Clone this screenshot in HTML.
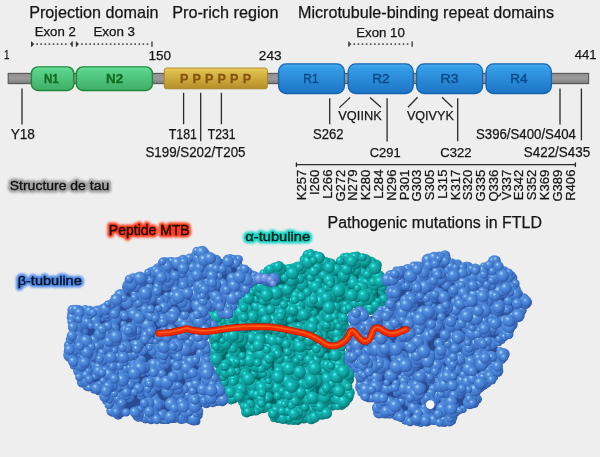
<!DOCTYPE html>
<html><head><meta charset="utf-8"><style>
html,body{margin:0;padding:0;background:#eeeeee;}
svg{display:block;font-family:"Liberation Sans",sans-serif;will-change:transform;}
</style></head><body>
<svg width="600" height="457" viewBox="0 0 600 457">
<defs>
<linearGradient id="gGray" x1="0" y1="0" x2="0" y2="1"><stop offset="0" stop-color="#8e8e8e"/><stop offset="0.5" stop-color="#9a9a9a"/><stop offset="1" stop-color="#7c7c7c"/></linearGradient>
<linearGradient id="gGreen" x1="0" y1="0" x2="0" y2="1"><stop offset="0" stop-color="#6ee39c"/><stop offset="0.15" stop-color="#5bd28b"/><stop offset="1" stop-color="#3fae66"/></linearGradient>
<linearGradient id="gGold" x1="0" y1="0" x2="0" y2="1"><stop offset="0" stop-color="#ead067"/><stop offset="0.15" stop-color="#dfbf4c"/><stop offset="1" stop-color="#b48e2a"/></linearGradient>
<linearGradient id="gBlue" x1="0" y1="0" x2="0" y2="1"><stop offset="0" stop-color="#4cacf0"/><stop offset="0.15" stop-color="#359ce6"/><stop offset="1" stop-color="#1c74c6"/></linearGradient>
<radialGradient id="sB" cx="0.36" cy="0.32" r="0.72"><stop offset="0" stop-color="#c8f0ff"/><stop offset="0.08" stop-color="#8cc2f0"/><stop offset="0.25" stop-color="#5790de"/><stop offset="0.55" stop-color="#4680d2"/><stop offset="0.8" stop-color="#3a6cbe"/><stop offset="1" stop-color="#2a509a"/></radialGradient>
<radialGradient id="sT" cx="0.36" cy="0.32" r="0.72"><stop offset="0" stop-color="#70fffc"/><stop offset="0.08" stop-color="#3ae2e0"/><stop offset="0.25" stop-color="#17bab6"/><stop offset="0.55" stop-color="#10a4a1"/><stop offset="0.8" stop-color="#0b8a88"/><stop offset="1" stop-color="#066868"/></radialGradient>
<filter id="fGray" x="-10%" y="-50%" width="120%" height="200%"><feMorphology in="SourceAlpha" operator="dilate" radius="1.8" result="d"/><feGaussianBlur in="d" stdDeviation="1.2" result="b"/><feFlood flood-color="#a4a4a4"/><feComposite in2="b" operator="in" result="g"/><feMerge><feMergeNode in="g"/><feMergeNode in="SourceGraphic"/></feMerge></filter>
<filter id="fRed" x="-10%" y="-50%" width="120%" height="200%"><feMorphology in="SourceAlpha" operator="dilate" radius="1.5" result="d"/><feGaussianBlur in="d" stdDeviation="1.0" result="b"/><feFlood flood-color="#ff2a0a"/><feComposite in2="b" operator="in" result="g"/><feMerge><feMergeNode in="g"/><feMergeNode in="SourceGraphic"/></feMerge></filter>
<filter id="fTeal" x="-10%" y="-50%" width="120%" height="200%"><feMorphology in="SourceAlpha" operator="dilate" radius="1.5" result="d"/><feGaussianBlur in="d" stdDeviation="1.0" result="b"/><feFlood flood-color="#19d3c3"/><feComposite in2="b" operator="in" result="g"/><feMerge><feMergeNode in="g"/><feMergeNode in="SourceGraphic"/></feMerge></filter>
<filter id="fBlue" x="-10%" y="-50%" width="120%" height="200%"><feMorphology in="SourceAlpha" operator="dilate" radius="1.5" result="d"/><feGaussianBlur in="d" stdDeviation="1.0" result="b"/><feFlood flood-color="#4a84e4"/><feComposite in2="b" operator="in" result="g"/><feMerge><feMergeNode in="g"/><feMergeNode in="SourceGraphic"/></feMerge></filter>
<filter id="fBlur8" x="-10%" y="-50%" width="120%" height="200%"><feGaussianBlur stdDeviation="0.8"/></filter><filter id="fBlur9" x="-10%" y="-50%" width="120%" height="200%"><feGaussianBlur stdDeviation="0.9"/></filter>
<radialGradient id="sL" cx="0.36" cy="0.32" r="0.72"><stop offset="0" stop-color="#b8d4ff"/><stop offset="0.25" stop-color="#7e9eea"/><stop offset="0.6" stop-color="#6a8ada"/><stop offset="1" stop-color="#4862b8"/></radialGradient>
</defs>
<rect width="600" height="457" fill="#eeeeee"/>

<text x="29.21" y="18.00" font-size="15.99" textLength="129.34" lengthAdjust="spacingAndGlyphs" fill="#161616" stroke="#161616" stroke-width="0.25">Projection domain</text>
<text x="172.20" y="18.00" font-size="15.99" textLength="106.41" lengthAdjust="spacingAndGlyphs" fill="#161616" stroke="#161616" stroke-width="0.25">Pro-rich region</text>
<text x="298.01" y="18.00" font-size="15.99" textLength="256.13" lengthAdjust="spacingAndGlyphs" fill="#161616" stroke="#161616" stroke-width="0.25">Microtubule-binding repeat domains</text>
<text x="34.75" y="36.30" font-size="12.06" textLength="40.95" lengthAdjust="spacingAndGlyphs" fill="#161616" stroke="#161616" stroke-width="0.25">Exon 2</text>
<text x="93.43" y="36.30" font-size="12.06" textLength="41.65" lengthAdjust="spacingAndGlyphs" fill="#161616" stroke="#161616" stroke-width="0.25">Exon 3</text>
<text x="356.24" y="36.70" font-size="12.21" textLength="48.51" lengthAdjust="spacingAndGlyphs" fill="#161616" stroke="#161616" stroke-width="0.25">Exon 10</text>
<rect x="31.0" y="41.5" width="1.1" height="5.2" fill="#333"/><rect x="71.5" y="41.4" width="1.3" height="5.4" fill="#333"/><path d="M32.0 42.0 L34.2 44.1 L32.0 46.2Z" fill="#333"/><path d="M71.8 42.1 L69.8 44.1 L71.8 46.1Z" fill="#333"/><rect x="36.3" y="43.3" width="1.6" height="1.6" fill="#444"/><rect x="40.4" y="43.3" width="1.6" height="1.6" fill="#444"/><rect x="44.5" y="43.3" width="1.6" height="1.6" fill="#444"/><rect x="48.6" y="43.3" width="1.6" height="1.6" fill="#444"/><rect x="52.7" y="43.3" width="1.6" height="1.6" fill="#444"/><rect x="56.8" y="43.3" width="1.6" height="1.6" fill="#444"/><rect x="60.9" y="43.3" width="1.6" height="1.6" fill="#444"/><rect x="65.0" y="43.3" width="1.6" height="1.6" fill="#444"/>
<rect x="75.8" y="41.5" width="1.1" height="5.2" fill="#333"/><rect x="151.3" y="41.4" width="1.3" height="5.4" fill="#333"/><path d="M76.8 42.0 L79.0 44.1 L76.8 46.2Z" fill="#333"/><rect x="81.1" y="43.3" width="1.6" height="1.6" fill="#444"/><rect x="85.2" y="43.3" width="1.6" height="1.6" fill="#444"/><rect x="89.3" y="43.3" width="1.6" height="1.6" fill="#444"/><rect x="93.4" y="43.3" width="1.6" height="1.6" fill="#444"/><rect x="97.5" y="43.3" width="1.6" height="1.6" fill="#444"/><rect x="101.6" y="43.3" width="1.6" height="1.6" fill="#444"/><rect x="105.7" y="43.3" width="1.6" height="1.6" fill="#444"/><rect x="109.8" y="43.3" width="1.6" height="1.6" fill="#444"/><rect x="113.9" y="43.3" width="1.6" height="1.6" fill="#444"/><rect x="118.0" y="43.3" width="1.6" height="1.6" fill="#444"/><rect x="122.1" y="43.3" width="1.6" height="1.6" fill="#444"/><rect x="126.2" y="43.3" width="1.6" height="1.6" fill="#444"/><rect x="130.3" y="43.3" width="1.6" height="1.6" fill="#444"/><rect x="134.4" y="43.3" width="1.6" height="1.6" fill="#444"/><rect x="138.5" y="43.3" width="1.6" height="1.6" fill="#444"/><rect x="142.6" y="43.3" width="1.6" height="1.6" fill="#444"/><rect x="146.7" y="43.3" width="1.6" height="1.6" fill="#444"/>
<rect x="348.2" y="41.5" width="1.1" height="5.2" fill="#333"/><rect x="411.5" y="41.4" width="1.3" height="5.4" fill="#333"/><path d="M349.2 42.0 L351.4 44.1 L349.2 46.2Z" fill="#333"/><rect x="353.5" y="43.3" width="1.6" height="1.6" fill="#444"/><rect x="357.6" y="43.3" width="1.6" height="1.6" fill="#444"/><rect x="361.7" y="43.3" width="1.6" height="1.6" fill="#444"/><rect x="365.8" y="43.3" width="1.6" height="1.6" fill="#444"/><rect x="369.9" y="43.3" width="1.6" height="1.6" fill="#444"/><rect x="374.0" y="43.3" width="1.6" height="1.6" fill="#444"/><rect x="378.1" y="43.3" width="1.6" height="1.6" fill="#444"/><rect x="382.2" y="43.3" width="1.6" height="1.6" fill="#444"/><rect x="386.3" y="43.3" width="1.6" height="1.6" fill="#444"/><rect x="390.4" y="43.3" width="1.6" height="1.6" fill="#444"/><rect x="394.5" y="43.3" width="1.6" height="1.6" fill="#444"/><rect x="398.6" y="43.3" width="1.6" height="1.6" fill="#444"/><rect x="402.7" y="43.3" width="1.6" height="1.6" fill="#444"/><rect x="406.8" y="43.3" width="1.6" height="1.6" fill="#444"/>
<text x="3.96" y="59.30" font-size="13.52" textLength="5.50" lengthAdjust="spacingAndGlyphs" fill="#161616" stroke="#161616" stroke-width="0.25">1</text>
<text x="148.49" y="59.50" font-size="13.52" textLength="22.53" lengthAdjust="spacingAndGlyphs" fill="#161616" stroke="#161616" stroke-width="0.25">150</text>
<text x="258.82" y="59.50" font-size="13.52" textLength="22.78" lengthAdjust="spacingAndGlyphs" fill="#161616" stroke="#161616" stroke-width="0.25">243</text>
<text x="574.74" y="59.30" font-size="13.52" textLength="21.90" lengthAdjust="spacingAndGlyphs" fill="#161616" stroke="#161616" stroke-width="0.25">441</text>
<rect x="8.2" y="73.4" width="580.4" height="10.2" fill="url(#gGray)" stroke="#555" stroke-width="1.1"/>
<rect x="31.4" y="66.9" width="42.4" height="23.6" rx="6.5" fill="url(#gGreen)" stroke="#1d8a3a" stroke-width="1.4"/>
<rect x="76.4" y="66.9" width="76" height="23.6" rx="6.5" fill="url(#gGreen)" stroke="#1d8a3a" stroke-width="1.4"/>
<text x="43.95" y="82.90" font-size="12.79" textLength="14.67" lengthAdjust="spacingAndGlyphs" fill="#0f6e22" font-weight="bold" stroke="#0f6e22" stroke-width="0.3">N1</text>
<text x="106.13" y="82.90" font-size="12.79" textLength="17.04" lengthAdjust="spacingAndGlyphs" fill="#0f6e22" font-weight="bold" stroke="#0f6e22" stroke-width="0.3">N2</text>
<rect x="164.2" y="68" width="103.2" height="20.8" rx="2.5" fill="url(#gGold)" stroke="#a8841e" stroke-width="0.9"/>
<text x="179.88" y="82.90" font-size="13.08" textLength="8.43" lengthAdjust="spacingAndGlyphs" fill="#85540e" font-weight="bold" stroke="#85540e" stroke-width="0.3">P</text>
<text x="192.43" y="82.90" font-size="13.08" textLength="8.43" lengthAdjust="spacingAndGlyphs" fill="#85540e" font-weight="bold" stroke="#85540e" stroke-width="0.3">P</text>
<text x="204.98" y="82.90" font-size="13.08" textLength="8.43" lengthAdjust="spacingAndGlyphs" fill="#85540e" font-weight="bold" stroke="#85540e" stroke-width="0.3">P</text>
<text x="217.53" y="82.90" font-size="13.08" textLength="8.43" lengthAdjust="spacingAndGlyphs" fill="#85540e" font-weight="bold" stroke="#85540e" stroke-width="0.3">P</text>
<text x="230.08" y="82.90" font-size="13.08" textLength="8.43" lengthAdjust="spacingAndGlyphs" fill="#85540e" font-weight="bold" stroke="#85540e" stroke-width="0.3">P</text>
<text x="242.63" y="82.90" font-size="13.08" textLength="8.43" lengthAdjust="spacingAndGlyphs" fill="#85540e" font-weight="bold" stroke="#85540e" stroke-width="0.3">P</text>
<rect x="278.6" y="63.9" width="65.8" height="29.6" rx="7.5" fill="url(#gBlue)" stroke="#1462b0" stroke-width="1.3"/>
<text x="303.35" y="83.00" font-size="13.37" textLength="15.23" lengthAdjust="spacingAndGlyphs" fill="#0b4a88" stroke="#0b4a88" stroke-width="0.45">R1</text>
<rect x="348.2" y="63.9" width="65.0" height="29.6" rx="7.5" fill="url(#gBlue)" stroke="#1462b0" stroke-width="1.3"/>
<text x="372.22" y="83.00" font-size="13.37" textLength="17.31" lengthAdjust="spacingAndGlyphs" fill="#0b4a88" stroke="#0b4a88" stroke-width="0.45">R2</text>
<rect x="416.6" y="63.9" width="66.0" height="29.6" rx="7.5" fill="url(#gBlue)" stroke="#1462b0" stroke-width="1.3"/>
<text x="440.56" y="83.00" font-size="13.37" textLength="18.15" lengthAdjust="spacingAndGlyphs" fill="#0b4a88" stroke="#0b4a88" stroke-width="0.45">R3</text>
<rect x="486.0" y="63.9" width="65.4" height="29.6" rx="7.5" fill="url(#gBlue)" stroke="#1462b0" stroke-width="1.3"/>
<text x="510.21" y="83.00" font-size="13.37" textLength="17.37" lengthAdjust="spacingAndGlyphs" fill="#0b4a88" stroke="#0b4a88" stroke-width="0.45">R4</text>
<line x1="22.0" y1="88.6" x2="22.0" y2="124.4" stroke="#2a2a2a" stroke-width="1.3"/>
<line x1="183.6" y1="92.8" x2="183.6" y2="124.2" stroke="#2a2a2a" stroke-width="1.3"/>
<line x1="200.7" y1="92.8" x2="200.7" y2="141.2" stroke="#2a2a2a" stroke-width="1.3"/>
<line x1="221.4" y1="92.8" x2="221.4" y2="124.2" stroke="#2a2a2a" stroke-width="1.3"/>
<line x1="329.7" y1="98.2" x2="329.7" y2="124.2" stroke="#2a2a2a" stroke-width="1.3"/>
<line x1="387.1" y1="98.2" x2="387.1" y2="141.5" stroke="#2a2a2a" stroke-width="1.3"/>
<line x1="457.7" y1="98.2" x2="457.7" y2="141.2" stroke="#2a2a2a" stroke-width="1.3"/>
<line x1="560.0" y1="88.5" x2="560.0" y2="124.4" stroke="#2a2a2a" stroke-width="1.3"/>
<line x1="581.4" y1="88.5" x2="581.4" y2="140.4" stroke="#2a2a2a" stroke-width="1.3"/>
<line x1="350.2" y1="97.4" x2="339.4" y2="107.6" stroke="#2a2a2a" stroke-width="1.3"/>
<line x1="370" y1="97.4" x2="381" y2="107.2" stroke="#2a2a2a" stroke-width="1.3"/>
<line x1="417.6" y1="97.2" x2="408" y2="107.2" stroke="#2a2a2a" stroke-width="1.3"/>
<line x1="442" y1="97.2" x2="452.4" y2="107.2" stroke="#2a2a2a" stroke-width="1.3"/>
<text x="10.66" y="139.00" font-size="13.95" textLength="24.28" lengthAdjust="spacingAndGlyphs" fill="#161616" stroke="#161616" stroke-width="0.25">Y18</text>
<text x="168.75" y="139.00" font-size="13.95" textLength="28.20" lengthAdjust="spacingAndGlyphs" fill="#161616" stroke="#161616" stroke-width="0.25">T181</text>
<text x="207.76" y="139.00" font-size="13.95" textLength="27.78" lengthAdjust="spacingAndGlyphs" fill="#161616" stroke="#161616" stroke-width="0.25">T231</text>
<text x="145.40" y="157.40" font-size="13.95" textLength="100.15" lengthAdjust="spacingAndGlyphs" fill="#161616" stroke="#161616" stroke-width="0.25">S199/S202/T205</text>
<text x="313.01" y="139.00" font-size="13.95" textLength="30.65" lengthAdjust="spacingAndGlyphs" fill="#161616" stroke="#161616" stroke-width="0.25">S262</text>
<text x="338.34" y="120.40" font-size="13.66" textLength="43.39" lengthAdjust="spacingAndGlyphs" fill="#161616" stroke="#161616" stroke-width="0.25">VQIINK</text>
<text x="369.76" y="156.60" font-size="13.66" textLength="30.83" lengthAdjust="spacingAndGlyphs" fill="#161616" stroke="#161616" stroke-width="0.25">C291</text>
<text x="406.94" y="120.40" font-size="13.66" textLength="46.84" lengthAdjust="spacingAndGlyphs" fill="#161616" stroke="#161616" stroke-width="0.25">VQIVYK</text>
<text x="440.34" y="156.60" font-size="13.66" textLength="31.32" lengthAdjust="spacingAndGlyphs" fill="#161616" stroke="#161616" stroke-width="0.25">C322</text>
<text x="476.01" y="139.00" font-size="13.95" textLength="99.96" lengthAdjust="spacingAndGlyphs" fill="#161616" stroke="#161616" stroke-width="0.25">S396/S400/S404</text>
<text x="523.80" y="156.60" font-size="13.95" textLength="66.32" lengthAdjust="spacingAndGlyphs" fill="#161616" stroke="#161616" stroke-width="0.25">S422/S435</text>
<line x1="296.4" y1="164.6" x2="575.4" y2="164.6" stroke="#2a2a2a" stroke-width="1.4"/>
<line x1="296.4" y1="162.4" x2="296.4" y2="167.0" stroke="#2a2a2a" stroke-width="1.3"/>
<line x1="575.4" y1="162.4" x2="575.4" y2="167.0" stroke="#2a2a2a" stroke-width="1.3"/>
<text transform="translate(306.40,169.6) rotate(-90)" x="0" y="0" font-size="13.08" text-anchor="end" fill="#161616" stroke="#161616" stroke-width="0.25">K257</text>
<text transform="translate(319.17,169.6) rotate(-90)" x="0" y="0" font-size="13.08" text-anchor="end" fill="#161616" stroke="#161616" stroke-width="0.25">I260</text>
<text transform="translate(331.94,169.6) rotate(-90)" x="0" y="0" font-size="13.08" text-anchor="end" fill="#161616" stroke="#161616" stroke-width="0.25">L266</text>
<text transform="translate(344.71,169.6) rotate(-90)" x="0" y="0" font-size="13.08" text-anchor="end" fill="#161616" stroke="#161616" stroke-width="0.25">G272</text>
<text transform="translate(357.48,169.6) rotate(-90)" x="0" y="0" font-size="13.08" text-anchor="end" fill="#161616" stroke="#161616" stroke-width="0.25">N279</text>
<text transform="translate(370.25,169.6) rotate(-90)" x="0" y="0" font-size="13.08" text-anchor="end" fill="#161616" stroke="#161616" stroke-width="0.25">K280</text>
<text transform="translate(383.02,169.6) rotate(-90)" x="0" y="0" font-size="13.08" text-anchor="end" fill="#161616" stroke="#161616" stroke-width="0.25">L284</text>
<text transform="translate(395.79,169.6) rotate(-90)" x="0" y="0" font-size="13.08" text-anchor="end" fill="#161616" stroke="#161616" stroke-width="0.25">N296</text>
<text transform="translate(408.56,169.6) rotate(-90)" x="0" y="0" font-size="13.08" text-anchor="end" fill="#161616" stroke="#161616" stroke-width="0.25">P301</text>
<text transform="translate(421.33,169.6) rotate(-90)" x="0" y="0" font-size="13.08" text-anchor="end" fill="#161616" stroke="#161616" stroke-width="0.25">G303</text>
<text transform="translate(434.10,169.6) rotate(-90)" x="0" y="0" font-size="13.08" text-anchor="end" fill="#161616" stroke="#161616" stroke-width="0.25">S305</text>
<text transform="translate(446.87,169.6) rotate(-90)" x="0" y="0" font-size="13.08" text-anchor="end" fill="#161616" stroke="#161616" stroke-width="0.25">L315</text>
<text transform="translate(459.64,169.6) rotate(-90)" x="0" y="0" font-size="13.08" text-anchor="end" fill="#161616" stroke="#161616" stroke-width="0.25">K317</text>
<text transform="translate(472.41,169.6) rotate(-90)" x="0" y="0" font-size="13.08" text-anchor="end" fill="#161616" stroke="#161616" stroke-width="0.25">S320</text>
<text transform="translate(485.18,169.6) rotate(-90)" x="0" y="0" font-size="13.08" text-anchor="end" fill="#161616" stroke="#161616" stroke-width="0.25">G335</text>
<text transform="translate(497.95,169.6) rotate(-90)" x="0" y="0" font-size="13.08" text-anchor="end" fill="#161616" stroke="#161616" stroke-width="0.25">Q336</text>
<text transform="translate(510.72,169.6) rotate(-90)" x="0" y="0" font-size="13.08" text-anchor="end" fill="#161616" stroke="#161616" stroke-width="0.25">V337</text>
<text transform="translate(523.49,169.6) rotate(-90)" x="0" y="0" font-size="13.08" text-anchor="end" fill="#161616" stroke="#161616" stroke-width="0.25">E342</text>
<text transform="translate(536.26,169.6) rotate(-90)" x="0" y="0" font-size="13.08" text-anchor="end" fill="#161616" stroke="#161616" stroke-width="0.25">S352</text>
<text transform="translate(549.03,169.6) rotate(-90)" x="0" y="0" font-size="13.08" text-anchor="end" fill="#161616" stroke="#161616" stroke-width="0.25">K369</text>
<text transform="translate(561.80,169.6) rotate(-90)" x="0" y="0" font-size="13.08" text-anchor="end" fill="#161616" stroke="#161616" stroke-width="0.25">G389</text>
<text transform="translate(574.57,169.6) rotate(-90)" x="0" y="0" font-size="13.08" text-anchor="end" fill="#161616" stroke="#161616" stroke-width="0.25">R406</text>
<g filter="url(#fBlur9)"><text x="9.77" y="189.90" font-size="13.52" textLength="99.44" lengthAdjust="spacingAndGlyphs" fill="#a2a2a2" stroke="#a2a2a2" stroke-width="5.6" stroke-linejoin="round">Structure de tau</text></g><text x="9.77" y="189.90" font-size="13.52" textLength="99.44" lengthAdjust="spacingAndGlyphs" fill="#111111" stroke="#111111" stroke-width="0.35">Structure de tau</text>
<path d="M259.4 278.0 L258.8 281.0 L258.7 281.2 L258.6 281.4 L258.5 281.6 L258.4 281.8 L253.1 290.6 L253.0 290.8 L252.8 291.1 L245.8 298.1 L245.6 298.2 L245.4 298.4 L241.0 301.3 L239.4 309.0 L239.4 309.2 L239.3 309.5 L239.2 309.7 L239.1 309.9 L238.9 310.1 L238.8 310.3 L231.8 317.2 L227.9 321.7 L227.7 321.8 L227.5 322.0 L227.3 322.1 L227.1 322.3 L226.9 322.3 L226.6 322.4 L226.4 322.5 L226.1 322.5 L225.9 322.5 L225.6 322.5 L225.4 322.4 L225.2 322.4 L224.9 322.3 L224.7 322.1 L224.5 322.0 L224.3 321.8 L224.1 321.7 L224.0 321.5 L223.8 321.3 L219.7 314.2 L214.4 312.9 L212.0 313.7 L213.0 317.5 L217.4 320.4 L217.6 320.6 L217.8 320.7 L217.9 320.9 L218.1 321.1 L218.2 321.3 L218.3 321.5 L218.4 321.8 L218.5 322.0 L218.5 322.3 L218.5 322.5 L218.5 327.8 L218.5 328.1 L218.4 328.3 L218.4 328.6 L218.3 328.8 L218.2 329.0 L218.0 329.3 L217.9 329.5 L217.7 329.6 L217.5 329.8 L211.5 334.3 L211.5 339.8 L213.3 349.6 L213.3 349.8 L213.3 350.0 L213.3 350.2 L212.5 359.5 L219.0 371.8 L219.1 372.1 L223.5 382.8 L227.7 391.4 L227.8 391.6 L227.9 391.9 L230.0 399.9 L230.7 400.7 L238.2 399.8 L238.5 399.8 L238.7 399.8 L238.9 399.8 L239.2 399.9 L239.4 400.0 L239.6 400.1 L239.8 400.2 L240.0 400.3 L240.2 400.5 L240.4 400.6 L240.5 400.8 L240.6 401.0 L240.8 401.2 L240.9 401.5 L244.7 412.2 L249.4 413.7 L257.4 411.8 L257.7 411.7 L266.4 410.5 L266.6 410.5 L266.9 410.5 L267.1 410.5 L267.3 410.6 L267.6 410.7 L267.8 410.8 L268.0 410.9 L268.2 411.0 L268.4 411.2 L268.6 411.4 L268.8 411.6 L268.9 411.8 L272.7 418.6 L282.3 421.5 L292.6 422.5 L299.7 421.5 L306.6 420.5 L307.0 420.5 L313.5 420.5 L321.8 417.2 L327.7 414.2 L329.1 410.0 L329.2 409.8 L329.3 409.6 L329.4 409.4 L329.6 409.2 L329.8 409.0 L329.9 408.8 L330.1 408.7 L330.4 408.6 L333.9 406.8 L334.1 406.7 L334.3 406.6 L334.6 406.5 L334.8 406.5 L335.1 406.5 L335.4 406.5 L341.6 407.4 L345.6 405.3 L350.2 399.3 L351.7 391.7 L350.1 387.1 L350.1 386.9 L350.0 386.6 L350.0 386.3 L350.0 386.1 L350.1 385.8 L351.7 377.6 L350.2 371.5 L343.4 361.4 L343.3 361.2 L343.2 360.9 L343.1 360.7 L343.0 360.4 L343.0 360.2 L343.0 359.9 L343.5 339.9 L343.5 339.6 L345.0 329.6 L345.1 329.4 L345.1 329.2 L346.7 324.8 L345.1 320.3 L345.1 320.0 L345.0 319.8 L345.0 319.5 L345.0 314.3 L345.0 314.1 L345.0 313.8 L345.1 313.6 L345.2 313.3 L345.3 313.1 L345.4 312.9 L345.6 312.7 L345.7 312.5 L351.0 307.2 L351.2 307.1 L351.4 306.9 L351.6 306.8 L351.8 306.7 L352.0 306.6 L352.2 306.6 L359.2 304.9 L359.4 304.8 L359.7 304.8 L359.9 304.8 L360.1 304.8 L360.4 304.9 L360.6 304.9 L365.8 306.6 L366.0 306.7 L366.2 306.8 L366.4 306.9 L366.6 307.1 L366.8 307.2 L366.9 307.4 L367.1 307.6 L369.5 311.3 L372.4 310.3 L377.2 305.5 L377.4 305.4 L377.6 305.2 L377.8 305.1 L378.0 305.0 L378.2 304.9 L382.7 303.4 L385.1 299.8 L383.6 292.0 L383.5 291.8 L383.5 291.5 L383.5 291.2 L383.6 291.0 L385.2 283.0 L382.8 276.2 L379.2 271.5 L379.1 271.3 L379.0 271.1 L378.9 270.9 L378.8 270.6 L378.8 270.4 L377.7 263.7 L373.6 259.7 L364.3 256.2 L357.3 255.0 L350.2 255.0 L342.6 256.1 L339.5 260.2 L339.3 260.4 L339.2 260.6 L339.0 260.8 L338.8 260.9 L338.6 261.0 L338.3 261.1 L338.1 261.2 L333.1 262.4 L332.8 262.5 L332.6 262.5 L332.3 262.5 L332.1 262.5 L331.8 262.4 L331.6 262.3 L331.3 262.2 L323.8 258.2 L323.7 258.1 L316.5 253.6 L310.3 252.1 L305.6 254.4 L302.2 261.1 L302.1 261.3 L302.0 261.5 L301.8 261.7 L301.7 261.8 L301.5 262.0 L301.3 262.1 L301.1 262.2 L293.6 266.0 L293.4 266.1 L293.2 266.2 L292.9 266.2 L285.4 267.5 L285.2 267.5 L284.9 267.5 L284.7 267.5 L284.5 267.4 L284.3 267.4 L284.0 267.3 L283.8 267.2 L277.5 263.8 L271.2 267.2 L270.9 267.3 L267.3 268.7 L262.9 272.6Z" fill="#066666"/><g fill="url(#sT)"><circle cx="271.3" cy="378.4" r="3.7"/><circle cx="332.9" cy="288.3" r="4.0"/><circle cx="249.9" cy="351.6" r="3.7"/><circle cx="303.2" cy="285.2" r="4.1"/><circle cx="241.9" cy="316.3" r="5.1"/><circle cx="324.0" cy="384.6" r="4.4"/><circle cx="302.8" cy="394.2" r="3.8"/><circle cx="261.6" cy="280.1" r="5.5"/><circle cx="342.1" cy="334.6" r="5.3"/><circle cx="225.6" cy="378.0" r="5.4"/><circle cx="293.2" cy="289.6" r="6.2"/><circle cx="301.6" cy="415.9" r="4.5"/><circle cx="223.1" cy="376.9" r="5.4"/><circle cx="319.3" cy="260.7" r="4.3"/><circle cx="269.9" cy="285.2" r="4.4"/><circle cx="250.2" cy="311.2" r="4.5"/><circle cx="309.5" cy="390.9" r="6.8"/><circle cx="328.0" cy="262.8" r="4.7"/><circle cx="286.6" cy="297.3" r="4.1"/><circle cx="275.0" cy="351.4" r="6.5"/><circle cx="323.0" cy="314.3" r="4.4"/><circle cx="284.1" cy="292.6" r="3.8"/><circle cx="322.7" cy="320.5" r="5.2"/><circle cx="340.7" cy="326.6" r="5.7"/><circle cx="290.5" cy="375.6" r="5.6"/><circle cx="325.6" cy="356.7" r="3.5"/><circle cx="306.6" cy="379.9" r="4.3"/><circle cx="281.6" cy="398.7" r="5.7"/><circle cx="275.7" cy="408.6" r="4.6"/><circle cx="260.8" cy="334.6" r="3.7"/><circle cx="292.8" cy="374.3" r="5.5"/><circle cx="292.2" cy="301.4" r="6.2"/><circle cx="216.1" cy="345.4" r="5.9"/><circle cx="312.1" cy="325.0" r="4.0"/><circle cx="245.6" cy="320.9" r="5.3"/><circle cx="301.5" cy="346.7" r="4.5"/><circle cx="273.9" cy="305.3" r="5.6"/><circle cx="265.5" cy="356.0" r="5.9"/><circle cx="258.8" cy="362.3" r="4.0"/><circle cx="355.1" cy="300.6" r="6.6"/><circle cx="292.8" cy="386.7" r="6.7"/><circle cx="297.0" cy="346.3" r="3.6"/><circle cx="245.2" cy="397.0" r="5.7"/><circle cx="325.3" cy="270.9" r="4.1"/><circle cx="315.4" cy="379.7" r="3.6"/><circle cx="352.9" cy="268.1" r="5.7"/><circle cx="247.7" cy="365.2" r="4.1"/><circle cx="321.6" cy="349.3" r="5.2"/><circle cx="304.5" cy="266.9" r="4.0"/><circle cx="250.1" cy="335.4" r="6.4"/><circle cx="222.6" cy="370.1" r="5.4"/><circle cx="383.7" cy="294.5" r="3.3"/><circle cx="343.5" cy="370.9" r="6.1"/><circle cx="223.3" cy="369.3" r="3.7"/><circle cx="276.0" cy="279.3" r="4.5"/><circle cx="263.3" cy="371.2" r="4.3"/><circle cx="272.7" cy="378.2" r="5.5"/><circle cx="330.6" cy="390.8" r="5.2"/><circle cx="345.0" cy="311.4" r="3.4"/><circle cx="348.6" cy="296.7" r="5.1"/><circle cx="233.7" cy="399.6" r="4.0"/><circle cx="344.1" cy="266.3" r="5.2"/><circle cx="213.5" cy="355.6" r="3.4"/><circle cx="360.4" cy="271.0" r="4.4"/><circle cx="308.4" cy="323.7" r="5.5"/><circle cx="321.4" cy="262.8" r="6.3"/><circle cx="302.3" cy="331.5" r="3.4"/><circle cx="332.0" cy="384.6" r="5.7"/><circle cx="261.5" cy="357.2" r="6.0"/><circle cx="255.2" cy="301.5" r="4.1"/><circle cx="267.0" cy="269.9" r="3.2"/><circle cx="292.9" cy="378.5" r="6.6"/><circle cx="302.2" cy="383.6" r="5.1"/><circle cx="264.5" cy="381.6" r="4.6"/><circle cx="336.9" cy="358.8" r="3.5"/><circle cx="283.2" cy="310.9" r="4.2"/><circle cx="374.8" cy="283.2" r="3.5"/><circle cx="302.7" cy="315.2" r="6.3"/><circle cx="281.3" cy="383.4" r="6.6"/><circle cx="319.9" cy="302.8" r="4.4"/><circle cx="355.1" cy="261.1" r="6.7"/><circle cx="335.5" cy="287.8" r="6.2"/><circle cx="245.6" cy="366.6" r="5.9"/><circle cx="336.4" cy="313.6" r="5.7"/><circle cx="256.7" cy="323.7" r="5.9"/><circle cx="304.0" cy="317.1" r="5.8"/><circle cx="257.8" cy="355.9" r="5.6"/><circle cx="268.2" cy="291.0" r="4.5"/><circle cx="276.4" cy="354.2" r="5.5"/><circle cx="258.7" cy="371.7" r="6.0"/><circle cx="254.3" cy="313.2" r="6.5"/><circle cx="266.5" cy="293.4" r="3.9"/><circle cx="269.4" cy="327.8" r="5.6"/><circle cx="267.1" cy="359.8" r="4.8"/><circle cx="229.4" cy="387.7" r="4.7"/><circle cx="299.0" cy="394.7" r="4.7"/><circle cx="309.9" cy="407.5" r="4.9"/><circle cx="291.5" cy="392.5" r="4.6"/><circle cx="254.3" cy="362.7" r="6.0"/><circle cx="256.5" cy="306.6" r="5.6"/><circle cx="324.5" cy="315.4" r="3.4"/><circle cx="260.5" cy="400.7" r="5.3"/><circle cx="273.8" cy="320.0" r="6.4"/><circle cx="305.1" cy="273.5" r="6.2"/><circle cx="374.5" cy="283.7" r="4.3"/><circle cx="307.2" cy="353.8" r="5.3"/><circle cx="303.6" cy="416.7" r="6.7"/><circle cx="317.2" cy="403.9" r="5.7"/><circle cx="364.4" cy="276.4" r="5.7"/><circle cx="382.0" cy="301.9" r="4.4"/><circle cx="263.6" cy="286.4" r="3.9"/><circle cx="343.2" cy="390.8" r="6.4"/><circle cx="318.9" cy="320.7" r="6.3"/><circle cx="381.6" cy="291.8" r="3.7"/><circle cx="235.9" cy="316.9" r="6.5"/><circle cx="225.9" cy="386.8" r="3.7"/><circle cx="328.6" cy="270.6" r="5.2"/><circle cx="316.5" cy="261.1" r="4.2"/><circle cx="248.7" cy="378.7" r="4.1"/><circle cx="268.9" cy="351.1" r="3.9"/><circle cx="291.8" cy="353.6" r="6.2"/><circle cx="267.3" cy="374.2" r="5.7"/><circle cx="289.0" cy="418.4" r="6.3"/><circle cx="219.9" cy="318.2" r="3.8"/><circle cx="346.6" cy="295.5" r="3.9"/><circle cx="340.8" cy="281.8" r="5.8"/><circle cx="344.8" cy="326.3" r="3.7"/><circle cx="333.6" cy="334.2" r="5.6"/><circle cx="256.1" cy="387.8" r="3.8"/><circle cx="311.3" cy="419.0" r="5.3"/><circle cx="217.2" cy="342.8" r="6.6"/><circle cx="296.5" cy="375.0" r="3.5"/><circle cx="265.9" cy="277.6" r="5.4"/><circle cx="350.7" cy="277.9" r="4.1"/><circle cx="242.8" cy="303.4" r="5.3"/><circle cx="220.4" cy="324.9" r="5.5"/><circle cx="298.9" cy="273.4" r="5.7"/><circle cx="309.8" cy="391.3" r="4.6"/><circle cx="341.5" cy="404.8" r="5.1"/><circle cx="314.4" cy="271.7" r="6.1"/><circle cx="268.7" cy="369.4" r="3.8"/><circle cx="334.7" cy="311.4" r="3.4"/><circle cx="268.2" cy="274.5" r="5.9"/><circle cx="286.0" cy="268.5" r="3.8"/><circle cx="231.2" cy="397.0" r="5.3"/><circle cx="244.8" cy="332.3" r="3.4"/><circle cx="277.1" cy="325.5" r="3.4"/><circle cx="329.6" cy="288.9" r="5.6"/><circle cx="294.7" cy="303.3" r="3.2"/><circle cx="321.4" cy="286.1" r="3.9"/><circle cx="318.4" cy="401.4" r="4.6"/><circle cx="263.7" cy="296.9" r="6.0"/><circle cx="272.2" cy="310.2" r="3.7"/><circle cx="311.3" cy="284.2" r="6.5"/><circle cx="274.4" cy="355.0" r="4.5"/><circle cx="312.0" cy="412.2" r="4.2"/><circle cx="314.9" cy="255.8" r="5.0"/><circle cx="237.8" cy="375.6" r="6.6"/><circle cx="254.8" cy="393.9" r="5.3"/><circle cx="256.4" cy="299.3" r="4.0"/><circle cx="254.8" cy="383.3" r="4.3"/><circle cx="239.7" cy="373.6" r="3.5"/><circle cx="344.3" cy="266.3" r="5.9"/><circle cx="356.9" cy="256.1" r="4.6"/><circle cx="244.7" cy="359.5" r="4.7"/><circle cx="326.1" cy="344.3" r="5.0"/><circle cx="342.3" cy="275.8" r="4.2"/><circle cx="221.4" cy="351.6" r="4.2"/><circle cx="293.3" cy="328.6" r="6.5"/><circle cx="323.8" cy="342.8" r="5.6"/><circle cx="277.8" cy="340.6" r="4.4"/><circle cx="297.9" cy="296.1" r="3.2"/><circle cx="344.5" cy="396.4" r="4.5"/><circle cx="369.5" cy="295.6" r="6.7"/><circle cx="289.8" cy="349.6" r="5.2"/><circle cx="291.0" cy="361.4" r="5.0"/><circle cx="320.5" cy="267.4" r="5.5"/><circle cx="289.0" cy="349.2" r="5.6"/><circle cx="254.6" cy="325.7" r="5.2"/><circle cx="235.5" cy="341.7" r="5.4"/><circle cx="323.6" cy="328.0" r="5.3"/><circle cx="230.1" cy="349.1" r="3.9"/><circle cx="283.5" cy="303.9" r="5.3"/><circle cx="256.8" cy="343.0" r="5.6"/><circle cx="369.5" cy="296.4" r="4.8"/><circle cx="291.5" cy="284.5" r="3.9"/><circle cx="256.4" cy="409.0" r="5.9"/><circle cx="292.3" cy="384.0" r="5.9"/><circle cx="307.4" cy="370.5" r="6.2"/><circle cx="293.7" cy="360.2" r="5.0"/><circle cx="281.9" cy="396.1" r="4.4"/><circle cx="293.8" cy="269.6" r="4.8"/><circle cx="368.9" cy="295.1" r="6.3"/><circle cx="319.7" cy="337.6" r="5.8"/><circle cx="335.4" cy="367.6" r="5.8"/><circle cx="360.8" cy="281.0" r="3.5"/><circle cx="293.8" cy="314.0" r="3.2"/><circle cx="230.9" cy="370.5" r="3.8"/><circle cx="287.2" cy="383.6" r="4.9"/><circle cx="236.7" cy="371.2" r="3.9"/><circle cx="282.9" cy="404.8" r="3.8"/><circle cx="247.0" cy="393.1" r="5.8"/><circle cx="333.7" cy="296.6" r="3.3"/><circle cx="321.3" cy="259.9" r="4.8"/><circle cx="292.3" cy="317.0" r="4.8"/><circle cx="334.0" cy="317.9" r="3.7"/><circle cx="326.4" cy="313.4" r="5.5"/><circle cx="228.4" cy="332.3" r="5.4"/><circle cx="284.6" cy="302.7" r="4.9"/><circle cx="382.5" cy="286.6" r="5.2"/><circle cx="223.4" cy="347.1" r="6.3"/><circle cx="290.0" cy="355.3" r="5.5"/><circle cx="250.1" cy="324.0" r="6.0"/><circle cx="313.0" cy="312.7" r="4.8"/><circle cx="341.4" cy="318.9" r="6.0"/><circle cx="224.5" cy="335.8" r="3.4"/><circle cx="263.5" cy="273.2" r="4.0"/><circle cx="249.3" cy="364.8" r="6.7"/><circle cx="279.2" cy="342.8" r="5.0"/><circle cx="265.4" cy="304.3" r="5.0"/><circle cx="260.8" cy="295.1" r="4.7"/><circle cx="298.2" cy="344.6" r="3.7"/><circle cx="349.2" cy="379.5" r="4.9"/><circle cx="290.0" cy="376.9" r="5.5"/><circle cx="330.2" cy="311.8" r="5.2"/><circle cx="254.3" cy="373.7" r="4.0"/><circle cx="224.3" cy="382.2" r="4.2"/><circle cx="367.7" cy="284.8" r="4.3"/><circle cx="318.0" cy="360.2" r="6.0"/><circle cx="287.9" cy="275.2" r="5.3"/><circle cx="287.9" cy="336.7" r="6.5"/><circle cx="296.1" cy="297.8" r="4.1"/><circle cx="340.7" cy="307.1" r="5.7"/><circle cx="290.2" cy="312.2" r="6.1"/><circle cx="291.2" cy="287.0" r="4.9"/><circle cx="292.2" cy="309.5" r="4.4"/><circle cx="301.8" cy="361.2" r="6.5"/><circle cx="263.3" cy="334.1" r="3.2"/><circle cx="296.5" cy="303.1" r="4.9"/><circle cx="277.2" cy="273.4" r="6.2"/><circle cx="283.2" cy="380.2" r="3.7"/><circle cx="314.4" cy="264.3" r="6.7"/><circle cx="320.2" cy="354.1" r="3.7"/><circle cx="238.1" cy="336.5" r="5.8"/><circle cx="240.8" cy="384.0" r="6.6"/><circle cx="344.2" cy="257.5" r="4.6"/><circle cx="302.4" cy="276.1" r="3.9"/><circle cx="299.4" cy="327.0" r="4.9"/><circle cx="304.9" cy="319.7" r="4.4"/><circle cx="242.3" cy="360.1" r="6.7"/><circle cx="305.4" cy="396.3" r="4.4"/><circle cx="369.7" cy="284.8" r="3.8"/><circle cx="300.3" cy="410.9" r="6.1"/><circle cx="233.6" cy="394.7" r="3.2"/><circle cx="222.8" cy="324.4" r="6.1"/><circle cx="305.9" cy="342.6" r="6.4"/><circle cx="264.7" cy="331.5" r="4.1"/><circle cx="264.3" cy="296.3" r="4.7"/><circle cx="339.2" cy="319.1" r="3.4"/><circle cx="263.2" cy="347.7" r="6.8"/><circle cx="301.3" cy="333.7" r="5.2"/><circle cx="234.3" cy="352.2" r="6.5"/><circle cx="266.8" cy="301.6" r="5.2"/><circle cx="352.6" cy="301.4" r="6.2"/><circle cx="341.6" cy="353.2" r="4.1"/><circle cx="363.2" cy="261.2" r="6.6"/><circle cx="306.4" cy="398.8" r="5.5"/><circle cx="264.0" cy="384.4" r="5.4"/><circle cx="342.2" cy="321.4" r="5.2"/><circle cx="216.5" cy="335.1" r="6.2"/><circle cx="331.8" cy="378.5" r="4.6"/><circle cx="264.9" cy="286.4" r="6.2"/><circle cx="331.7" cy="345.6" r="4.4"/><circle cx="253.3" cy="356.1" r="3.6"/><circle cx="289.3" cy="290.6" r="5.3"/><circle cx="320.5" cy="398.1" r="4.1"/><circle cx="306.3" cy="255.7" r="3.9"/><circle cx="314.9" cy="367.2" r="5.3"/><circle cx="236.1" cy="386.4" r="5.1"/><circle cx="243.8" cy="316.1" r="3.3"/><circle cx="232.3" cy="395.4" r="3.4"/><circle cx="246.6" cy="411.9" r="5.6"/><circle cx="317.7" cy="339.0" r="5.9"/><circle cx="234.2" cy="334.6" r="5.7"/><circle cx="231.0" cy="399.7" r="4.8"/><circle cx="322.6" cy="364.7" r="5.0"/><circle cx="270.8" cy="308.8" r="4.5"/><circle cx="339.5" cy="305.8" r="6.4"/><circle cx="289.1" cy="304.5" r="3.3"/><circle cx="299.6" cy="310.4" r="3.9"/><circle cx="336.8" cy="330.1" r="6.0"/><circle cx="278.7" cy="320.7" r="6.1"/><circle cx="225.9" cy="327.4" r="6.2"/><circle cx="362.7" cy="272.3" r="4.0"/><circle cx="245.2" cy="372.9" r="4.7"/><circle cx="283.2" cy="340.8" r="3.6"/><circle cx="291.2" cy="375.0" r="6.7"/><circle cx="341.1" cy="365.7" r="5.5"/><circle cx="376.5" cy="264.9" r="5.3"/><circle cx="231.6" cy="333.7" r="3.2"/><circle cx="263.5" cy="407.5" r="5.8"/><circle cx="272.2" cy="340.5" r="3.3"/><circle cx="332.5" cy="406.6" r="4.1"/><circle cx="265.6" cy="362.1" r="5.5"/><circle cx="360.4" cy="304.3" r="3.3"/><circle cx="233.0" cy="398.9" r="3.6"/><circle cx="219.1" cy="349.8" r="3.5"/><circle cx="280.3" cy="364.9" r="6.6"/><circle cx="281.1" cy="396.1" r="3.3"/><circle cx="306.0" cy="370.1" r="5.7"/><circle cx="354.3" cy="292.0" r="3.4"/><circle cx="296.4" cy="347.6" r="4.9"/><circle cx="278.9" cy="387.9" r="4.9"/><circle cx="215.3" cy="315.2" r="5.9"/><circle cx="254.9" cy="336.3" r="6.1"/><circle cx="333.3" cy="319.2" r="5.0"/><circle cx="257.3" cy="351.0" r="4.9"/><circle cx="356.3" cy="270.3" r="5.0"/><circle cx="345.0" cy="285.0" r="6.0"/><circle cx="260.4" cy="400.5" r="6.6"/><circle cx="372.5" cy="297.3" r="4.4"/><circle cx="260.7" cy="315.5" r="4.7"/><circle cx="329.9" cy="399.6" r="5.6"/><circle cx="304.6" cy="259.9" r="5.0"/><circle cx="308.7" cy="387.3" r="5.8"/><circle cx="265.4" cy="300.9" r="5.3"/><circle cx="301.0" cy="303.4" r="4.1"/><circle cx="299.1" cy="296.7" r="4.5"/><circle cx="237.1" cy="324.5" r="5.6"/><circle cx="269.4" cy="347.7" r="5.6"/><circle cx="319.4" cy="297.5" r="6.5"/><circle cx="290.3" cy="320.1" r="3.6"/><circle cx="300.5" cy="366.7" r="4.3"/><circle cx="348.7" cy="381.7" r="3.2"/><circle cx="370.1" cy="293.9" r="5.9"/><circle cx="305.6" cy="328.2" r="4.1"/><circle cx="354.7" cy="303.5" r="5.0"/><circle cx="336.5" cy="364.4" r="4.7"/><circle cx="247.6" cy="407.3" r="5.8"/><circle cx="378.0" cy="275.9" r="5.1"/><circle cx="255.8" cy="316.0" r="4.4"/><circle cx="278.0" cy="333.9" r="5.7"/><circle cx="318.4" cy="294.7" r="6.7"/><circle cx="333.2" cy="331.8" r="5.0"/><circle cx="343.5" cy="279.8" r="6.6"/><circle cx="284.4" cy="338.3" r="3.4"/><circle cx="279.7" cy="300.5" r="4.1"/><circle cx="286.5" cy="298.8" r="3.6"/><circle cx="340.6" cy="334.7" r="4.1"/><circle cx="221.2" cy="345.3" r="6.3"/><circle cx="370.3" cy="271.2" r="4.8"/><circle cx="297.3" cy="407.0" r="5.6"/><circle cx="335.3" cy="350.0" r="4.3"/><circle cx="267.8" cy="338.6" r="5.4"/><circle cx="268.4" cy="351.8" r="3.9"/><circle cx="297.4" cy="401.3" r="4.9"/><circle cx="302.6" cy="341.0" r="4.3"/><circle cx="383.4" cy="297.6" r="3.6"/><circle cx="333.1" cy="270.9" r="5.2"/><circle cx="262.3" cy="291.3" r="3.6"/><circle cx="327.1" cy="288.7" r="4.7"/><circle cx="313.8" cy="330.4" r="3.9"/><circle cx="227.4" cy="373.0" r="5.7"/><circle cx="257.2" cy="290.0" r="4.6"/><circle cx="254.7" cy="350.4" r="3.2"/><circle cx="345.8" cy="367.4" r="4.4"/><circle cx="300.7" cy="316.8" r="3.9"/><circle cx="336.6" cy="387.4" r="5.4"/><circle cx="288.9" cy="390.8" r="5.6"/><circle cx="283.3" cy="377.7" r="6.5"/><circle cx="263.0" cy="366.4" r="6.2"/><circle cx="267.5" cy="386.6" r="6.5"/><circle cx="297.9" cy="291.8" r="3.8"/><circle cx="243.1" cy="337.4" r="4.7"/><circle cx="256.6" cy="334.2" r="4.2"/><circle cx="370.7" cy="262.8" r="6.2"/><circle cx="356.0" cy="288.5" r="3.5"/><circle cx="213.9" cy="351.2" r="3.9"/><circle cx="282.0" cy="404.7" r="6.1"/><circle cx="310.5" cy="333.7" r="4.5"/><circle cx="291.9" cy="328.1" r="4.3"/><circle cx="346.4" cy="380.4" r="6.5"/><circle cx="327.9" cy="411.8" r="3.3"/><circle cx="289.0" cy="343.9" r="4.7"/><circle cx="330.6" cy="263.6" r="5.4"/><circle cx="252.8" cy="385.1" r="6.5"/><circle cx="281.3" cy="288.3" r="4.1"/><circle cx="262.8" cy="348.3" r="3.8"/><circle cx="307.5" cy="300.8" r="5.7"/><circle cx="347.2" cy="258.0" r="5.4"/><circle cx="259.4" cy="384.2" r="3.7"/><circle cx="321.5" cy="343.0" r="3.5"/><circle cx="275.8" cy="342.1" r="5.9"/><circle cx="288.3" cy="269.0" r="3.8"/><circle cx="278.2" cy="417.7" r="5.3"/><circle cx="337.5" cy="333.6" r="5.3"/><circle cx="368.3" cy="288.7" r="3.8"/><circle cx="374.3" cy="274.6" r="6.3"/><circle cx="329.3" cy="392.6" r="5.4"/><circle cx="344.3" cy="377.2" r="4.5"/><circle cx="285.9" cy="279.4" r="3.3"/><circle cx="316.3" cy="299.4" r="3.7"/><circle cx="233.5" cy="319.1" r="4.4"/><circle cx="292.1" cy="308.8" r="5.3"/><circle cx="343.0" cy="327.3" r="5.1"/><circle cx="305.9" cy="395.6" r="3.9"/><circle cx="320.3" cy="346.1" r="3.9"/><circle cx="315.7" cy="274.6" r="6.2"/><circle cx="307.6" cy="391.5" r="3.7"/><circle cx="315.4" cy="322.7" r="4.1"/><circle cx="320.7" cy="368.0" r="4.7"/><circle cx="246.4" cy="301.7" r="4.5"/><circle cx="261.3" cy="290.1" r="3.7"/><circle cx="289.9" cy="290.9" r="3.5"/><circle cx="256.9" cy="319.2" r="4.4"/><circle cx="344.3" cy="383.6" r="6.1"/><circle cx="323.4" cy="275.1" r="4.4"/><circle cx="229.4" cy="356.8" r="3.8"/><circle cx="297.9" cy="267.9" r="6.5"/><circle cx="259.7" cy="295.1" r="3.9"/><circle cx="243.6" cy="359.9" r="4.2"/><circle cx="226.4" cy="374.1" r="4.4"/><circle cx="215.3" cy="338.6" r="6.3"/><circle cx="230.2" cy="392.0" r="4.5"/><circle cx="307.4" cy="383.8" r="5.5"/><circle cx="297.9" cy="420.5" r="4.4"/><circle cx="348.1" cy="294.5" r="4.3"/><circle cx="365.7" cy="305.8" r="3.7"/><circle cx="279.7" cy="370.2" r="4.6"/><circle cx="275.4" cy="299.4" r="6.7"/><circle cx="296.9" cy="416.7" r="3.9"/><circle cx="269.4" cy="271.6" r="6.2"/><circle cx="237.9" cy="387.3" r="3.9"/><circle cx="313.1" cy="323.9" r="5.1"/><circle cx="383.7" cy="298.7" r="4.7"/><circle cx="274.9" cy="309.1" r="4.2"/><circle cx="244.3" cy="328.8" r="5.6"/><circle cx="261.8" cy="360.1" r="6.4"/><circle cx="269.1" cy="283.1" r="6.7"/><circle cx="281.1" cy="389.4" r="3.5"/><circle cx="278.3" cy="306.2" r="6.5"/><circle cx="220.9" cy="364.0" r="3.9"/><circle cx="298.1" cy="330.1" r="4.2"/><circle cx="273.2" cy="340.6" r="5.8"/><circle cx="217.3" cy="332.7" r="4.4"/><circle cx="369.3" cy="303.4" r="6.1"/><circle cx="221.7" cy="370.6" r="6.4"/><circle cx="244.2" cy="374.4" r="4.4"/><circle cx="236.9" cy="386.5" r="6.3"/><circle cx="262.4" cy="315.1" r="3.9"/><circle cx="327.9" cy="402.7" r="4.0"/><circle cx="279.0" cy="266.3" r="5.2"/><circle cx="314.7" cy="409.7" r="5.5"/><circle cx="275.6" cy="350.6" r="6.0"/><circle cx="338.5" cy="399.1" r="6.4"/><circle cx="361.2" cy="290.1" r="4.0"/><circle cx="336.9" cy="269.3" r="5.4"/><circle cx="232.1" cy="379.3" r="4.4"/><circle cx="317.2" cy="268.0" r="5.1"/><circle cx="244.8" cy="406.6" r="3.7"/><circle cx="315.6" cy="403.3" r="4.8"/><circle cx="264.9" cy="389.7" r="4.8"/><circle cx="287.7" cy="292.8" r="5.5"/><circle cx="310.7" cy="277.7" r="4.1"/><circle cx="322.9" cy="381.4" r="4.9"/><circle cx="282.3" cy="307.9" r="6.5"/><circle cx="366.0" cy="291.1" r="5.7"/><circle cx="244.3" cy="300.9" r="3.9"/><circle cx="300.0" cy="304.7" r="3.5"/><circle cx="307.2" cy="254.6" r="4.5"/><circle cx="308.0" cy="331.8" r="6.1"/><circle cx="351.3" cy="269.0" r="4.3"/><circle cx="330.1" cy="323.5" r="4.5"/><circle cx="270.5" cy="271.9" r="4.7"/><circle cx="222.9" cy="377.4" r="3.5"/><circle cx="345.7" cy="304.4" r="3.8"/><circle cx="366.5" cy="283.9" r="6.8"/><circle cx="289.0" cy="359.4" r="3.8"/><circle cx="216.3" cy="315.9" r="5.2"/><circle cx="330.2" cy="307.6" r="3.8"/><circle cx="360.8" cy="302.9" r="3.8"/><circle cx="262.2" cy="400.5" r="5.0"/><circle cx="349.2" cy="370.5" r="3.4"/><circle cx="244.4" cy="396.0" r="6.5"/><circle cx="243.9" cy="391.9" r="4.3"/><circle cx="344.9" cy="371.3" r="5.4"/><circle cx="280.5" cy="269.0" r="5.4"/><circle cx="378.1" cy="301.1" r="3.3"/><circle cx="348.5" cy="374.4" r="6.2"/><circle cx="261.4" cy="307.7" r="4.5"/><circle cx="268.3" cy="397.0" r="5.0"/><circle cx="362.2" cy="292.2" r="5.6"/><circle cx="323.6" cy="323.9" r="3.7"/><circle cx="304.8" cy="360.7" r="5.3"/><circle cx="293.4" cy="346.0" r="4.9"/><circle cx="238.6" cy="397.0" r="3.6"/><circle cx="256.4" cy="290.2" r="5.8"/><circle cx="285.7" cy="382.9" r="4.4"/><circle cx="309.0" cy="307.5" r="5.1"/><circle cx="261.5" cy="329.5" r="6.4"/><circle cx="319.3" cy="345.7" r="4.5"/><circle cx="279.5" cy="340.0" r="4.6"/><circle cx="309.8" cy="297.9" r="6.2"/><circle cx="281.6" cy="355.9" r="3.4"/><circle cx="281.0" cy="358.7" r="4.5"/><circle cx="292.1" cy="345.0" r="3.5"/><circle cx="357.4" cy="297.0" r="5.2"/><circle cx="255.7" cy="355.8" r="4.6"/><circle cx="267.6" cy="398.7" r="3.5"/><circle cx="310.5" cy="252.8" r="3.8"/><circle cx="284.5" cy="291.7" r="3.9"/><circle cx="250.8" cy="344.9" r="6.4"/><circle cx="330.3" cy="321.7" r="4.0"/><circle cx="318.3" cy="281.5" r="4.0"/><circle cx="273.7" cy="324.9" r="4.7"/><circle cx="277.7" cy="292.9" r="4.9"/><circle cx="373.4" cy="283.7" r="6.4"/><circle cx="216.1" cy="364.2" r="3.5"/><circle cx="333.9" cy="317.7" r="4.2"/><circle cx="312.7" cy="409.3" r="4.3"/><circle cx="238.7" cy="361.1" r="4.6"/><circle cx="313.2" cy="337.9" r="6.8"/><circle cx="273.6" cy="418.5" r="3.5"/><circle cx="233.7" cy="379.6" r="5.6"/><circle cx="259.4" cy="408.2" r="5.5"/><circle cx="317.6" cy="298.2" r="3.8"/><circle cx="339.8" cy="370.9" r="5.4"/><circle cx="255.1" cy="327.3" r="3.9"/><circle cx="247.9" cy="327.8" r="4.8"/><circle cx="339.7" cy="287.1" r="6.1"/><circle cx="245.0" cy="316.8" r="4.9"/><circle cx="306.0" cy="407.4" r="3.5"/><circle cx="353.1" cy="255.8" r="3.7"/><circle cx="275.2" cy="351.0" r="4.5"/><circle cx="354.7" cy="262.8" r="6.6"/><circle cx="326.9" cy="356.5" r="3.7"/><circle cx="317.7" cy="372.9" r="3.5"/><circle cx="306.8" cy="316.2" r="4.1"/><circle cx="272.0" cy="324.4" r="4.1"/><circle cx="315.1" cy="406.4" r="4.2"/><circle cx="284.2" cy="308.1" r="3.2"/><circle cx="230.5" cy="332.1" r="4.5"/><circle cx="273.0" cy="409.3" r="5.4"/><circle cx="300.8" cy="356.1" r="3.7"/><circle cx="264.2" cy="313.5" r="5.3"/><circle cx="256.2" cy="365.8" r="6.6"/><circle cx="324.7" cy="386.1" r="4.5"/><circle cx="255.9" cy="411.8" r="3.8"/><circle cx="345.4" cy="309.9" r="4.4"/><circle cx="276.8" cy="411.8" r="3.6"/><circle cx="247.3" cy="337.3" r="4.4"/><circle cx="266.5" cy="301.6" r="3.3"/><circle cx="301.9" cy="284.7" r="6.6"/><circle cx="251.7" cy="355.4" r="6.6"/><circle cx="307.4" cy="399.8" r="4.4"/><circle cx="336.3" cy="306.4" r="4.8"/><circle cx="262.0" cy="388.0" r="6.2"/><circle cx="342.8" cy="278.7" r="4.0"/><circle cx="313.1" cy="352.4" r="6.6"/><circle cx="292.3" cy="266.8" r="3.3"/><circle cx="309.6" cy="326.5" r="6.1"/><circle cx="308.0" cy="400.7" r="4.1"/><circle cx="328.5" cy="407.0" r="4.3"/><circle cx="219.7" cy="331.0" r="3.9"/><circle cx="330.1" cy="287.1" r="4.2"/><circle cx="244.4" cy="308.4" r="6.8"/><circle cx="290.3" cy="403.7" r="5.3"/><circle cx="337.8" cy="298.4" r="4.7"/><circle cx="258.4" cy="352.0" r="5.5"/><circle cx="343.8" cy="260.6" r="4.5"/><circle cx="241.1" cy="389.3" r="5.9"/><circle cx="213.4" cy="313.1" r="4.6"/><circle cx="318.0" cy="335.8" r="5.4"/><circle cx="334.6" cy="355.6" r="5.9"/><circle cx="300.3" cy="268.1" r="6.6"/><circle cx="340.0" cy="346.9" r="3.2"/><circle cx="352.7" cy="280.3" r="5.0"/><circle cx="264.6" cy="295.1" r="6.7"/><circle cx="287.3" cy="359.5" r="5.1"/><circle cx="372.1" cy="276.3" r="6.8"/><circle cx="289.8" cy="346.5" r="6.7"/><circle cx="251.3" cy="321.9" r="5.4"/><circle cx="256.8" cy="359.3" r="6.0"/><circle cx="334.7" cy="312.7" r="3.4"/><circle cx="243.4" cy="327.5" r="5.1"/><circle cx="256.4" cy="344.0" r="4.0"/><circle cx="262.2" cy="374.2" r="3.3"/><circle cx="319.5" cy="414.9" r="4.0"/><circle cx="312.6" cy="296.9" r="6.4"/><circle cx="259.3" cy="294.0" r="3.3"/><circle cx="329.9" cy="325.0" r="6.6"/><circle cx="322.3" cy="326.5" r="4.5"/><circle cx="308.8" cy="343.7" r="6.7"/><circle cx="330.9" cy="379.6" r="4.4"/><circle cx="326.5" cy="328.0" r="3.5"/><circle cx="318.7" cy="328.5" r="4.7"/><circle cx="299.2" cy="305.9" r="6.2"/><circle cx="267.4" cy="374.6" r="4.1"/><circle cx="314.0" cy="403.4" r="3.6"/><circle cx="275.5" cy="299.4" r="6.8"/><circle cx="304.6" cy="363.9" r="3.9"/><circle cx="279.1" cy="358.8" r="5.2"/><circle cx="261.0" cy="353.9" r="6.8"/><circle cx="240.4" cy="312.6" r="6.8"/><circle cx="263.5" cy="311.9" r="5.5"/><circle cx="309.6" cy="325.2" r="3.6"/><circle cx="323.4" cy="410.4" r="6.3"/><circle cx="327.8" cy="313.9" r="6.1"/><circle cx="222.5" cy="321.1" r="3.7"/><circle cx="289.9" cy="309.9" r="5.2"/><circle cx="270.5" cy="375.6" r="5.7"/><circle cx="289.1" cy="279.4" r="3.7"/><circle cx="344.0" cy="292.1" r="6.1"/><circle cx="249.6" cy="404.9" r="5.4"/><circle cx="297.5" cy="310.4" r="5.4"/><circle cx="260.8" cy="403.0" r="3.4"/><circle cx="266.2" cy="320.1" r="5.6"/><circle cx="319.9" cy="381.1" r="6.0"/><circle cx="238.4" cy="342.4" r="5.3"/><circle cx="269.0" cy="290.7" r="3.9"/><circle cx="325.0" cy="261.8" r="5.0"/><circle cx="327.6" cy="389.7" r="5.4"/><circle cx="307.3" cy="292.3" r="4.6"/><circle cx="301.5" cy="353.9" r="6.3"/><circle cx="290.0" cy="414.9" r="6.3"/><circle cx="339.7" cy="342.2" r="6.7"/><circle cx="337.9" cy="324.0" r="4.1"/><circle cx="326.7" cy="325.2" r="4.1"/><circle cx="253.0" cy="341.9" r="3.7"/><circle cx="274.8" cy="323.0" r="3.6"/><circle cx="285.6" cy="366.9" r="5.6"/><circle cx="325.7" cy="366.0" r="3.5"/><circle cx="216.1" cy="359.0" r="6.2"/><circle cx="254.5" cy="339.8" r="5.1"/><circle cx="241.3" cy="320.6" r="3.2"/><circle cx="260.5" cy="396.9" r="4.9"/><circle cx="324.7" cy="400.4" r="6.3"/><circle cx="353.6" cy="283.3" r="5.8"/><circle cx="330.7" cy="386.9" r="6.2"/><circle cx="233.5" cy="362.1" r="6.4"/><circle cx="291.2" cy="354.7" r="3.9"/><circle cx="271.6" cy="385.7" r="6.6"/><circle cx="337.5" cy="296.4" r="5.4"/><circle cx="276.9" cy="388.0" r="5.9"/><circle cx="283.7" cy="371.7" r="5.3"/><circle cx="312.3" cy="366.7" r="6.0"/><circle cx="378.4" cy="276.3" r="6.4"/><circle cx="286.4" cy="344.0" r="4.7"/><circle cx="312.6" cy="397.8" r="6.3"/><circle cx="361.5" cy="287.6" r="6.8"/><circle cx="341.5" cy="346.6" r="4.7"/><circle cx="287.7" cy="351.9" r="4.1"/><circle cx="324.1" cy="371.2" r="3.9"/><circle cx="315.9" cy="286.8" r="6.1"/><circle cx="232.6" cy="348.5" r="4.9"/><circle cx="253.1" cy="348.4" r="4.4"/><circle cx="302.3" cy="341.0" r="5.8"/><circle cx="299.3" cy="279.3" r="5.0"/><circle cx="321.8" cy="292.9" r="5.5"/><circle cx="291.7" cy="410.8" r="3.7"/><circle cx="245.6" cy="374.8" r="4.1"/><circle cx="242.7" cy="318.2" r="4.8"/><circle cx="242.8" cy="327.0" r="6.7"/><circle cx="216.0" cy="316.3" r="3.3"/><circle cx="293.5" cy="419.4" r="5.5"/><circle cx="230.3" cy="392.1" r="5.9"/><circle cx="355.2" cy="257.1" r="5.0"/><circle cx="276.6" cy="312.7" r="4.5"/><circle cx="266.2" cy="363.8" r="5.8"/><circle cx="344.0" cy="275.6" r="6.4"/><circle cx="288.9" cy="267.9" r="3.8"/><circle cx="297.1" cy="375.8" r="4.9"/><circle cx="331.6" cy="296.4" r="5.6"/><circle cx="327.5" cy="365.4" r="5.7"/><circle cx="248.2" cy="309.3" r="4.7"/><circle cx="242.5" cy="401.7" r="4.6"/><circle cx="270.5" cy="309.5" r="5.0"/><circle cx="327.2" cy="312.8" r="3.8"/><circle cx="274.7" cy="266.6" r="4.1"/><circle cx="278.7" cy="371.3" r="5.4"/><circle cx="269.0" cy="406.2" r="3.5"/><circle cx="244.0" cy="307.9" r="4.0"/><circle cx="261.4" cy="329.7" r="3.7"/><circle cx="249.7" cy="360.4" r="6.5"/><circle cx="227.3" cy="371.5" r="5.0"/><circle cx="266.6" cy="375.1" r="4.9"/><circle cx="225.7" cy="343.1" r="6.5"/><circle cx="298.2" cy="394.8" r="6.3"/><circle cx="292.0" cy="402.1" r="3.3"/><circle cx="295.8" cy="295.9" r="5.6"/><circle cx="340.1" cy="358.2" r="5.8"/><circle cx="281.6" cy="332.0" r="6.2"/><circle cx="291.7" cy="283.9" r="5.8"/><circle cx="308.2" cy="261.9" r="6.6"/><circle cx="297.4" cy="418.3" r="6.3"/><circle cx="372.6" cy="291.3" r="4.4"/><circle cx="277.7" cy="395.9" r="4.3"/><circle cx="214.9" cy="338.4" r="6.0"/><circle cx="357.5" cy="288.1" r="3.6"/><circle cx="299.1" cy="342.8" r="6.0"/><circle cx="329.2" cy="267.6" r="5.6"/><circle cx="293.2" cy="280.5" r="5.8"/><circle cx="283.0" cy="418.0" r="6.0"/><circle cx="338.4" cy="376.6" r="3.6"/><circle cx="281.5" cy="313.0" r="5.0"/><circle cx="316.7" cy="360.0" r="5.0"/><circle cx="347.2" cy="397.5" r="6.1"/><circle cx="226.4" cy="364.3" r="5.3"/><circle cx="344.2" cy="325.4" r="4.8"/><circle cx="382.8" cy="280.7" r="4.6"/><circle cx="323.1" cy="409.5" r="4.5"/><circle cx="331.1" cy="367.2" r="5.6"/><circle cx="343.7" cy="401.4" r="6.5"/><circle cx="308.8" cy="375.8" r="5.0"/><circle cx="251.9" cy="338.0" r="5.7"/><circle cx="234.1" cy="330.8" r="5.0"/><circle cx="263.6" cy="374.1" r="3.4"/><circle cx="248.4" cy="298.4" r="6.0"/><circle cx="309.1" cy="340.5" r="5.7"/><circle cx="260.7" cy="286.5" r="6.8"/><circle cx="244.4" cy="337.0" r="3.8"/><circle cx="370.6" cy="308.4" r="6.5"/><circle cx="252.7" cy="393.6" r="4.3"/><circle cx="239.0" cy="393.6" r="4.0"/><circle cx="224.5" cy="369.2" r="6.7"/><circle cx="324.3" cy="397.5" r="6.3"/><circle cx="335.9" cy="364.3" r="6.1"/><circle cx="274.1" cy="355.8" r="4.8"/><circle cx="323.5" cy="391.7" r="4.8"/><circle cx="342.5" cy="320.9" r="5.5"/><circle cx="327.3" cy="378.7" r="6.4"/><circle cx="365.1" cy="260.2" r="6.3"/><circle cx="282.2" cy="391.1" r="3.8"/><circle cx="311.9" cy="300.7" r="4.7"/><circle cx="335.5" cy="386.7" r="6.2"/><circle cx="349.3" cy="392.6" r="5.5"/><circle cx="262.9" cy="301.3" r="4.0"/><circle cx="267.9" cy="353.5" r="4.0"/><circle cx="322.2" cy="336.2" r="5.9"/><circle cx="310.9" cy="301.9" r="6.2"/><circle cx="368.1" cy="292.7" r="3.6"/><circle cx="265.4" cy="290.2" r="4.2"/><circle cx="301.3" cy="296.7" r="4.6"/><circle cx="328.7" cy="317.9" r="4.8"/><circle cx="251.9" cy="292.3" r="3.3"/><circle cx="277.7" cy="354.0" r="4.5"/><circle cx="257.0" cy="394.8" r="4.8"/><circle cx="340.2" cy="379.8" r="3.3"/><circle cx="334.6" cy="316.7" r="3.9"/><circle cx="216.6" cy="335.9" r="4.7"/><circle cx="289.3" cy="418.2" r="3.7"/><circle cx="297.9" cy="362.4" r="6.2"/><circle cx="368.4" cy="292.7" r="4.1"/><circle cx="288.6" cy="394.7" r="5.5"/><circle cx="287.2" cy="289.5" r="6.0"/><circle cx="274.0" cy="413.6" r="6.2"/><circle cx="276.8" cy="327.3" r="5.4"/><circle cx="314.7" cy="417.1" r="5.6"/><circle cx="299.9" cy="346.5" r="6.2"/><circle cx="341.1" cy="342.2" r="4.7"/><circle cx="299.3" cy="267.1" r="4.3"/><circle cx="251.2" cy="412.1" r="4.0"/><circle cx="346.5" cy="269.5" r="5.6"/><circle cx="331.7" cy="384.0" r="3.8"/><circle cx="349.1" cy="308.0" r="3.9"/><circle cx="326.4" cy="385.7" r="3.2"/><circle cx="269.9" cy="269.4" r="4.9"/><circle cx="233.3" cy="381.9" r="4.2"/><circle cx="319.7" cy="354.2" r="4.1"/><circle cx="280.0" cy="323.9" r="4.4"/><circle cx="299.8" cy="360.3" r="6.2"/><circle cx="296.1" cy="360.4" r="3.9"/><circle cx="248.8" cy="326.9" r="4.0"/><circle cx="367.5" cy="274.4" r="4.6"/><circle cx="286.4" cy="411.5" r="4.6"/><circle cx="285.7" cy="402.3" r="3.5"/><circle cx="339.5" cy="365.1" r="6.0"/><circle cx="321.9" cy="413.2" r="6.6"/><circle cx="316.7" cy="380.8" r="6.0"/><circle cx="302.2" cy="413.9" r="4.1"/><circle cx="290.9" cy="280.5" r="6.0"/><circle cx="310.9" cy="255.0" r="4.2"/><circle cx="284.4" cy="404.4" r="3.8"/><circle cx="242.2" cy="362.3" r="3.4"/><circle cx="374.2" cy="285.2" r="5.3"/><circle cx="368.0" cy="298.4" r="6.7"/><circle cx="271.4" cy="356.0" r="4.2"/><circle cx="240.5" cy="397.8" r="4.9"/><circle cx="287.5" cy="379.1" r="3.6"/><circle cx="308.9" cy="359.8" r="5.1"/><circle cx="286.8" cy="380.8" r="6.3"/><circle cx="319.7" cy="352.3" r="5.4"/><circle cx="384.3" cy="283.1" r="3.3"/><circle cx="239.6" cy="338.9" r="6.3"/><circle cx="227.8" cy="369.0" r="3.3"/><circle cx="300.4" cy="357.8" r="3.3"/><circle cx="242.2" cy="355.8" r="3.7"/><circle cx="373.0" cy="281.9" r="4.3"/><circle cx="212.9" cy="340.2" r="3.9"/><circle cx="275.8" cy="410.2" r="4.4"/><circle cx="281.9" cy="411.2" r="4.2"/><circle cx="340.2" cy="260.9" r="4.4"/><circle cx="252.9" cy="316.6" r="5.9"/><circle cx="243.7" cy="406.4" r="3.7"/><circle cx="329.9" cy="297.6" r="6.1"/><circle cx="380.0" cy="281.7" r="5.8"/><circle cx="297.2" cy="392.7" r="6.8"/><circle cx="279.8" cy="268.9" r="6.4"/><circle cx="241.9" cy="341.0" r="5.8"/><circle cx="316.7" cy="335.4" r="6.2"/><circle cx="338.1" cy="368.0" r="4.6"/><circle cx="306.8" cy="314.5" r="4.9"/><circle cx="333.9" cy="281.6" r="6.0"/><circle cx="225.6" cy="372.8" r="5.4"/><circle cx="342.3" cy="371.0" r="3.9"/><circle cx="320.4" cy="301.4" r="6.4"/><circle cx="299.8" cy="309.1" r="3.9"/><circle cx="260.7" cy="398.9" r="4.6"/><circle cx="335.6" cy="375.9" r="6.5"/><circle cx="294.8" cy="299.9" r="4.1"/><circle cx="228.1" cy="336.7" r="5.0"/><circle cx="269.0" cy="385.3" r="4.6"/><circle cx="212.6" cy="316.8" r="6.2"/><circle cx="216.7" cy="316.7" r="6.2"/><circle cx="336.5" cy="376.7" r="6.4"/><circle cx="261.3" cy="369.0" r="4.1"/><circle cx="288.2" cy="410.9" r="3.8"/><circle cx="363.9" cy="295.7" r="6.6"/><circle cx="320.0" cy="407.0" r="4.9"/><circle cx="351.6" cy="261.4" r="5.8"/><circle cx="307.1" cy="373.5" r="6.7"/><circle cx="246.6" cy="406.9" r="4.4"/><circle cx="343.8" cy="317.9" r="4.4"/><circle cx="284.8" cy="277.7" r="4.2"/><circle cx="291.0" cy="385.0" r="6.5"/><circle cx="328.0" cy="342.6" r="3.8"/><circle cx="227.8" cy="368.9" r="3.5"/><circle cx="338.6" cy="290.6" r="6.7"/><circle cx="215.9" cy="346.5" r="4.2"/><circle cx="337.6" cy="406.8" r="3.3"/><circle cx="374.8" cy="267.9" r="6.5"/><circle cx="362.6" cy="257.2" r="4.0"/><circle cx="336.4" cy="322.2" r="3.3"/><circle cx="231.3" cy="339.5" r="3.6"/><circle cx="375.5" cy="305.1" r="4.5"/><circle cx="281.7" cy="320.3" r="5.3"/><circle cx="266.8" cy="349.6" r="4.2"/><circle cx="222.1" cy="340.6" r="3.2"/><circle cx="313.3" cy="299.7" r="4.6"/><circle cx="266.0" cy="290.8" r="3.7"/><circle cx="313.9" cy="271.4" r="5.1"/><circle cx="326.5" cy="298.0" r="6.1"/><circle cx="273.1" cy="413.8" r="4.3"/><circle cx="350.4" cy="395.7" r="3.4"/><circle cx="224.0" cy="367.5" r="3.5"/><circle cx="261.4" cy="403.7" r="4.1"/><circle cx="294.2" cy="331.5" r="6.4"/><circle cx="301.3" cy="337.1" r="4.1"/><circle cx="294.3" cy="385.3" r="5.3"/><circle cx="327.3" cy="278.4" r="3.9"/><circle cx="215.1" cy="336.2" r="5.8"/><circle cx="337.5" cy="340.2" r="4.5"/><circle cx="329.3" cy="280.2" r="6.0"/><circle cx="316.3" cy="349.0" r="4.4"/><circle cx="231.3" cy="371.9" r="4.6"/><circle cx="291.8" cy="405.2" r="4.2"/><circle cx="313.3" cy="321.5" r="5.2"/><circle cx="351.6" cy="295.3" r="6.3"/><circle cx="342.2" cy="371.6" r="5.1"/><circle cx="265.6" cy="280.1" r="5.3"/><circle cx="278.1" cy="377.0" r="6.4"/><circle cx="296.3" cy="413.8" r="6.4"/><circle cx="276.3" cy="330.9" r="3.8"/><circle cx="238.5" cy="337.6" r="5.8"/><circle cx="330.3" cy="284.1" r="3.8"/><circle cx="259.9" cy="339.6" r="6.0"/><circle cx="329.1" cy="307.6" r="6.5"/><circle cx="248.6" cy="379.0" r="6.4"/><circle cx="257.5" cy="362.8" r="4.0"/><circle cx="319.0" cy="257.6" r="5.9"/><circle cx="258.5" cy="345.4" r="6.0"/><circle cx="289.2" cy="368.7" r="6.5"/><circle cx="268.9" cy="358.6" r="5.1"/><circle cx="326.4" cy="413.4" r="5.6"/><circle cx="233.0" cy="335.4" r="6.2"/><circle cx="295.0" cy="401.3" r="4.5"/><circle cx="299.1" cy="412.2" r="4.2"/><circle cx="335.3" cy="355.2" r="6.2"/><circle cx="238.9" cy="396.4" r="5.2"/><circle cx="343.2" cy="371.6" r="6.6"/><circle cx="313.4" cy="260.5" r="3.7"/><circle cx="311.1" cy="380.4" r="6.5"/><circle cx="244.3" cy="317.6" r="4.4"/><circle cx="330.9" cy="365.5" r="3.9"/><circle cx="279.5" cy="318.7" r="5.4"/><circle cx="312.6" cy="363.9" r="4.4"/><circle cx="300.7" cy="392.4" r="5.3"/><circle cx="268.4" cy="381.1" r="3.2"/><circle cx="292.5" cy="273.1" r="6.5"/><circle cx="278.0" cy="266.6" r="5.2"/><circle cx="291.6" cy="386.5" r="6.5"/><circle cx="299.6" cy="372.1" r="6.3"/><circle cx="248.0" cy="411.9" r="4.6"/><circle cx="314.9" cy="368.5" r="6.7"/><circle cx="369.7" cy="310.4" r="3.2"/><circle cx="275.9" cy="293.0" r="6.8"/><circle cx="236.8" cy="361.8" r="3.5"/><circle cx="266.5" cy="295.2" r="6.6"/><circle cx="293.0" cy="310.3" r="5.1"/><circle cx="280.4" cy="316.4" r="4.3"/><circle cx="294.0" cy="414.1" r="5.7"/><circle cx="304.9" cy="407.4" r="3.9"/><circle cx="338.8" cy="326.7" r="3.4"/><circle cx="262.1" cy="392.9" r="4.1"/><circle cx="224.7" cy="366.1" r="4.7"/><circle cx="303.9" cy="314.8" r="5.9"/><circle cx="339.1" cy="391.1" r="6.1"/><circle cx="231.8" cy="323.3" r="6.4"/><circle cx="231.6" cy="319.2" r="3.7"/><circle cx="312.0" cy="327.6" r="5.7"/><circle cx="348.1" cy="386.8" r="4.3"/><circle cx="283.7" cy="304.8" r="4.3"/><circle cx="296.3" cy="360.9" r="3.3"/><circle cx="326.4" cy="388.3" r="4.7"/></g>
<path d="M199.2 250.0 L194.1 254.4 L194.0 254.5 L193.8 254.7 L193.6 254.8 L186.1 258.3 L185.8 258.4 L185.5 258.4 L185.2 258.5 L170.3 260.0 L161.3 261.3 L156.9 266.6 L156.7 266.8 L156.6 267.0 L156.3 267.1 L156.1 267.2 L146.1 272.2 L145.8 272.4 L138.3 274.9 L138.1 274.9 L129.2 277.1 L126.1 283.3 L125.0 289.2 L124.9 289.5 L124.8 289.7 L124.7 289.9 L124.6 290.2 L124.4 290.4 L124.2 290.6 L124.0 290.7 L123.8 290.9 L123.6 291.0 L116.6 294.5 L112.0 300.3 L111.8 300.5 L111.6 300.7 L111.4 300.8 L103.9 305.8 L103.7 306.0 L103.5 306.1 L103.2 306.1 L95.7 308.4 L95.5 308.5 L95.2 308.5 L95.0 308.5 L87.5 308.5 L87.2 308.5 L79.8 307.5 L72.6 307.5 L70.0 313.1 L70.0 324.7 L71.2 329.4 L71.2 329.7 L71.2 329.9 L71.2 330.2 L71.2 330.5 L71.1 330.7 L67.5 343.0 L66.3 354.4 L72.1 363.7 L72.2 363.9 L77.2 373.9 L77.3 374.1 L77.4 374.4 L79.7 383.5 L86.2 387.8 L98.4 392.7 L98.6 392.8 L98.8 392.9 L99.0 393.0 L99.2 393.2 L99.4 393.3 L99.5 393.5 L107.0 403.5 L107.1 403.7 L107.3 403.9 L107.4 404.2 L107.4 404.4 L109.6 413.1 L117.6 416.1 L129.3 412.6 L129.5 412.5 L129.8 412.5 L130.0 412.5 L130.2 412.5 L130.5 412.5 L130.7 412.6 L131.0 412.7 L131.2 412.8 L131.4 412.9 L131.6 413.1 L131.8 413.2 L136.3 417.8 L150.3 422.0 L164.8 421.3 L179.8 420.0 L180.0 420.0 L180.2 420.0 L184.5 420.3 L184.7 420.3 L184.9 420.4 L192.9 422.4 L197.5 420.8 L199.3 415.6 L201.4 408.1 L201.5 407.9 L201.6 407.7 L201.7 407.5 L201.8 407.3 L202.0 407.1 L202.1 406.9 L202.3 406.8 L202.5 406.6 L202.7 406.5 L203.0 406.4 L203.2 406.4 L211.9 404.2 L212.2 404.1 L223.0 403.0 L223.3 403.0 L224.0 403.0 L225.0 400.9 L223.1 393.4 L219.0 384.9 L218.9 384.7 L214.5 374.1 L207.8 361.2 L207.7 360.9 L207.6 360.7 L207.6 360.5 L207.5 360.3 L207.5 360.0 L207.5 359.8 L208.3 350.1 L206.5 340.4 L206.5 340.2 L206.5 340.0 L206.5 333.0 L206.5 332.7 L206.6 332.5 L206.6 332.2 L206.7 332.0 L206.8 331.8 L207.0 331.5 L207.1 331.3 L207.3 331.2 L207.5 331.0 L213.5 326.5 L213.5 323.8 L209.4 321.1 L209.2 320.9 L209.0 320.7 L208.8 320.5 L208.7 320.3 L208.6 320.1 L208.5 319.9 L208.4 319.6 L206.6 312.6 L206.5 312.4 L206.5 312.1 L206.5 311.9 L206.5 311.6 L206.6 311.4 L206.7 311.1 L206.8 310.9 L206.9 310.7 L207.0 310.5 L207.2 310.3 L207.4 310.1 L207.6 310.0 L207.8 309.8 L208.0 309.7 L208.2 309.6 L213.5 307.9 L213.8 307.9 L214.0 307.8 L214.2 307.8 L214.4 307.8 L214.7 307.8 L214.9 307.9 L221.9 309.6 L222.1 309.6 L222.4 309.7 L222.6 309.9 L222.8 310.0 L223.0 310.2 L223.2 310.3 L223.3 310.5 L223.5 310.7 L226.4 315.8 L228.1 313.8 L228.2 313.7 L234.7 307.3 L236.4 299.3 L236.4 299.1 L236.5 298.8 L236.6 298.6 L236.7 298.4 L236.9 298.2 L237.0 298.0 L237.2 297.9 L237.4 297.7 L242.4 294.4 L249.2 287.5 L249.3 287.5 L255.8 281.2 L255.9 281.0 L256.1 280.9 L256.4 280.8 L256.6 280.7 L256.8 280.6 L257.1 280.5 L257.3 280.5 L263.8 280.0 L264.1 280.0 L264.3 280.0 L264.6 280.1 L264.8 280.1 L271.3 282.5 L273.3 282.3 L273.1 280.4 L269.0 277.4 L261.5 276.0 L261.2 275.9 L253.7 273.4 L253.4 273.3 L253.2 273.1 L253.0 273.0 L248.7 269.6 L241.4 266.0 L241.2 265.9 L241.0 265.7 L240.8 265.6 L240.6 265.4 L240.5 265.2 L240.3 265.0 L240.2 264.8 L240.1 264.5 L238.1 258.3 L230.1 256.4 L220.9 259.8 L220.6 259.9 L220.4 260.0 L220.1 260.0 L219.9 260.0 L219.6 260.0 L219.4 259.9 L219.1 259.8 L218.9 259.7 L208.9 254.7Z" fill="#284c94"/><g fill="url(#sB)"><circle cx="169.4" cy="281.7" r="5.4"/><circle cx="173.6" cy="313.0" r="6.6"/><circle cx="211.5" cy="375.5" r="5.7"/><circle cx="166.8" cy="295.5" r="3.4"/><circle cx="175.3" cy="351.4" r="6.8"/><circle cx="110.1" cy="332.8" r="6.7"/><circle cx="232.5" cy="304.6" r="4.2"/><circle cx="171.5" cy="342.5" r="6.7"/><circle cx="113.0" cy="406.5" r="4.2"/><circle cx="118.0" cy="344.4" r="6.5"/><circle cx="195.8" cy="326.1" r="3.3"/><circle cx="150.8" cy="346.2" r="4.9"/><circle cx="182.1" cy="401.7" r="6.7"/><circle cx="211.2" cy="305.5" r="6.3"/><circle cx="194.4" cy="297.2" r="4.8"/><circle cx="139.3" cy="296.7" r="6.4"/><circle cx="189.2" cy="278.7" r="6.7"/><circle cx="81.9" cy="366.1" r="4.0"/><circle cx="184.7" cy="360.4" r="3.8"/><circle cx="174.8" cy="320.6" r="5.0"/><circle cx="82.3" cy="331.2" r="5.9"/><circle cx="236.1" cy="262.5" r="5.8"/><circle cx="216.3" cy="283.0" r="5.0"/><circle cx="193.0" cy="326.5" r="4.5"/><circle cx="181.0" cy="321.9" r="6.1"/><circle cx="240.0" cy="266.9" r="3.7"/><circle cx="273.7" cy="278.7" r="6.3"/><circle cx="160.1" cy="309.9" r="5.6"/><circle cx="113.2" cy="410.4" r="6.4"/><circle cx="97.4" cy="336.5" r="4.5"/><circle cx="133.7" cy="368.5" r="5.6"/><circle cx="129.9" cy="370.1" r="3.7"/><circle cx="152.7" cy="364.6" r="5.8"/><circle cx="213.2" cy="323.9" r="3.5"/><circle cx="126.1" cy="368.4" r="5.4"/><circle cx="142.1" cy="373.1" r="3.9"/><circle cx="223.9" cy="295.8" r="3.4"/><circle cx="115.2" cy="408.3" r="6.7"/><circle cx="79.5" cy="364.6" r="4.9"/><circle cx="168.8" cy="263.7" r="6.4"/><circle cx="139.3" cy="359.6" r="4.1"/><circle cx="222.2" cy="395.1" r="4.4"/><circle cx="227.6" cy="308.5" r="4.4"/><circle cx="205.6" cy="345.0" r="3.8"/><circle cx="200.8" cy="252.6" r="5.2"/><circle cx="216.8" cy="385.4" r="3.5"/><circle cx="193.9" cy="286.2" r="5.4"/><circle cx="162.6" cy="360.7" r="4.2"/><circle cx="191.0" cy="346.8" r="3.3"/><circle cx="102.3" cy="316.3" r="5.4"/><circle cx="268.1" cy="280.3" r="4.1"/><circle cx="154.5" cy="312.0" r="4.0"/><circle cx="181.1" cy="301.4" r="3.5"/><circle cx="207.6" cy="369.0" r="5.5"/><circle cx="210.2" cy="380.9" r="5.7"/><circle cx="178.0" cy="354.1" r="6.7"/><circle cx="227.2" cy="259.0" r="4.3"/><circle cx="195.0" cy="304.2" r="4.0"/><circle cx="214.4" cy="380.2" r="6.0"/><circle cx="183.9" cy="266.9" r="4.1"/><circle cx="141.3" cy="302.9" r="4.7"/><circle cx="174.4" cy="416.7" r="6.0"/><circle cx="166.0" cy="304.1" r="6.7"/><circle cx="78.5" cy="370.9" r="5.4"/><circle cx="146.1" cy="328.5" r="6.0"/><circle cx="73.5" cy="365.7" r="3.7"/><circle cx="193.9" cy="399.8" r="6.0"/><circle cx="191.0" cy="319.4" r="6.0"/><circle cx="201.7" cy="356.5" r="6.1"/><circle cx="81.5" cy="382.2" r="4.6"/><circle cx="124.9" cy="358.9" r="6.7"/><circle cx="167.8" cy="305.6" r="4.0"/><circle cx="171.6" cy="261.5" r="4.6"/><circle cx="120.5" cy="295.2" r="6.3"/><circle cx="150.2" cy="340.2" r="4.0"/><circle cx="78.5" cy="316.0" r="5.1"/><circle cx="201.2" cy="385.2" r="4.4"/><circle cx="159.5" cy="346.4" r="5.7"/><circle cx="204.5" cy="369.8" r="6.2"/><circle cx="172.5" cy="333.5" r="5.0"/><circle cx="139.2" cy="315.8" r="3.7"/><circle cx="206.3" cy="402.5" r="5.7"/><circle cx="108.5" cy="396.8" r="6.7"/><circle cx="271.0" cy="280.8" r="4.0"/><circle cx="139.4" cy="411.3" r="6.0"/><circle cx="88.1" cy="384.7" r="6.6"/><circle cx="183.2" cy="261.1" r="6.3"/><circle cx="269.5" cy="280.9" r="6.0"/><circle cx="187.4" cy="285.9" r="5.1"/><circle cx="226.7" cy="304.4" r="3.6"/><circle cx="161.2" cy="285.8" r="5.5"/><circle cx="132.9" cy="361.7" r="5.1"/><circle cx="110.9" cy="411.0" r="4.6"/><circle cx="201.5" cy="285.4" r="6.5"/><circle cx="98.6" cy="386.5" r="5.5"/><circle cx="108.3" cy="388.4" r="4.5"/><circle cx="148.8" cy="415.3" r="3.9"/><circle cx="141.3" cy="338.0" r="5.8"/><circle cx="109.0" cy="363.7" r="3.6"/><circle cx="132.7" cy="305.5" r="4.3"/><circle cx="207.0" cy="402.4" r="4.2"/><circle cx="156.1" cy="341.3" r="3.2"/><circle cx="97.0" cy="312.9" r="6.6"/><circle cx="205.1" cy="353.4" r="5.6"/><circle cx="189.2" cy="277.1" r="3.3"/><circle cx="189.8" cy="264.6" r="6.3"/><circle cx="186.8" cy="413.0" r="3.3"/><circle cx="193.3" cy="410.7" r="5.4"/><circle cx="85.2" cy="308.5" r="3.6"/><circle cx="89.2" cy="343.1" r="6.6"/><circle cx="211.1" cy="371.4" r="4.3"/><circle cx="207.5" cy="365.3" r="5.2"/><circle cx="197.9" cy="376.3" r="3.5"/><circle cx="135.1" cy="294.0" r="4.6"/><circle cx="123.5" cy="324.1" r="3.4"/><circle cx="68.7" cy="350.0" r="4.3"/><circle cx="226.9" cy="311.3" r="4.3"/><circle cx="113.7" cy="358.4" r="5.0"/><circle cx="158.1" cy="385.7" r="5.7"/><circle cx="69.3" cy="345.3" r="5.4"/><circle cx="265.9" cy="279.5" r="5.9"/><circle cx="236.4" cy="279.4" r="3.7"/><circle cx="199.5" cy="334.2" r="6.6"/><circle cx="83.3" cy="370.2" r="4.2"/><circle cx="191.0" cy="346.9" r="6.3"/><circle cx="144.5" cy="367.1" r="5.7"/><circle cx="114.7" cy="319.0" r="6.8"/><circle cx="101.4" cy="342.2" r="5.0"/><circle cx="154.3" cy="364.5" r="6.3"/><circle cx="192.5" cy="411.1" r="4.8"/><circle cx="94.2" cy="344.1" r="6.0"/><circle cx="183.9" cy="358.8" r="4.1"/><circle cx="214.2" cy="284.1" r="4.0"/><circle cx="133.3" cy="277.9" r="4.7"/><circle cx="184.7" cy="315.1" r="4.7"/><circle cx="87.4" cy="385.0" r="3.7"/><circle cx="218.9" cy="281.6" r="5.5"/><circle cx="194.4" cy="317.2" r="5.6"/><circle cx="196.5" cy="283.6" r="4.5"/><circle cx="202.2" cy="296.2" r="4.4"/><circle cx="172.3" cy="283.4" r="6.5"/><circle cx="107.9" cy="304.4" r="3.8"/><circle cx="218.7" cy="298.9" r="3.2"/><circle cx="231.5" cy="285.3" r="5.7"/><circle cx="203.4" cy="335.2" r="6.3"/><circle cx="241.8" cy="293.8" r="3.3"/><circle cx="214.2" cy="286.2" r="4.6"/><circle cx="125.9" cy="330.0" r="5.8"/><circle cx="224.0" cy="268.6" r="6.1"/><circle cx="134.4" cy="331.3" r="3.3"/><circle cx="171.4" cy="403.4" r="6.3"/><circle cx="233.5" cy="301.7" r="5.5"/><circle cx="175.9" cy="375.2" r="5.2"/><circle cx="114.2" cy="359.4" r="3.5"/><circle cx="189.4" cy="336.5" r="6.6"/><circle cx="227.7" cy="270.5" r="4.1"/><circle cx="197.1" cy="282.9" r="5.9"/><circle cx="182.3" cy="301.4" r="4.9"/><circle cx="134.3" cy="346.5" r="6.6"/><circle cx="137.2" cy="416.3" r="4.6"/><circle cx="203.8" cy="358.2" r="5.7"/><circle cx="158.7" cy="269.3" r="6.3"/><circle cx="193.6" cy="410.3" r="4.0"/><circle cx="120.2" cy="400.5" r="5.6"/><circle cx="116.4" cy="352.2" r="4.6"/><circle cx="163.6" cy="413.0" r="3.8"/><circle cx="223.2" cy="282.3" r="3.3"/><circle cx="114.6" cy="370.7" r="6.0"/><circle cx="107.8" cy="317.3" r="3.9"/><circle cx="203.8" cy="388.1" r="3.7"/><circle cx="147.5" cy="315.4" r="5.0"/><circle cx="129.3" cy="347.8" r="5.0"/><circle cx="194.1" cy="289.6" r="4.8"/><circle cx="171.8" cy="316.6" r="4.7"/><circle cx="252.9" cy="280.5" r="4.9"/><circle cx="201.6" cy="309.5" r="3.9"/><circle cx="136.0" cy="322.0" r="4.4"/><circle cx="207.1" cy="281.5" r="3.7"/><circle cx="83.7" cy="376.8" r="5.9"/><circle cx="149.8" cy="329.4" r="6.5"/><circle cx="200.0" cy="263.1" r="6.1"/><circle cx="192.7" cy="330.7" r="4.2"/><circle cx="201.6" cy="331.5" r="3.3"/><circle cx="107.8" cy="366.7" r="6.5"/><circle cx="170.3" cy="349.0" r="5.3"/><circle cx="122.0" cy="386.3" r="5.0"/><circle cx="205.4" cy="344.6" r="4.3"/><circle cx="189.7" cy="284.3" r="3.3"/><circle cx="141.7" cy="360.5" r="4.1"/><circle cx="190.8" cy="386.5" r="6.7"/><circle cx="189.9" cy="420.6" r="3.6"/><circle cx="164.1" cy="263.3" r="6.3"/><circle cx="171.3" cy="321.8" r="3.7"/><circle cx="206.2" cy="320.9" r="5.8"/><circle cx="82.1" cy="320.0" r="5.4"/><circle cx="117.9" cy="357.1" r="4.6"/><circle cx="81.4" cy="373.9" r="4.7"/><circle cx="212.1" cy="380.0" r="6.1"/><circle cx="146.6" cy="302.0" r="6.5"/><circle cx="167.7" cy="382.8" r="4.9"/><circle cx="142.0" cy="280.7" r="5.9"/><circle cx="128.8" cy="397.1" r="5.9"/><circle cx="178.7" cy="367.4" r="3.7"/><circle cx="183.7" cy="278.5" r="5.6"/><circle cx="179.0" cy="343.8" r="5.6"/><circle cx="183.2" cy="407.6" r="3.8"/><circle cx="137.7" cy="337.4" r="5.0"/><circle cx="167.0" cy="285.6" r="5.6"/><circle cx="216.7" cy="275.2" r="5.6"/><circle cx="139.7" cy="322.4" r="6.4"/><circle cx="190.8" cy="361.7" r="6.1"/><circle cx="146.0" cy="302.2" r="4.3"/><circle cx="78.6" cy="353.5" r="5.4"/><circle cx="195.3" cy="294.5" r="6.2"/><circle cx="216.8" cy="385.2" r="4.8"/><circle cx="90.7" cy="371.7" r="4.9"/><circle cx="167.6" cy="324.9" r="6.6"/><circle cx="179.9" cy="336.9" r="3.4"/><circle cx="200.4" cy="353.1" r="4.6"/><circle cx="190.1" cy="271.9" r="6.5"/><circle cx="102.6" cy="308.4" r="4.4"/><circle cx="212.3" cy="386.1" r="5.4"/><circle cx="194.6" cy="380.9" r="3.2"/><circle cx="208.1" cy="328.5" r="4.0"/><circle cx="91.9" cy="358.0" r="4.4"/><circle cx="125.3" cy="386.2" r="5.3"/><circle cx="128.8" cy="279.9" r="4.1"/><circle cx="237.9" cy="283.1" r="4.7"/><circle cx="170.6" cy="272.2" r="4.2"/><circle cx="145.3" cy="368.5" r="5.5"/><circle cx="181.9" cy="273.9" r="4.4"/><circle cx="83.6" cy="358.4" r="4.1"/><circle cx="115.4" cy="409.0" r="4.3"/><circle cx="162.8" cy="415.8" r="3.8"/><circle cx="98.6" cy="310.1" r="3.8"/><circle cx="131.9" cy="367.9" r="3.3"/><circle cx="122.8" cy="338.6" r="6.6"/><circle cx="157.6" cy="381.1" r="4.4"/><circle cx="170.0" cy="317.8" r="6.7"/><circle cx="186.8" cy="372.9" r="3.9"/><circle cx="122.4" cy="352.8" r="4.5"/><circle cx="177.3" cy="263.1" r="6.2"/><circle cx="120.8" cy="376.5" r="3.5"/><circle cx="152.7" cy="372.2" r="6.5"/><circle cx="158.0" cy="278.1" r="6.5"/><circle cx="167.0" cy="284.1" r="4.5"/><circle cx="134.0" cy="347.2" r="5.9"/><circle cx="127.5" cy="346.9" r="4.7"/><circle cx="183.3" cy="268.7" r="3.7"/><circle cx="117.2" cy="389.6" r="6.7"/><circle cx="203.5" cy="274.4" r="4.6"/><circle cx="209.8" cy="290.8" r="4.8"/><circle cx="160.5" cy="405.0" r="3.8"/><circle cx="185.3" cy="305.4" r="6.4"/><circle cx="119.8" cy="373.7" r="5.7"/><circle cx="112.8" cy="384.1" r="4.6"/><circle cx="75.1" cy="343.0" r="5.3"/><circle cx="88.4" cy="350.1" r="5.2"/><circle cx="175.6" cy="388.6" r="3.3"/><circle cx="162.7" cy="417.6" r="6.4"/><circle cx="124.3" cy="362.8" r="3.8"/><circle cx="163.8" cy="300.0" r="4.9"/><circle cx="183.9" cy="269.7" r="3.2"/><circle cx="151.1" cy="418.6" r="5.6"/><circle cx="68.4" cy="351.6" r="4.7"/><circle cx="163.8" cy="420.2" r="3.6"/><circle cx="196.9" cy="273.9" r="5.2"/><circle cx="193.5" cy="418.9" r="6.6"/><circle cx="105.5" cy="401.2" r="3.2"/><circle cx="97.9" cy="340.0" r="6.5"/><circle cx="188.4" cy="370.7" r="5.5"/><circle cx="90.2" cy="361.3" r="3.2"/><circle cx="190.5" cy="407.3" r="6.2"/><circle cx="219.3" cy="276.0" r="3.3"/><circle cx="93.5" cy="373.8" r="4.8"/><circle cx="103.1" cy="347.4" r="5.6"/><circle cx="98.5" cy="360.4" r="3.5"/><circle cx="128.5" cy="353.9" r="6.4"/><circle cx="153.7" cy="398.8" r="6.1"/><circle cx="213.1" cy="325.1" r="4.7"/><circle cx="231.8" cy="291.4" r="4.4"/><circle cx="196.5" cy="403.8" r="4.9"/><circle cx="146.0" cy="380.6" r="3.3"/><circle cx="165.4" cy="279.3" r="5.8"/><circle cx="118.3" cy="388.3" r="6.0"/><circle cx="138.9" cy="286.1" r="4.9"/><circle cx="145.5" cy="417.2" r="6.2"/><circle cx="98.4" cy="391.0" r="4.2"/><circle cx="128.2" cy="286.8" r="6.3"/><circle cx="202.5" cy="384.7" r="3.7"/><circle cx="147.5" cy="388.2" r="3.9"/><circle cx="217.4" cy="402.0" r="4.0"/><circle cx="77.8" cy="363.0" r="4.4"/><circle cx="212.9" cy="403.0" r="4.3"/><circle cx="204.0" cy="371.5" r="3.5"/><circle cx="177.7" cy="390.8" r="6.1"/><circle cx="175.1" cy="388.4" r="5.6"/><circle cx="122.2" cy="300.9" r="5.5"/><circle cx="142.3" cy="340.2" r="4.5"/><circle cx="228.5" cy="310.3" r="4.5"/><circle cx="116.0" cy="394.6" r="4.9"/><circle cx="209.4" cy="265.4" r="6.1"/><circle cx="88.8" cy="312.5" r="5.0"/><circle cx="178.4" cy="364.5" r="6.3"/><circle cx="78.9" cy="330.6" r="4.7"/><circle cx="216.6" cy="301.9" r="4.1"/><circle cx="148.4" cy="372.3" r="3.6"/><circle cx="196.4" cy="421.2" r="4.0"/><circle cx="113.0" cy="364.8" r="4.3"/><circle cx="206.8" cy="285.2" r="4.6"/><circle cx="205.8" cy="306.5" r="5.8"/><circle cx="105.0" cy="343.1" r="3.9"/><circle cx="100.8" cy="386.1" r="5.9"/><circle cx="198.4" cy="374.4" r="4.8"/><circle cx="198.7" cy="261.2" r="3.4"/><circle cx="73.6" cy="314.7" r="6.5"/><circle cx="111.5" cy="329.9" r="6.2"/><circle cx="118.2" cy="414.9" r="4.8"/><circle cx="125.0" cy="347.6" r="5.3"/><circle cx="74.2" cy="334.7" r="4.9"/><circle cx="175.5" cy="289.9" r="4.5"/><circle cx="167.0" cy="420.4" r="3.6"/><circle cx="204.0" cy="294.0" r="6.1"/><circle cx="181.7" cy="302.2" r="5.8"/><circle cx="219.7" cy="391.1" r="4.9"/><circle cx="193.3" cy="279.6" r="6.0"/><circle cx="137.9" cy="414.4" r="6.0"/><circle cx="138.5" cy="417.9" r="3.8"/><circle cx="97.8" cy="372.6" r="6.4"/><circle cx="137.9" cy="354.7" r="6.3"/><circle cx="70.0" cy="355.2" r="6.7"/><circle cx="206.4" cy="288.9" r="3.3"/><circle cx="237.1" cy="288.2" r="6.0"/><circle cx="201.1" cy="361.5" r="5.9"/><circle cx="222.7" cy="284.3" r="5.5"/><circle cx="205.4" cy="362.6" r="3.9"/><circle cx="91.5" cy="351.7" r="5.7"/><circle cx="197.3" cy="414.5" r="5.6"/><circle cx="138.9" cy="307.1" r="4.0"/><circle cx="131.8" cy="309.3" r="5.0"/><circle cx="123.4" cy="314.4" r="4.1"/><circle cx="129.6" cy="367.8" r="3.5"/><circle cx="155.6" cy="379.2" r="6.4"/><circle cx="163.4" cy="334.1" r="6.8"/><circle cx="219.8" cy="304.0" r="5.5"/><circle cx="194.2" cy="416.6" r="6.4"/><circle cx="157.9" cy="287.1" r="5.1"/><circle cx="74.6" cy="350.7" r="4.6"/><circle cx="82.0" cy="383.5" r="3.9"/><circle cx="160.1" cy="300.1" r="4.5"/><circle cx="202.4" cy="272.5" r="6.4"/><circle cx="101.1" cy="368.4" r="6.3"/><circle cx="117.4" cy="342.9" r="6.4"/><circle cx="141.6" cy="338.7" r="5.2"/><circle cx="135.8" cy="333.1" r="4.1"/><circle cx="136.9" cy="304.4" r="3.5"/><circle cx="93.3" cy="315.4" r="4.6"/><circle cx="89.2" cy="312.6" r="3.8"/><circle cx="116.2" cy="306.9" r="3.6"/><circle cx="190.6" cy="346.6" r="6.4"/><circle cx="207.4" cy="329.9" r="3.4"/><circle cx="140.0" cy="409.3" r="3.5"/><circle cx="156.3" cy="352.8" r="6.0"/><circle cx="191.7" cy="339.6" r="4.7"/><circle cx="195.9" cy="255.5" r="5.2"/><circle cx="124.8" cy="316.0" r="4.3"/><circle cx="193.5" cy="417.1" r="4.2"/><circle cx="174.3" cy="350.8" r="3.4"/><circle cx="100.6" cy="351.2" r="3.9"/><circle cx="183.4" cy="369.3" r="5.1"/><circle cx="107.6" cy="346.8" r="6.2"/><circle cx="163.9" cy="262.9" r="4.5"/><circle cx="227.4" cy="263.0" r="4.0"/><circle cx="160.7" cy="365.6" r="6.7"/><circle cx="222.8" cy="301.5" r="3.4"/><circle cx="143.0" cy="299.6" r="4.1"/><circle cx="188.4" cy="393.7" r="3.8"/><circle cx="74.4" cy="323.5" r="3.6"/><circle cx="206.8" cy="291.4" r="5.2"/><circle cx="92.3" cy="366.7" r="5.1"/><circle cx="206.4" cy="323.6" r="5.2"/><circle cx="161.4" cy="403.9" r="3.8"/><circle cx="200.4" cy="303.4" r="4.9"/><circle cx="121.6" cy="411.9" r="5.2"/><circle cx="251.1" cy="275.4" r="5.4"/><circle cx="233.4" cy="263.2" r="4.7"/><circle cx="164.0" cy="307.4" r="5.6"/><circle cx="232.3" cy="278.3" r="5.8"/><circle cx="102.2" cy="352.8" r="3.9"/><circle cx="151.9" cy="294.8" r="6.0"/><circle cx="165.7" cy="269.8" r="5.6"/><circle cx="181.4" cy="417.3" r="6.6"/><circle cx="223.7" cy="312.4" r="6.5"/><circle cx="110.8" cy="362.3" r="5.5"/><circle cx="164.2" cy="323.4" r="3.8"/><circle cx="72.4" cy="317.3" r="5.7"/><circle cx="188.5" cy="343.2" r="4.3"/><circle cx="193.8" cy="418.6" r="6.3"/><circle cx="141.7" cy="359.7" r="4.0"/><circle cx="146.6" cy="276.4" r="3.3"/><circle cx="159.3" cy="332.4" r="3.5"/><circle cx="152.2" cy="273.0" r="6.3"/><circle cx="72.3" cy="309.9" r="4.9"/><circle cx="151.2" cy="277.6" r="4.4"/><circle cx="77.7" cy="328.0" r="5.1"/><circle cx="149.2" cy="392.4" r="6.2"/><circle cx="196.0" cy="358.5" r="4.0"/><circle cx="204.1" cy="317.9" r="4.4"/><circle cx="112.4" cy="393.0" r="6.7"/><circle cx="143.0" cy="350.4" r="5.0"/><circle cx="187.9" cy="395.5" r="4.8"/><circle cx="189.8" cy="406.2" r="3.3"/><circle cx="214.9" cy="284.5" r="6.4"/><circle cx="144.0" cy="368.2" r="5.9"/><circle cx="175.2" cy="294.8" r="3.5"/><circle cx="115.8" cy="303.3" r="6.5"/><circle cx="134.7" cy="372.7" r="6.4"/><circle cx="121.6" cy="397.2" r="6.4"/><circle cx="189.6" cy="257.8" r="4.3"/><circle cx="163.7" cy="363.6" r="4.4"/><circle cx="137.2" cy="345.4" r="6.7"/><circle cx="115.0" cy="308.8" r="5.7"/><circle cx="202.8" cy="327.0" r="6.4"/><circle cx="113.9" cy="366.1" r="4.2"/><circle cx="163.0" cy="356.3" r="6.8"/><circle cx="225.3" cy="270.1" r="4.2"/><circle cx="198.0" cy="258.4" r="5.6"/><circle cx="215.4" cy="261.1" r="6.6"/><circle cx="115.4" cy="380.0" r="4.8"/><circle cx="163.0" cy="320.2" r="6.7"/><circle cx="254.1" cy="276.1" r="5.2"/><circle cx="194.7" cy="377.0" r="6.2"/><circle cx="171.6" cy="330.5" r="5.5"/><circle cx="259.3" cy="278.3" r="5.9"/><circle cx="149.2" cy="416.9" r="4.5"/><circle cx="183.7" cy="285.2" r="5.5"/><circle cx="201.4" cy="396.5" r="4.4"/><circle cx="117.5" cy="411.6" r="6.5"/><circle cx="214.2" cy="302.8" r="6.1"/><circle cx="116.2" cy="390.6" r="4.4"/><circle cx="175.8" cy="346.0" r="5.4"/><circle cx="147.7" cy="325.1" r="6.8"/><circle cx="82.4" cy="370.5" r="6.6"/><circle cx="89.2" cy="315.4" r="5.1"/><circle cx="151.8" cy="390.9" r="4.6"/><circle cx="198.1" cy="305.7" r="6.7"/><circle cx="171.8" cy="393.7" r="5.6"/><circle cx="206.0" cy="305.5" r="6.1"/><circle cx="135.9" cy="333.9" r="6.1"/><circle cx="181.5" cy="411.6" r="3.6"/><circle cx="147.5" cy="384.1" r="6.7"/><circle cx="131.5" cy="309.8" r="5.5"/><circle cx="219.1" cy="393.1" r="3.3"/><circle cx="206.9" cy="359.6" r="3.2"/><circle cx="134.4" cy="364.9" r="4.5"/><circle cx="118.6" cy="398.3" r="6.1"/><circle cx="199.8" cy="290.7" r="5.7"/><circle cx="195.6" cy="360.2" r="3.9"/><circle cx="151.0" cy="419.8" r="3.2"/><circle cx="178.9" cy="393.9" r="6.3"/><circle cx="77.8" cy="336.5" r="5.6"/><circle cx="177.3" cy="368.1" r="5.9"/><circle cx="114.6" cy="350.3" r="3.3"/><circle cx="207.0" cy="379.8" r="6.3"/><circle cx="184.5" cy="389.3" r="4.3"/><circle cx="196.4" cy="414.0" r="3.3"/><circle cx="99.3" cy="367.8" r="6.2"/><circle cx="90.3" cy="317.6" r="4.7"/><circle cx="97.3" cy="311.9" r="6.4"/><circle cx="93.3" cy="349.2" r="5.2"/><circle cx="190.7" cy="372.4" r="5.6"/><circle cx="156.7" cy="404.4" r="6.7"/><circle cx="118.1" cy="386.8" r="5.3"/><circle cx="130.1" cy="355.0" r="6.0"/><circle cx="262.6" cy="278.1" r="4.8"/><circle cx="155.3" cy="271.7" r="3.8"/><circle cx="242.8" cy="284.0" r="6.6"/><circle cx="94.9" cy="376.9" r="3.2"/><circle cx="199.6" cy="297.2" r="3.4"/><circle cx="184.9" cy="349.3" r="6.7"/><circle cx="212.0" cy="267.6" r="5.6"/><circle cx="199.1" cy="411.1" r="4.1"/><circle cx="223.5" cy="269.7" r="3.7"/><circle cx="232.5" cy="306.2" r="4.8"/><circle cx="161.5" cy="415.1" r="5.2"/><circle cx="77.8" cy="339.2" r="5.8"/><circle cx="213.6" cy="294.6" r="4.4"/><circle cx="185.4" cy="404.3" r="3.7"/><circle cx="201.6" cy="262.0" r="6.3"/><circle cx="109.5" cy="333.9" r="6.2"/><circle cx="194.5" cy="399.6" r="6.5"/><circle cx="239.7" cy="269.1" r="3.3"/><circle cx="116.4" cy="412.4" r="5.3"/><circle cx="134.6" cy="354.4" r="3.9"/><circle cx="139.6" cy="362.2" r="4.8"/><circle cx="185.0" cy="325.4" r="6.0"/><circle cx="146.3" cy="335.4" r="5.7"/><circle cx="210.9" cy="286.3" r="5.9"/><circle cx="197.7" cy="384.9" r="3.8"/><circle cx="234.9" cy="258.8" r="3.8"/><circle cx="207.3" cy="316.2" r="3.5"/><circle cx="135.9" cy="369.9" r="6.5"/><circle cx="156.6" cy="380.5" r="6.0"/><circle cx="145.0" cy="309.6" r="4.8"/><circle cx="94.5" cy="320.8" r="6.4"/><circle cx="70.1" cy="339.6" r="4.4"/><circle cx="138.8" cy="390.1" r="4.3"/><circle cx="98.7" cy="371.0" r="5.5"/><circle cx="150.8" cy="298.5" r="6.1"/><circle cx="176.6" cy="342.5" r="3.6"/><circle cx="167.3" cy="359.4" r="3.8"/><circle cx="216.2" cy="268.7" r="4.5"/><circle cx="184.7" cy="420.0" r="3.3"/><circle cx="157.2" cy="294.8" r="3.3"/><circle cx="143.4" cy="279.0" r="4.9"/><circle cx="107.5" cy="374.6" r="3.9"/><circle cx="164.5" cy="363.4" r="6.3"/><circle cx="199.7" cy="286.3" r="6.4"/><circle cx="171.2" cy="404.0" r="6.5"/><circle cx="130.1" cy="386.1" r="4.4"/><circle cx="108.8" cy="341.5" r="5.4"/><circle cx="202.7" cy="288.9" r="6.5"/><circle cx="204.1" cy="400.7" r="4.0"/><circle cx="85.4" cy="322.8" r="6.5"/><circle cx="185.1" cy="334.3" r="5.5"/><circle cx="138.9" cy="284.0" r="3.5"/><circle cx="115.6" cy="332.4" r="4.3"/><circle cx="80.5" cy="347.4" r="4.3"/><circle cx="167.1" cy="266.2" r="5.4"/><circle cx="126.2" cy="412.4" r="4.2"/><circle cx="144.9" cy="339.7" r="4.3"/><circle cx="131.5" cy="334.9" r="5.4"/><circle cx="164.7" cy="330.3" r="3.5"/><circle cx="169.0" cy="281.8" r="5.7"/><circle cx="115.5" cy="371.8" r="3.8"/><circle cx="149.2" cy="288.2" r="4.6"/><circle cx="163.0" cy="360.6" r="3.8"/><circle cx="155.4" cy="316.8" r="4.3"/><circle cx="215.7" cy="296.2" r="5.8"/><circle cx="192.7" cy="267.6" r="5.1"/><circle cx="230.2" cy="258.3" r="4.4"/><circle cx="109.4" cy="399.9" r="4.8"/><circle cx="107.9" cy="313.8" r="3.6"/><circle cx="188.0" cy="378.2" r="3.5"/><circle cx="175.0" cy="412.4" r="5.7"/><circle cx="124.8" cy="351.1" r="4.0"/><circle cx="87.5" cy="322.3" r="5.1"/><circle cx="148.5" cy="403.1" r="6.0"/><circle cx="172.6" cy="295.2" r="4.2"/><circle cx="187.3" cy="261.3" r="3.6"/><circle cx="224.9" cy="290.8" r="5.3"/><circle cx="198.5" cy="343.6" r="5.1"/><circle cx="184.3" cy="267.2" r="3.7"/><circle cx="117.3" cy="398.7" r="3.2"/><circle cx="203.8" cy="344.4" r="3.2"/><circle cx="198.7" cy="268.5" r="5.7"/><circle cx="222.1" cy="401.5" r="4.8"/><circle cx="239.2" cy="286.8" r="5.2"/><circle cx="85.2" cy="366.4" r="6.7"/><circle cx="196.8" cy="251.1" r="4.4"/><circle cx="162.4" cy="261.7" r="3.5"/><circle cx="159.3" cy="381.4" r="6.4"/><circle cx="219.2" cy="303.7" r="6.1"/><circle cx="202.0" cy="323.1" r="4.8"/><circle cx="173.1" cy="362.1" r="3.4"/><circle cx="155.6" cy="417.4" r="5.0"/><circle cx="156.1" cy="270.5" r="5.4"/><circle cx="148.7" cy="295.1" r="3.7"/><circle cx="121.4" cy="405.0" r="4.6"/><circle cx="212.7" cy="276.9" r="4.8"/><circle cx="164.7" cy="355.9" r="3.5"/><circle cx="248.4" cy="283.2" r="5.9"/><circle cx="78.8" cy="310.3" r="5.2"/><circle cx="199.3" cy="321.8" r="6.2"/><circle cx="135.7" cy="285.9" r="6.3"/><circle cx="159.9" cy="323.3" r="3.6"/><circle cx="247.4" cy="271.7" r="4.8"/><circle cx="184.4" cy="417.1" r="3.7"/><circle cx="93.7" cy="390.0" r="3.5"/><circle cx="106.2" cy="315.4" r="3.7"/><circle cx="185.2" cy="413.4" r="4.5"/><circle cx="152.3" cy="273.5" r="3.8"/><circle cx="112.9" cy="368.9" r="3.6"/><circle cx="203.4" cy="347.2" r="3.3"/><circle cx="137.8" cy="371.8" r="4.6"/><circle cx="75.9" cy="309.4" r="4.7"/><circle cx="87.1" cy="386.0" r="4.3"/><circle cx="114.4" cy="393.7" r="3.5"/><circle cx="113.6" cy="328.2" r="5.6"/><circle cx="105.5" cy="326.1" r="3.5"/><circle cx="105.5" cy="309.1" r="6.3"/><circle cx="85.7" cy="349.1" r="6.1"/><circle cx="89.8" cy="315.3" r="3.9"/><circle cx="138.7" cy="365.5" r="6.2"/><circle cx="166.5" cy="277.7" r="5.0"/><circle cx="88.3" cy="371.7" r="3.9"/><circle cx="188.8" cy="412.1" r="4.3"/><circle cx="115.5" cy="340.4" r="5.7"/><circle cx="143.6" cy="315.3" r="4.3"/><circle cx="200.9" cy="286.7" r="3.6"/><circle cx="116.3" cy="412.0" r="4.1"/><circle cx="125.1" cy="377.3" r="4.8"/><circle cx="85.4" cy="380.6" r="6.2"/><circle cx="234.2" cy="285.8" r="6.4"/><circle cx="207.0" cy="368.4" r="6.8"/><circle cx="147.9" cy="272.5" r="3.7"/><circle cx="226.9" cy="295.3" r="4.3"/><circle cx="177.3" cy="388.4" r="6.4"/><circle cx="199.6" cy="340.4" r="3.5"/><circle cx="71.1" cy="321.8" r="3.7"/><circle cx="147.7" cy="389.1" r="3.8"/><circle cx="193.2" cy="279.0" r="3.3"/><circle cx="213.8" cy="378.1" r="4.8"/><circle cx="181.5" cy="402.4" r="4.8"/><circle cx="133.9" cy="314.3" r="5.9"/><circle cx="183.8" cy="261.9" r="4.4"/><circle cx="174.9" cy="300.8" r="4.6"/><circle cx="144.1" cy="367.7" r="5.6"/><circle cx="212.2" cy="384.3" r="3.9"/><circle cx="129.2" cy="284.7" r="6.1"/><circle cx="150.7" cy="316.0" r="5.3"/><circle cx="199.4" cy="267.6" r="5.1"/><circle cx="135.0" cy="368.4" r="6.1"/><circle cx="253.7" cy="279.9" r="5.7"/><circle cx="184.5" cy="363.7" r="3.7"/><circle cx="206.9" cy="373.6" r="6.2"/><circle cx="163.2" cy="354.5" r="5.5"/><circle cx="121.7" cy="403.1" r="4.4"/><circle cx="94.0" cy="340.1" r="5.3"/><circle cx="210.7" cy="398.0" r="6.3"/><circle cx="204.7" cy="255.4" r="6.2"/><circle cx="138.6" cy="297.7" r="4.6"/><circle cx="127.1" cy="395.6" r="4.2"/><circle cx="189.5" cy="328.2" r="5.8"/><circle cx="163.7" cy="346.7" r="6.7"/><circle cx="202.1" cy="252.3" r="6.6"/><circle cx="80.9" cy="348.0" r="6.2"/><circle cx="212.6" cy="257.8" r="3.6"/><circle cx="204.2" cy="259.9" r="6.2"/><circle cx="123.1" cy="356.2" r="4.5"/><circle cx="135.2" cy="380.2" r="4.7"/><circle cx="245.7" cy="289.1" r="4.7"/><circle cx="130.7" cy="384.1" r="5.2"/><circle cx="137.9" cy="368.4" r="5.7"/><circle cx="140.7" cy="396.3" r="3.7"/><circle cx="139.9" cy="278.3" r="6.7"/><circle cx="105.2" cy="370.2" r="3.9"/><circle cx="161.9" cy="373.7" r="4.3"/><circle cx="159.0" cy="320.7" r="3.4"/><circle cx="108.7" cy="341.5" r="5.2"/><circle cx="73.0" cy="327.1" r="5.2"/><circle cx="202.0" cy="311.1" r="6.7"/><circle cx="186.4" cy="375.2" r="4.2"/><circle cx="79.4" cy="312.7" r="4.9"/><circle cx="206.0" cy="349.0" r="4.8"/><circle cx="103.1" cy="380.8" r="3.6"/><circle cx="140.1" cy="368.0" r="6.6"/><circle cx="80.8" cy="364.8" r="6.7"/><circle cx="159.3" cy="336.8" r="4.9"/><circle cx="79.2" cy="377.0" r="4.0"/><circle cx="238.6" cy="259.3" r="4.3"/><circle cx="140.2" cy="393.0" r="4.1"/><circle cx="183.2" cy="268.4" r="5.7"/><circle cx="157.8" cy="272.3" r="5.1"/><circle cx="150.4" cy="280.4" r="3.4"/><circle cx="150.7" cy="331.8" r="5.0"/><circle cx="119.5" cy="365.9" r="3.9"/><circle cx="133.6" cy="332.1" r="3.7"/><circle cx="86.1" cy="375.1" r="4.5"/><circle cx="226.7" cy="310.7" r="5.5"/><circle cx="232.5" cy="298.0" r="6.7"/><circle cx="167.5" cy="391.7" r="6.2"/><circle cx="109.1" cy="374.2" r="6.1"/><circle cx="197.2" cy="314.5" r="4.7"/><circle cx="89.2" cy="379.2" r="4.1"/><circle cx="171.1" cy="316.9" r="4.6"/><circle cx="109.7" cy="403.5" r="4.6"/><circle cx="233.2" cy="258.8" r="3.3"/><circle cx="204.8" cy="329.2" r="4.8"/><circle cx="188.7" cy="329.3" r="6.2"/><circle cx="100.0" cy="345.2" r="3.8"/><circle cx="192.8" cy="390.8" r="3.9"/><circle cx="134.6" cy="297.8" r="4.2"/><circle cx="177.6" cy="346.1" r="5.7"/><circle cx="235.9" cy="263.2" r="4.4"/><circle cx="174.4" cy="408.0" r="4.7"/><circle cx="228.6" cy="306.8" r="3.3"/><circle cx="137.7" cy="330.9" r="3.8"/><circle cx="130.1" cy="384.3" r="4.6"/><circle cx="97.2" cy="346.0" r="4.0"/><circle cx="138.5" cy="388.4" r="5.3"/><circle cx="183.8" cy="291.0" r="5.8"/><circle cx="100.1" cy="356.6" r="3.9"/><circle cx="224.5" cy="399.3" r="3.3"/><circle cx="110.3" cy="329.9" r="3.7"/><circle cx="201.4" cy="344.2" r="5.3"/><circle cx="189.8" cy="374.1" r="3.9"/><circle cx="111.7" cy="304.0" r="5.0"/><circle cx="178.4" cy="296.8" r="6.6"/><circle cx="218.8" cy="299.6" r="4.3"/><circle cx="152.8" cy="413.8" r="6.1"/><circle cx="173.4" cy="317.2" r="4.9"/><circle cx="111.2" cy="385.6" r="6.7"/><circle cx="136.7" cy="415.1" r="4.4"/><circle cx="89.5" cy="310.8" r="5.1"/><circle cx="196.9" cy="275.2" r="5.9"/><circle cx="210.0" cy="258.2" r="6.1"/><circle cx="102.4" cy="360.0" r="5.7"/><circle cx="124.6" cy="386.4" r="4.0"/><circle cx="195.8" cy="384.1" r="4.9"/><circle cx="228.1" cy="261.3" r="5.8"/><circle cx="156.8" cy="419.4" r="4.8"/><circle cx="167.7" cy="383.6" r="6.6"/><circle cx="226.5" cy="290.1" r="4.7"/><circle cx="86.0" cy="341.1" r="6.4"/><circle cx="244.6" cy="269.0" r="4.6"/><circle cx="108.7" cy="405.1" r="4.1"/><circle cx="204.4" cy="289.7" r="5.0"/><circle cx="183.4" cy="285.2" r="4.6"/><circle cx="138.9" cy="317.4" r="6.3"/><circle cx="127.2" cy="302.8" r="6.4"/><circle cx="90.9" cy="325.9" r="3.3"/><circle cx="246.7" cy="279.7" r="6.2"/><circle cx="183.3" cy="406.9" r="5.9"/><circle cx="170.0" cy="417.8" r="5.5"/><circle cx="131.8" cy="348.2" r="4.1"/><circle cx="108.8" cy="399.9" r="3.7"/><circle cx="187.7" cy="293.1" r="5.5"/><circle cx="144.4" cy="403.1" r="4.6"/><circle cx="156.8" cy="291.2" r="4.7"/><circle cx="173.6" cy="386.1" r="4.6"/><circle cx="97.7" cy="326.5" r="4.5"/><circle cx="130.9" cy="284.0" r="6.5"/><circle cx="122.3" cy="380.1" r="6.7"/><circle cx="130.5" cy="330.6" r="6.6"/><circle cx="222.2" cy="269.1" r="4.1"/><circle cx="107.8" cy="303.9" r="3.3"/><circle cx="110.8" cy="357.4" r="6.0"/><circle cx="107.9" cy="326.1" r="4.6"/><circle cx="238.0" cy="295.3" r="4.4"/><circle cx="91.5" cy="347.1" r="3.8"/><circle cx="153.7" cy="372.3" r="4.9"/><circle cx="194.8" cy="406.7" r="6.2"/><circle cx="149.2" cy="381.7" r="5.3"/><circle cx="160.3" cy="281.8" r="3.8"/><circle cx="89.3" cy="387.8" r="3.5"/><circle cx="152.3" cy="351.6" r="4.2"/><circle cx="92.4" cy="356.1" r="5.5"/><circle cx="112.4" cy="366.5" r="3.9"/><circle cx="134.4" cy="373.4" r="6.3"/><circle cx="135.0" cy="412.1" r="5.5"/><circle cx="166.8" cy="382.2" r="6.6"/><circle cx="175.2" cy="275.8" r="5.0"/><circle cx="109.0" cy="386.1" r="4.3"/><circle cx="71.9" cy="335.8" r="5.2"/><circle cx="134.3" cy="392.3" r="3.9"/><circle cx="149.3" cy="348.0" r="3.2"/><circle cx="78.6" cy="319.2" r="3.7"/><circle cx="211.5" cy="282.7" r="4.2"/><circle cx="99.8" cy="333.9" r="5.9"/><circle cx="149.4" cy="383.8" r="3.5"/><circle cx="87.5" cy="353.0" r="6.4"/><circle cx="186.6" cy="367.8" r="5.9"/><circle cx="126.5" cy="392.3" r="4.5"/><circle cx="86.7" cy="352.4" r="5.4"/><circle cx="138.5" cy="303.2" r="3.5"/><circle cx="93.0" cy="312.8" r="4.1"/><circle cx="129.5" cy="349.4" r="3.3"/><circle cx="223.0" cy="399.7" r="5.6"/><circle cx="161.4" cy="277.4" r="5.8"/><circle cx="145.8" cy="297.9" r="5.6"/><circle cx="104.8" cy="396.4" r="5.6"/><circle cx="130.8" cy="328.5" r="6.3"/><circle cx="212.0" cy="275.5" r="5.5"/><circle cx="163.0" cy="322.3" r="4.5"/><circle cx="192.8" cy="373.0" r="5.1"/><circle cx="128.5" cy="330.5" r="4.7"/><circle cx="177.1" cy="375.3" r="6.6"/><circle cx="212.3" cy="282.8" r="4.8"/><circle cx="173.8" cy="417.8" r="5.2"/><circle cx="102.1" cy="329.3" r="5.0"/><circle cx="170.4" cy="416.9" r="6.1"/><circle cx="203.1" cy="301.4" r="4.4"/><circle cx="84.5" cy="362.5" r="5.5"/><circle cx="202.5" cy="295.8" r="3.2"/><circle cx="168.3" cy="335.6" r="3.6"/><circle cx="220.0" cy="306.8" r="4.8"/><circle cx="96.6" cy="388.4" r="5.6"/><circle cx="123.8" cy="298.4" r="3.5"/><circle cx="145.2" cy="292.7" r="6.5"/><circle cx="167.0" cy="337.8" r="5.0"/><circle cx="172.7" cy="376.4" r="5.4"/><circle cx="115.8" cy="336.7" r="6.7"/><circle cx="218.8" cy="390.1" r="6.6"/><circle cx="125.8" cy="347.3" r="6.4"/><circle cx="69.5" cy="349.7" r="5.5"/><circle cx="177.1" cy="365.6" r="4.6"/><circle cx="178.5" cy="356.6" r="4.3"/><circle cx="99.8" cy="358.9" r="4.2"/><circle cx="129.1" cy="279.1" r="4.3"/><circle cx="149.4" cy="411.5" r="5.3"/><circle cx="102.0" cy="372.7" r="3.9"/><circle cx="158.6" cy="308.5" r="3.6"/><circle cx="155.4" cy="318.3" r="3.9"/><circle cx="79.6" cy="346.0" r="4.7"/><circle cx="145.4" cy="293.3" r="6.5"/><circle cx="202.6" cy="389.4" r="5.7"/><circle cx="197.9" cy="336.9" r="5.1"/><circle cx="73.4" cy="361.5" r="5.4"/><circle cx="136.7" cy="349.0" r="4.5"/><circle cx="173.1" cy="346.5" r="4.4"/><circle cx="239.4" cy="277.0" r="6.4"/><circle cx="228.1" cy="313.6" r="5.4"/><circle cx="211.2" cy="390.4" r="6.3"/><circle cx="123.3" cy="357.4" r="5.9"/><circle cx="122.4" cy="348.0" r="4.3"/><circle cx="116.3" cy="299.7" r="6.2"/><circle cx="108.3" cy="386.7" r="5.6"/><circle cx="114.5" cy="313.9" r="5.0"/><circle cx="106.0" cy="391.1" r="5.6"/><circle cx="114.5" cy="378.8" r="5.0"/><circle cx="150.6" cy="309.1" r="4.3"/><circle cx="178.1" cy="385.4" r="3.5"/><circle cx="194.9" cy="400.3" r="4.4"/></g>
<path d="M388.0 276.1 L390.2 282.0 L390.2 282.2 L390.3 282.4 L390.3 282.6 L390.3 282.9 L390.3 283.1 L390.2 283.3 L388.6 291.5 L390.2 299.8 L390.3 300.0 L390.3 300.3 L390.3 300.5 L390.3 300.8 L390.2 301.0 L390.1 301.3 L390.0 301.5 L389.9 301.7 L386.4 306.9 L386.2 307.1 L386.1 307.3 L385.9 307.4 L385.7 307.6 L385.5 307.7 L385.3 307.8 L385.1 307.9 L380.4 309.5 L375.6 314.3 L375.4 314.4 L375.2 314.6 L375.0 314.7 L374.8 314.8 L374.6 314.9 L369.3 316.7 L369.1 316.7 L368.8 316.8 L368.6 316.8 L368.3 316.8 L368.1 316.8 L367.8 316.7 L367.6 316.6 L367.3 316.5 L367.1 316.4 L366.9 316.2 L366.7 316.1 L366.6 315.9 L366.4 315.7 L363.4 311.1 L359.7 309.9 L354.1 311.3 L350.0 315.3 L350.0 319.1 L351.7 324.0 L351.7 324.2 L351.8 324.5 L351.8 324.7 L351.8 324.9 L351.8 325.2 L351.7 325.4 L351.7 325.6 L349.9 330.6 L348.5 340.2 L348.0 362.5 L357.8 372.2 L357.9 372.4 L358.1 372.6 L358.2 372.8 L358.3 373.0 L358.4 373.3 L358.5 373.5 L358.5 373.8 L358.5 374.0 L358.5 384.3 L360.1 393.8 L364.2 398.0 L372.3 399.5 L372.5 399.6 L372.7 399.7 L372.9 399.8 L373.2 399.9 L373.3 400.0 L373.5 400.2 L373.7 400.4 L373.8 400.5 L374.0 400.7 L374.1 401.0 L374.2 401.2 L374.2 401.4 L375.9 408.4 L377.4 414.3 L381.0 416.1 L390.8 415.3 L391.0 415.3 L391.2 415.3 L391.5 415.3 L391.7 415.4 L391.9 415.5 L392.1 415.6 L399.0 419.0 L408.1 422.5 L420.0 423.7 L434.8 422.5 L435.1 422.5 L435.3 422.5 L435.6 422.6 L435.8 422.6 L436.1 422.7 L440.4 424.8 L449.9 423.9 L453.1 420.6 L455.1 414.6 L455.2 414.4 L455.3 414.2 L455.5 414.0 L455.6 413.8 L455.8 413.6 L456.0 413.4 L456.2 413.3 L456.4 413.2 L465.2 408.8 L465.4 408.7 L475.5 404.6 L479.1 399.2 L479.1 391.3 L479.1 391.0 L479.2 390.8 L479.2 390.6 L479.3 390.3 L479.4 390.1 L479.5 389.9 L479.7 389.7 L479.9 389.5 L480.1 389.3 L480.3 389.2 L480.5 389.1 L486.8 385.9 L492.9 380.7 L497.2 375.6 L500.3 369.4 L500.3 364.8 L500.3 364.6 L500.3 364.3 L500.4 364.1 L500.5 363.9 L500.6 363.6 L500.7 363.4 L500.8 363.2 L504.3 358.8 L506.7 355.9 L504.5 352.5 L497.8 347.5 L497.6 347.3 L497.4 347.2 L497.3 347.0 L497.1 346.7 L497.0 346.5 L496.9 346.3 L496.9 346.1 L496.8 345.8 L496.8 345.6 L496.8 345.3 L496.8 345.1 L496.9 344.8 L497.0 344.6 L497.1 344.3 L497.2 344.1 L497.4 343.9 L497.5 343.7 L497.7 343.6 L497.9 343.4 L503.1 340.0 L509.5 335.1 L516.3 321.7 L516.4 321.4 L516.6 321.2 L516.7 321.0 L521.5 316.2 L523.1 309.9 L523.1 309.7 L523.2 309.5 L523.3 309.3 L523.4 309.1 L523.6 308.9 L523.7 308.7 L528.6 304.0 L529.2 301.8 L525.9 297.7 L520.7 294.7 L520.5 294.5 L520.3 294.4 L520.2 294.2 L520.0 294.0 L519.9 293.8 L519.7 293.6 L519.7 293.4 L516.5 284.7 L516.4 284.5 L514.3 277.3 L510.6 272.6 L504.3 268.4 L504.1 268.2 L504.0 268.1 L499.6 263.8 L499.3 263.5 L495.9 259.1 L490.7 259.8 L488.0 263.5 L487.9 263.7 L487.7 263.9 L487.5 264.0 L487.3 264.2 L487.0 264.3 L486.8 264.4 L486.6 264.4 L477.8 266.4 L477.5 266.5 L477.2 266.5 L476.9 266.5 L468.2 265.5 L468.1 265.5 L461.6 264.5 L461.3 264.4 L461.1 264.3 L450.1 259.8 L449.8 259.7 L449.6 259.6 L449.4 259.4 L449.2 259.2 L444.1 253.9 L435.5 255.0 L426.7 257.1 L424.7 261.1 L424.6 261.3 L424.5 261.5 L424.3 261.7 L424.2 261.9 L424.0 262.0 L423.8 262.2 L423.6 262.3 L423.3 262.4 L423.1 262.4 L413.2 264.9 L405.8 267.4 L405.5 267.5 L396.0 269.3 L391.3 274.1 L391.0 274.3 L390.8 274.4Z" fill="#284c94"/><g fill="url(#sB)"><circle cx="399.8" cy="342.8" r="5.0"/><circle cx="417.3" cy="357.3" r="4.3"/><circle cx="352.3" cy="343.0" r="6.0"/><circle cx="407.2" cy="375.3" r="6.5"/><circle cx="427.1" cy="358.9" r="4.2"/><circle cx="365.9" cy="321.8" r="3.9"/><circle cx="356.2" cy="330.8" r="3.3"/><circle cx="505.5" cy="293.3" r="4.0"/><circle cx="429.4" cy="294.4" r="3.5"/><circle cx="439.4" cy="349.8" r="4.0"/><circle cx="453.6" cy="280.0" r="3.4"/><circle cx="427.6" cy="261.3" r="5.8"/><circle cx="436.8" cy="267.9" r="4.3"/><circle cx="411.2" cy="329.9" r="5.4"/><circle cx="432.5" cy="376.6" r="4.2"/><circle cx="356.1" cy="314.1" r="4.3"/><circle cx="371.4" cy="350.0" r="4.1"/><circle cx="461.9" cy="384.4" r="5.4"/><circle cx="444.0" cy="420.4" r="6.6"/><circle cx="425.8" cy="417.7" r="3.5"/><circle cx="487.7" cy="279.6" r="3.3"/><circle cx="481.6" cy="293.3" r="4.1"/><circle cx="401.0" cy="306.8" r="6.0"/><circle cx="477.7" cy="351.6" r="5.1"/><circle cx="454.8" cy="313.2" r="5.8"/><circle cx="395.7" cy="385.9" r="4.1"/><circle cx="350.2" cy="331.9" r="3.6"/><circle cx="372.7" cy="328.3" r="5.5"/><circle cx="405.2" cy="284.9" r="4.8"/><circle cx="418.8" cy="334.2" r="4.6"/><circle cx="441.9" cy="372.8" r="4.1"/><circle cx="460.3" cy="357.7" r="4.0"/><circle cx="373.2" cy="384.8" r="6.4"/><circle cx="491.7" cy="343.7" r="6.5"/><circle cx="395.6" cy="402.9" r="5.3"/><circle cx="451.0" cy="362.5" r="4.8"/><circle cx="471.1" cy="308.1" r="5.6"/><circle cx="410.6" cy="340.2" r="4.3"/><circle cx="470.0" cy="316.7" r="5.8"/><circle cx="467.8" cy="285.4" r="6.8"/><circle cx="494.1" cy="262.1" r="5.8"/><circle cx="432.7" cy="284.7" r="6.6"/><circle cx="497.3" cy="329.2" r="6.0"/><circle cx="396.5" cy="324.2" r="5.0"/><circle cx="434.9" cy="299.1" r="3.7"/><circle cx="440.3" cy="359.8" r="5.1"/><circle cx="493.6" cy="272.4" r="5.0"/><circle cx="419.5" cy="363.6" r="3.3"/><circle cx="426.8" cy="312.9" r="6.3"/><circle cx="396.0" cy="411.2" r="6.5"/><circle cx="432.8" cy="307.1" r="3.8"/><circle cx="472.8" cy="271.7" r="4.3"/><circle cx="458.3" cy="293.7" r="5.3"/><circle cx="360.9" cy="346.5" r="6.0"/><circle cx="348.3" cy="361.2" r="3.5"/><circle cx="419.0" cy="337.9" r="4.3"/><circle cx="372.4" cy="344.2" r="4.8"/><circle cx="442.7" cy="262.5" r="4.6"/><circle cx="478.1" cy="398.6" r="3.4"/><circle cx="386.9" cy="401.6" r="5.1"/><circle cx="397.4" cy="412.5" r="6.7"/><circle cx="475.8" cy="342.9" r="5.2"/><circle cx="503.5" cy="272.0" r="5.5"/><circle cx="389.3" cy="402.9" r="6.2"/><circle cx="453.0" cy="417.3" r="4.4"/><circle cx="378.7" cy="387.7" r="4.7"/><circle cx="434.6" cy="294.5" r="3.9"/><circle cx="480.9" cy="296.7" r="4.7"/><circle cx="421.0" cy="337.6" r="3.6"/><circle cx="414.5" cy="273.0" r="4.2"/><circle cx="481.5" cy="349.4" r="5.9"/><circle cx="366.6" cy="321.3" r="5.5"/><circle cx="365.5" cy="394.4" r="4.0"/><circle cx="469.1" cy="312.9" r="3.6"/><circle cx="438.1" cy="371.6" r="6.6"/><circle cx="434.4" cy="370.5" r="4.0"/><circle cx="423.4" cy="350.0" r="4.5"/><circle cx="494.0" cy="283.4" r="5.1"/><circle cx="389.8" cy="328.9" r="4.2"/><circle cx="451.4" cy="357.1" r="4.9"/><circle cx="454.7" cy="316.0" r="4.0"/><circle cx="496.6" cy="323.2" r="3.3"/><circle cx="393.8" cy="373.8" r="5.5"/><circle cx="413.5" cy="317.9" r="6.8"/><circle cx="367.7" cy="352.8" r="3.3"/><circle cx="490.2" cy="296.9" r="6.3"/><circle cx="455.1" cy="302.1" r="4.7"/><circle cx="404.8" cy="341.7" r="6.0"/><circle cx="419.1" cy="314.9" r="5.0"/><circle cx="471.9" cy="276.5" r="5.8"/><circle cx="379.1" cy="412.6" r="6.0"/><circle cx="361.9" cy="319.4" r="6.1"/><circle cx="415.8" cy="357.5" r="4.7"/><circle cx="435.4" cy="264.0" r="3.7"/><circle cx="407.4" cy="269.4" r="5.4"/><circle cx="350.3" cy="352.1" r="4.2"/><circle cx="452.4" cy="420.8" r="3.8"/><circle cx="462.9" cy="409.1" r="3.9"/><circle cx="499.2" cy="280.8" r="4.3"/><circle cx="479.4" cy="350.9" r="5.2"/><circle cx="416.0" cy="326.0" r="3.7"/><circle cx="468.0" cy="349.8" r="5.0"/><circle cx="505.9" cy="308.5" r="4.6"/><circle cx="392.5" cy="334.4" r="4.2"/><circle cx="367.0" cy="385.7" r="6.6"/><circle cx="452.1" cy="386.9" r="3.9"/><circle cx="408.0" cy="345.0" r="5.2"/><circle cx="495.0" cy="365.4" r="6.1"/><circle cx="398.7" cy="282.9" r="6.3"/><circle cx="396.3" cy="358.1" r="5.7"/><circle cx="498.8" cy="283.5" r="3.4"/><circle cx="483.5" cy="266.0" r="3.5"/><circle cx="510.1" cy="277.1" r="6.3"/><circle cx="412.7" cy="279.3" r="4.7"/><circle cx="510.8" cy="292.6" r="4.8"/><circle cx="379.0" cy="360.3" r="5.6"/><circle cx="443.5" cy="321.5" r="4.3"/><circle cx="484.5" cy="289.0" r="4.0"/><circle cx="369.6" cy="334.0" r="5.3"/><circle cx="441.7" cy="274.7" r="6.0"/><circle cx="493.1" cy="356.8" r="4.7"/><circle cx="406.6" cy="273.6" r="4.3"/><circle cx="359.5" cy="351.2" r="6.6"/><circle cx="468.9" cy="340.3" r="5.0"/><circle cx="400.7" cy="306.0" r="5.8"/><circle cx="370.1" cy="330.8" r="6.1"/><circle cx="442.0" cy="378.8" r="5.3"/><circle cx="450.7" cy="337.0" r="5.1"/><circle cx="406.8" cy="274.3" r="3.6"/><circle cx="461.4" cy="355.0" r="5.7"/><circle cx="449.4" cy="420.7" r="5.9"/><circle cx="497.5" cy="314.0" r="3.7"/><circle cx="429.1" cy="283.1" r="4.0"/><circle cx="472.9" cy="271.6" r="3.6"/><circle cx="368.2" cy="328.1" r="4.5"/><circle cx="414.2" cy="373.1" r="3.3"/><circle cx="392.3" cy="313.6" r="6.2"/><circle cx="475.1" cy="344.1" r="6.5"/><circle cx="354.6" cy="368.3" r="4.0"/><circle cx="397.2" cy="289.9" r="5.0"/><circle cx="469.2" cy="383.3" r="4.7"/><circle cx="467.4" cy="274.9" r="3.9"/><circle cx="495.8" cy="359.6" r="4.5"/><circle cx="432.8" cy="392.6" r="3.9"/><circle cx="516.3" cy="289.1" r="4.5"/><circle cx="495.1" cy="301.9" r="3.3"/><circle cx="425.7" cy="330.9" r="4.9"/><circle cx="492.2" cy="267.7" r="5.3"/><circle cx="380.9" cy="310.3" r="4.0"/><circle cx="498.6" cy="342.7" r="3.5"/><circle cx="406.7" cy="321.3" r="6.8"/><circle cx="438.4" cy="395.1" r="6.7"/><circle cx="421.3" cy="388.2" r="4.9"/><circle cx="453.9" cy="407.1" r="5.2"/><circle cx="379.8" cy="373.7" r="4.2"/><circle cx="458.2" cy="283.2" r="3.4"/><circle cx="380.9" cy="364.4" r="4.5"/><circle cx="515.1" cy="296.9" r="6.1"/><circle cx="502.9" cy="335.6" r="4.4"/><circle cx="362.0" cy="333.8" r="5.8"/><circle cx="426.4" cy="279.0" r="5.4"/><circle cx="429.7" cy="411.4" r="4.6"/><circle cx="482.7" cy="282.1" r="6.2"/><circle cx="367.8" cy="338.5" r="6.0"/><circle cx="412.6" cy="354.6" r="4.6"/><circle cx="502.7" cy="321.1" r="5.3"/><circle cx="440.0" cy="382.4" r="4.4"/><circle cx="412.1" cy="357.3" r="5.9"/><circle cx="382.2" cy="364.9" r="3.3"/><circle cx="448.3" cy="271.2" r="4.3"/><circle cx="390.3" cy="412.2" r="3.6"/><circle cx="418.3" cy="420.9" r="5.1"/><circle cx="370.8" cy="377.6" r="3.3"/><circle cx="411.8" cy="371.9" r="5.6"/><circle cx="383.5" cy="390.5" r="4.2"/><circle cx="485.0" cy="347.3" r="6.1"/><circle cx="433.9" cy="402.9" r="4.1"/><circle cx="428.8" cy="279.4" r="4.0"/><circle cx="382.2" cy="360.7" r="6.0"/><circle cx="457.2" cy="273.6" r="4.5"/><circle cx="405.9" cy="337.6" r="4.8"/><circle cx="354.0" cy="355.3" r="3.8"/><circle cx="512.0" cy="278.1" r="5.4"/><circle cx="360.4" cy="344.3" r="5.6"/><circle cx="495.6" cy="284.2" r="6.0"/><circle cx="469.6" cy="402.5" r="6.7"/><circle cx="406.8" cy="307.2" r="6.2"/><circle cx="427.9" cy="414.6" r="4.5"/><circle cx="462.0" cy="339.1" r="6.4"/><circle cx="506.3" cy="276.6" r="5.0"/><circle cx="446.4" cy="352.3" r="5.9"/><circle cx="485.7" cy="375.8" r="4.8"/><circle cx="366.8" cy="393.3" r="5.6"/><circle cx="361.6" cy="387.2" r="6.5"/><circle cx="414.9" cy="343.1" r="3.8"/><circle cx="444.9" cy="398.7" r="4.8"/><circle cx="378.9" cy="342.9" r="4.1"/><circle cx="400.4" cy="339.0" r="3.8"/><circle cx="465.4" cy="348.3" r="6.1"/><circle cx="443.2" cy="404.2" r="3.5"/><circle cx="491.2" cy="330.9" r="4.7"/><circle cx="516.8" cy="313.7" r="5.1"/><circle cx="368.6" cy="397.0" r="5.3"/><circle cx="390.9" cy="323.2" r="5.1"/><circle cx="516.2" cy="295.1" r="3.4"/><circle cx="409.2" cy="375.8" r="5.1"/><circle cx="494.1" cy="364.9" r="4.4"/><circle cx="465.8" cy="380.5" r="6.2"/><circle cx="422.6" cy="349.2" r="6.4"/><circle cx="371.7" cy="339.9" r="4.5"/><circle cx="461.5" cy="316.3" r="3.3"/><circle cx="414.5" cy="365.4" r="6.2"/><circle cx="409.3" cy="401.7" r="5.5"/><circle cx="449.2" cy="336.5" r="6.7"/><circle cx="450.5" cy="346.2" r="3.8"/><circle cx="378.3" cy="383.6" r="4.7"/><circle cx="493.8" cy="309.5" r="5.3"/><circle cx="455.6" cy="310.0" r="5.4"/><circle cx="380.5" cy="414.6" r="3.5"/><circle cx="490.2" cy="276.6" r="6.0"/><circle cx="505.4" cy="330.2" r="6.5"/><circle cx="512.6" cy="315.4" r="4.4"/><circle cx="486.3" cy="270.1" r="5.8"/><circle cx="428.7" cy="353.8" r="4.2"/><circle cx="392.7" cy="294.3" r="6.7"/><circle cx="499.2" cy="357.4" r="5.9"/><circle cx="423.0" cy="318.2" r="6.5"/><circle cx="494.2" cy="261.9" r="6.6"/><circle cx="454.8" cy="360.6" r="4.5"/><circle cx="427.8" cy="260.7" r="3.6"/><circle cx="432.3" cy="261.5" r="3.3"/><circle cx="412.1" cy="347.1" r="3.8"/><circle cx="446.6" cy="285.3" r="5.3"/><circle cx="436.5" cy="275.2" r="5.0"/><circle cx="478.9" cy="304.5" r="6.3"/><circle cx="472.5" cy="276.4" r="6.8"/><circle cx="373.6" cy="335.6" r="4.8"/><circle cx="353.8" cy="318.6" r="3.8"/><circle cx="353.6" cy="361.1" r="3.6"/><circle cx="360.0" cy="382.8" r="3.9"/><circle cx="398.5" cy="332.0" r="4.7"/><circle cx="359.5" cy="364.3" r="4.2"/><circle cx="407.9" cy="365.9" r="3.8"/><circle cx="386.6" cy="410.9" r="3.9"/><circle cx="380.9" cy="409.5" r="4.6"/><circle cx="512.8" cy="299.3" r="4.6"/><circle cx="477.2" cy="399.3" r="4.7"/><circle cx="458.9" cy="348.0" r="4.4"/><circle cx="360.5" cy="319.5" r="3.3"/><circle cx="505.8" cy="332.6" r="4.3"/><circle cx="376.3" cy="377.0" r="6.4"/><circle cx="505.1" cy="321.6" r="6.6"/><circle cx="478.8" cy="340.0" r="5.2"/><circle cx="350.9" cy="319.9" r="3.2"/><circle cx="423.1" cy="309.5" r="4.1"/><circle cx="468.8" cy="289.6" r="6.3"/><circle cx="429.1" cy="336.1" r="5.0"/><circle cx="376.1" cy="345.2" r="5.5"/><circle cx="402.7" cy="356.8" r="6.0"/><circle cx="444.8" cy="255.7" r="5.5"/><circle cx="412.7" cy="392.7" r="3.5"/><circle cx="473.6" cy="383.3" r="4.6"/><circle cx="391.7" cy="290.3" r="5.8"/><circle cx="474.4" cy="301.3" r="5.4"/><circle cx="453.5" cy="332.4" r="6.7"/><circle cx="463.8" cy="319.0" r="5.8"/><circle cx="497.2" cy="296.2" r="5.4"/><circle cx="366.0" cy="349.9" r="4.1"/><circle cx="403.9" cy="375.2" r="3.6"/><circle cx="430.5" cy="382.7" r="3.3"/><circle cx="437.0" cy="291.6" r="4.5"/><circle cx="520.9" cy="316.3" r="3.3"/><circle cx="437.6" cy="264.5" r="6.8"/><circle cx="368.0" cy="329.5" r="6.1"/><circle cx="411.9" cy="305.9" r="6.2"/><circle cx="515.9" cy="303.6" r="3.8"/><circle cx="474.8" cy="382.9" r="6.0"/><circle cx="491.1" cy="316.0" r="5.9"/><circle cx="526.5" cy="305.1" r="3.4"/><circle cx="366.5" cy="352.6" r="6.6"/><circle cx="503.8" cy="270.9" r="4.7"/><circle cx="356.9" cy="325.3" r="5.0"/><circle cx="406.1" cy="364.2" r="4.6"/><circle cx="491.6" cy="307.9" r="6.4"/><circle cx="442.3" cy="257.7" r="5.0"/><circle cx="444.8" cy="377.8" r="4.7"/><circle cx="446.7" cy="308.1" r="6.2"/><circle cx="364.5" cy="381.1" r="4.4"/><circle cx="466.5" cy="341.6" r="5.9"/><circle cx="353.1" cy="329.9" r="6.3"/><circle cx="448.7" cy="392.1" r="5.3"/><circle cx="450.9" cy="405.9" r="6.6"/><circle cx="511.9" cy="293.3" r="6.5"/><circle cx="484.3" cy="338.4" r="4.9"/><circle cx="481.9" cy="297.1" r="6.3"/><circle cx="499.9" cy="350.5" r="3.6"/><circle cx="396.1" cy="288.7" r="5.0"/><circle cx="467.5" cy="341.7" r="3.8"/><circle cx="396.4" cy="369.7" r="5.2"/><circle cx="510.8" cy="275.5" r="4.6"/><circle cx="377.6" cy="407.7" r="5.7"/><circle cx="372.0" cy="325.9" r="5.9"/><circle cx="463.2" cy="363.4" r="3.9"/><circle cx="500.3" cy="292.3" r="5.0"/><circle cx="454.6" cy="383.8" r="3.8"/><circle cx="380.4" cy="368.0" r="5.9"/><circle cx="364.1" cy="317.0" r="4.9"/><circle cx="403.0" cy="389.1" r="6.4"/><circle cx="482.2" cy="274.8" r="6.0"/><circle cx="509.2" cy="331.4" r="4.6"/><circle cx="366.3" cy="389.5" r="6.2"/><circle cx="515.5" cy="283.7" r="4.1"/><circle cx="439.6" cy="369.3" r="6.2"/><circle cx="383.4" cy="357.5" r="3.3"/><circle cx="439.1" cy="291.5" r="3.8"/><circle cx="415.6" cy="275.3" r="5.9"/><circle cx="511.2" cy="324.2" r="6.5"/><circle cx="399.3" cy="355.6" r="5.5"/><circle cx="393.6" cy="296.0" r="6.3"/><circle cx="466.2" cy="368.3" r="3.6"/><circle cx="379.9" cy="337.0" r="6.1"/><circle cx="446.4" cy="285.2" r="4.6"/><circle cx="416.6" cy="419.8" r="5.8"/><circle cx="460.5" cy="277.9" r="5.3"/><circle cx="412.6" cy="278.1" r="4.6"/><circle cx="507.5" cy="309.1" r="5.3"/><circle cx="494.7" cy="272.8" r="5.5"/><circle cx="508.7" cy="272.9" r="4.3"/><circle cx="468.2" cy="362.6" r="4.0"/><circle cx="434.7" cy="374.5" r="6.2"/><circle cx="431.6" cy="381.1" r="3.9"/><circle cx="436.1" cy="374.1" r="4.7"/><circle cx="407.0" cy="414.1" r="3.9"/><circle cx="518.4" cy="312.8" r="3.3"/><circle cx="391.1" cy="403.5" r="3.7"/><circle cx="449.4" cy="416.5" r="3.8"/><circle cx="438.7" cy="256.0" r="3.4"/><circle cx="457.7" cy="264.5" r="4.9"/><circle cx="486.4" cy="382.5" r="5.4"/><circle cx="409.2" cy="370.3" r="5.4"/><circle cx="499.5" cy="291.5" r="5.6"/><circle cx="495.9" cy="295.8" r="4.7"/><circle cx="412.3" cy="324.4" r="3.8"/><circle cx="415.4" cy="379.9" r="5.5"/><circle cx="349.9" cy="344.4" r="4.6"/><circle cx="355.6" cy="319.2" r="5.2"/><circle cx="467.9" cy="363.2" r="6.0"/><circle cx="370.1" cy="324.5" r="3.7"/><circle cx="425.7" cy="412.6" r="5.5"/><circle cx="507.0" cy="281.5" r="3.9"/><circle cx="473.8" cy="291.3" r="4.1"/><circle cx="385.0" cy="342.8" r="6.5"/><circle cx="431.1" cy="311.9" r="6.6"/><circle cx="417.4" cy="270.6" r="4.7"/><circle cx="402.0" cy="365.8" r="5.5"/><circle cx="385.3" cy="308.8" r="3.9"/><circle cx="356.2" cy="350.9" r="3.3"/><circle cx="350.5" cy="340.1" r="4.9"/><circle cx="384.0" cy="365.0" r="6.7"/><circle cx="379.2" cy="362.4" r="4.7"/><circle cx="391.6" cy="401.6" r="4.0"/><circle cx="439.0" cy="343.1" r="5.1"/><circle cx="387.0" cy="344.9" r="6.3"/><circle cx="491.4" cy="321.5" r="4.3"/><circle cx="402.2" cy="333.0" r="3.7"/><circle cx="382.0" cy="399.3" r="5.2"/><circle cx="456.7" cy="370.0" r="5.4"/><circle cx="426.5" cy="405.7" r="3.7"/><circle cx="501.2" cy="358.7" r="5.4"/><circle cx="462.9" cy="344.0" r="6.0"/><circle cx="375.2" cy="342.2" r="6.2"/><circle cx="388.7" cy="311.9" r="5.6"/><circle cx="438.3" cy="328.2" r="5.3"/><circle cx="419.2" cy="410.4" r="4.8"/><circle cx="406.3" cy="301.0" r="6.7"/><circle cx="491.7" cy="367.4" r="4.4"/><circle cx="459.4" cy="286.8" r="6.1"/><circle cx="465.5" cy="320.0" r="6.6"/><circle cx="383.0" cy="410.5" r="4.4"/><circle cx="502.1" cy="271.5" r="4.3"/><circle cx="410.6" cy="395.1" r="4.3"/><circle cx="360.9" cy="339.8" r="5.6"/><circle cx="428.3" cy="297.7" r="3.8"/><circle cx="371.7" cy="398.9" r="3.4"/><circle cx="403.0" cy="335.6" r="5.7"/><circle cx="408.5" cy="294.7" r="3.6"/><circle cx="365.6" cy="320.4" r="5.4"/><circle cx="385.2" cy="413.2" r="5.2"/><circle cx="412.5" cy="393.0" r="3.4"/><circle cx="401.6" cy="401.3" r="3.9"/><circle cx="479.2" cy="386.7" r="6.2"/><circle cx="418.0" cy="291.7" r="6.7"/><circle cx="448.6" cy="276.3" r="5.2"/><circle cx="416.2" cy="362.9" r="5.7"/><circle cx="404.4" cy="392.2" r="6.6"/><circle cx="375.3" cy="381.7" r="3.8"/><circle cx="457.7" cy="386.6" r="5.1"/><circle cx="361.8" cy="392.3" r="4.6"/><circle cx="413.2" cy="320.6" r="5.9"/><circle cx="384.3" cy="399.2" r="5.0"/><circle cx="500.4" cy="304.1" r="4.1"/><circle cx="368.1" cy="391.1" r="6.0"/><circle cx="484.0" cy="385.5" r="4.2"/><circle cx="401.0" cy="395.0" r="3.4"/><circle cx="390.7" cy="375.5" r="6.6"/><circle cx="471.1" cy="377.0" r="3.2"/><circle cx="400.8" cy="281.6" r="4.0"/><circle cx="396.2" cy="415.4" r="5.0"/><circle cx="439.4" cy="294.4" r="6.2"/><circle cx="482.3" cy="343.0" r="5.1"/><circle cx="401.3" cy="271.5" r="5.8"/><circle cx="449.4" cy="336.2" r="6.0"/><circle cx="444.8" cy="308.3" r="4.1"/><circle cx="402.0" cy="318.0" r="6.6"/><circle cx="427.4" cy="330.0" r="6.5"/><circle cx="510.2" cy="291.6" r="5.3"/><circle cx="401.6" cy="365.8" r="3.5"/><circle cx="356.5" cy="341.8" r="3.3"/><circle cx="468.4" cy="347.8" r="4.6"/><circle cx="528.4" cy="302.6" r="3.4"/><circle cx="414.5" cy="283.4" r="5.8"/><circle cx="442.5" cy="359.4" r="4.7"/><circle cx="444.1" cy="296.6" r="5.6"/><circle cx="394.7" cy="289.0" r="3.4"/><circle cx="487.2" cy="337.7" r="3.4"/><circle cx="472.9" cy="291.6" r="4.6"/><circle cx="492.0" cy="308.3" r="4.3"/><circle cx="468.1" cy="312.8" r="3.4"/><circle cx="478.0" cy="377.4" r="4.4"/><circle cx="441.9" cy="408.5" r="6.2"/><circle cx="352.4" cy="362.9" r="5.3"/><circle cx="459.3" cy="384.7" r="3.6"/><circle cx="360.4" cy="384.8" r="4.7"/><circle cx="368.6" cy="323.3" r="5.9"/><circle cx="485.0" cy="332.1" r="6.7"/><circle cx="419.3" cy="346.0" r="3.4"/><circle cx="438.2" cy="380.7" r="4.8"/><circle cx="461.0" cy="296.1" r="6.4"/><circle cx="450.3" cy="361.5" r="5.4"/><circle cx="519.9" cy="312.2" r="5.5"/><circle cx="503.0" cy="293.4" r="4.8"/><circle cx="460.2" cy="394.5" r="4.5"/><circle cx="489.3" cy="371.5" r="6.2"/><circle cx="465.0" cy="316.4" r="3.3"/><circle cx="450.6" cy="326.3" r="6.2"/><circle cx="359.8" cy="358.9" r="5.5"/><circle cx="361.6" cy="313.6" r="4.9"/><circle cx="381.1" cy="403.7" r="5.7"/><circle cx="488.3" cy="369.9" r="5.0"/><circle cx="431.8" cy="368.3" r="5.9"/><circle cx="462.2" cy="299.1" r="4.5"/><circle cx="440.4" cy="278.6" r="6.8"/><circle cx="485.0" cy="356.7" r="6.2"/><circle cx="417.3" cy="359.1" r="5.8"/><circle cx="399.9" cy="392.2" r="4.4"/><circle cx="471.4" cy="347.2" r="3.9"/><circle cx="357.8" cy="367.1" r="6.6"/><circle cx="390.6" cy="275.4" r="5.5"/><circle cx="431.6" cy="314.9" r="5.7"/><circle cx="484.3" cy="376.3" r="6.3"/><circle cx="410.7" cy="378.3" r="3.9"/><circle cx="391.5" cy="411.8" r="4.4"/><circle cx="422.6" cy="314.9" r="6.5"/><circle cx="384.0" cy="352.0" r="3.6"/><circle cx="441.7" cy="260.6" r="6.4"/><circle cx="467.1" cy="268.0" r="6.6"/><circle cx="518.7" cy="305.6" r="5.9"/><circle cx="397.0" cy="392.9" r="4.0"/><circle cx="405.3" cy="363.7" r="6.7"/><circle cx="452.6" cy="335.6" r="3.7"/><circle cx="405.9" cy="371.4" r="3.3"/><circle cx="523.7" cy="298.8" r="5.5"/><circle cx="450.3" cy="418.3" r="4.2"/><circle cx="391.0" cy="351.3" r="3.5"/><circle cx="406.2" cy="378.5" r="4.4"/><circle cx="508.2" cy="301.0" r="4.6"/><circle cx="389.5" cy="414.9" r="3.7"/><circle cx="405.0" cy="286.6" r="3.8"/><circle cx="440.3" cy="321.5" r="3.4"/><circle cx="471.2" cy="300.9" r="5.7"/><circle cx="443.1" cy="376.6" r="4.3"/><circle cx="402.6" cy="386.3" r="4.9"/><circle cx="482.6" cy="270.7" r="6.0"/><circle cx="478.3" cy="356.3" r="5.4"/><circle cx="488.0" cy="379.8" r="3.7"/><circle cx="499.1" cy="291.1" r="6.2"/><circle cx="354.0" cy="357.7" r="4.4"/><circle cx="440.3" cy="273.7" r="5.9"/><circle cx="490.6" cy="356.1" r="5.1"/><circle cx="352.4" cy="358.0" r="5.7"/><circle cx="401.0" cy="377.6" r="3.2"/><circle cx="487.8" cy="265.9" r="4.3"/><circle cx="409.4" cy="384.7" r="4.2"/><circle cx="365.9" cy="395.3" r="6.0"/><circle cx="452.1" cy="263.7" r="5.1"/><circle cx="375.2" cy="392.3" r="3.3"/><circle cx="479.2" cy="284.1" r="4.1"/><circle cx="366.7" cy="384.4" r="4.5"/><circle cx="508.3" cy="278.5" r="4.8"/><circle cx="449.6" cy="410.3" r="5.7"/><circle cx="359.9" cy="316.4" r="3.5"/><circle cx="381.4" cy="332.5" r="5.0"/><circle cx="361.8" cy="371.4" r="3.8"/><circle cx="501.5" cy="340.0" r="4.0"/><circle cx="367.1" cy="324.9" r="5.9"/><circle cx="387.7" cy="279.6" r="6.5"/><circle cx="418.1" cy="355.3" r="6.7"/><circle cx="438.5" cy="275.7" r="3.3"/><circle cx="465.5" cy="359.5" r="4.2"/><circle cx="502.4" cy="292.1" r="3.7"/><circle cx="423.2" cy="374.3" r="5.7"/><circle cx="455.5" cy="266.6" r="6.4"/><circle cx="417.8" cy="351.7" r="6.6"/><circle cx="439.9" cy="383.2" r="5.7"/><circle cx="396.4" cy="270.7" r="4.1"/><circle cx="419.1" cy="358.4" r="6.5"/><circle cx="450.5" cy="400.7" r="5.1"/><circle cx="453.5" cy="343.0" r="5.9"/><circle cx="355.1" cy="337.2" r="5.3"/><circle cx="365.5" cy="357.6" r="5.6"/><circle cx="411.2" cy="299.7" r="6.5"/><circle cx="462.9" cy="282.9" r="3.6"/><circle cx="489.1" cy="265.1" r="4.5"/><circle cx="358.5" cy="352.5" r="4.1"/><circle cx="415.4" cy="273.5" r="4.6"/><circle cx="480.3" cy="324.0" r="6.0"/><circle cx="417.8" cy="333.7" r="3.4"/><circle cx="467.1" cy="326.7" r="6.4"/><circle cx="410.9" cy="302.9" r="5.5"/><circle cx="393.7" cy="291.3" r="6.4"/><circle cx="358.1" cy="363.2" r="5.4"/><circle cx="409.6" cy="317.5" r="4.9"/><circle cx="431.7" cy="327.8" r="5.8"/><circle cx="518.4" cy="293.5" r="4.5"/><circle cx="456.6" cy="411.8" r="4.2"/><circle cx="445.1" cy="308.6" r="4.2"/><circle cx="352.4" cy="350.1" r="3.5"/><circle cx="484.2" cy="330.1" r="3.8"/><circle cx="507.0" cy="309.8" r="3.7"/><circle cx="370.6" cy="359.6" r="6.4"/><circle cx="349.7" cy="335.1" r="3.2"/><circle cx="417.7" cy="272.2" r="3.9"/><circle cx="476.0" cy="298.8" r="6.2"/><circle cx="437.1" cy="325.9" r="5.4"/><circle cx="431.4" cy="379.9" r="3.7"/><circle cx="439.5" cy="354.1" r="6.2"/><circle cx="445.2" cy="392.2" r="6.1"/><circle cx="412.4" cy="398.0" r="6.3"/><circle cx="420.5" cy="337.6" r="6.6"/><circle cx="384.4" cy="322.4" r="5.9"/><circle cx="350.7" cy="356.8" r="6.2"/><circle cx="409.7" cy="370.1" r="4.7"/><circle cx="417.9" cy="408.4" r="4.0"/><circle cx="428.3" cy="335.9" r="6.0"/><circle cx="482.6" cy="277.4" r="6.0"/><circle cx="428.7" cy="315.9" r="4.4"/><circle cx="413.3" cy="324.9" r="6.0"/><circle cx="511.2" cy="287.4" r="5.4"/><circle cx="504.5" cy="337.0" r="3.9"/><circle cx="441.1" cy="372.6" r="3.9"/><circle cx="506.6" cy="326.8" r="5.0"/><circle cx="413.8" cy="386.3" r="6.2"/><circle cx="416.5" cy="266.8" r="5.2"/><circle cx="448.5" cy="270.2" r="4.6"/><circle cx="456.2" cy="267.9" r="5.9"/><circle cx="490.8" cy="300.3" r="3.7"/><circle cx="382.5" cy="395.7" r="4.4"/><circle cx="383.8" cy="389.5" r="4.4"/><circle cx="461.3" cy="393.2" r="4.3"/><circle cx="492.6" cy="295.1" r="5.5"/><circle cx="468.6" cy="329.5" r="5.1"/><circle cx="474.0" cy="403.1" r="5.1"/><circle cx="441.8" cy="412.8" r="4.7"/><circle cx="426.3" cy="400.4" r="5.8"/><circle cx="466.9" cy="291.7" r="5.6"/><circle cx="495.3" cy="316.7" r="3.9"/><circle cx="518.3" cy="310.5" r="3.5"/><circle cx="373.5" cy="352.1" r="4.1"/><circle cx="433.6" cy="257.6" r="4.6"/><circle cx="515.5" cy="294.1" r="5.8"/><circle cx="359.3" cy="379.4" r="3.2"/><circle cx="447.7" cy="343.9" r="4.1"/><circle cx="418.5" cy="378.0" r="4.5"/><circle cx="407.1" cy="365.3" r="5.0"/><circle cx="429.1" cy="377.1" r="6.1"/><circle cx="429.8" cy="418.8" r="5.5"/><circle cx="402.5" cy="312.9" r="5.6"/><circle cx="485.1" cy="332.3" r="4.8"/><circle cx="425.8" cy="398.0" r="4.1"/><circle cx="469.6" cy="393.5" r="5.6"/><circle cx="437.2" cy="273.2" r="5.1"/><circle cx="486.8" cy="302.6" r="5.8"/><circle cx="423.6" cy="349.9" r="3.5"/><circle cx="510.7" cy="292.4" r="3.6"/><circle cx="358.0" cy="334.3" r="5.0"/><circle cx="360.5" cy="364.0" r="4.7"/><circle cx="468.0" cy="272.0" r="4.0"/><circle cx="471.1" cy="357.9" r="4.5"/><circle cx="485.0" cy="331.9" r="6.0"/><circle cx="362.7" cy="311.3" r="3.8"/><circle cx="420.9" cy="297.6" r="4.7"/><circle cx="361.9" cy="339.1" r="4.6"/><circle cx="453.7" cy="291.9" r="5.7"/><circle cx="482.7" cy="377.0" r="4.0"/><circle cx="462.2" cy="389.5" r="3.4"/><circle cx="378.2" cy="343.5" r="4.7"/><circle cx="376.9" cy="323.1" r="5.7"/><circle cx="411.2" cy="316.5" r="4.8"/><circle cx="496.3" cy="259.9" r="4.2"/><circle cx="452.8" cy="412.4" r="6.1"/><circle cx="449.1" cy="404.4" r="5.2"/><circle cx="436.5" cy="372.9" r="5.3"/><circle cx="507.6" cy="321.7" r="4.8"/><circle cx="459.4" cy="359.6" r="5.9"/><circle cx="416.5" cy="355.7" r="5.4"/><circle cx="425.3" cy="401.2" r="4.5"/><circle cx="428.0" cy="274.8" r="5.1"/><circle cx="489.0" cy="358.8" r="4.1"/><circle cx="461.2" cy="390.2" r="5.8"/><circle cx="430.0" cy="406.9" r="4.2"/><circle cx="463.6" cy="282.5" r="6.6"/><circle cx="417.8" cy="316.0" r="4.6"/><circle cx="508.6" cy="320.6" r="5.4"/><circle cx="378.1" cy="321.4" r="5.3"/><circle cx="454.0" cy="395.2" r="4.8"/><circle cx="445.7" cy="259.0" r="5.4"/><circle cx="405.5" cy="419.8" r="5.0"/><circle cx="478.0" cy="387.0" r="5.8"/><circle cx="416.4" cy="390.4" r="5.7"/><circle cx="482.9" cy="324.6" r="4.1"/><circle cx="428.8" cy="362.3" r="3.4"/><circle cx="485.4" cy="360.9" r="4.7"/><circle cx="467.4" cy="317.4" r="5.7"/><circle cx="443.6" cy="377.7" r="6.2"/><circle cx="452.9" cy="408.9" r="5.1"/><circle cx="377.3" cy="330.4" r="4.3"/><circle cx="428.6" cy="303.1" r="4.0"/><circle cx="412.8" cy="390.2" r="4.3"/><circle cx="445.1" cy="301.3" r="4.5"/><circle cx="499.8" cy="353.1" r="3.4"/><circle cx="439.1" cy="257.1" r="5.6"/><circle cx="466.8" cy="316.4" r="3.6"/><circle cx="360.5" cy="376.3" r="5.7"/><circle cx="422.7" cy="343.6" r="5.4"/><circle cx="508.9" cy="334.5" r="4.5"/><circle cx="495.6" cy="296.1" r="4.7"/><circle cx="491.7" cy="285.0" r="4.9"/><circle cx="411.4" cy="300.0" r="5.1"/><circle cx="354.2" cy="314.7" r="4.9"/><circle cx="451.2" cy="401.9" r="6.0"/><circle cx="440.9" cy="309.2" r="5.6"/><circle cx="430.6" cy="312.1" r="4.6"/><circle cx="479.4" cy="331.0" r="3.9"/><circle cx="356.2" cy="316.1" r="4.7"/><circle cx="462.4" cy="380.7" r="6.4"/><circle cx="392.3" cy="307.0" r="3.9"/><circle cx="463.8" cy="265.8" r="3.4"/><circle cx="432.2" cy="371.1" r="3.3"/><circle cx="381.7" cy="335.2" r="5.0"/><circle cx="464.9" cy="380.5" r="3.6"/><circle cx="413.7" cy="407.9" r="6.0"/><circle cx="418.9" cy="289.2" r="5.6"/><circle cx="459.6" cy="410.5" r="3.5"/><circle cx="440.8" cy="394.1" r="4.1"/><circle cx="373.6" cy="366.5" r="6.4"/><circle cx="365.5" cy="329.1" r="4.1"/><circle cx="400.5" cy="389.6" r="4.1"/><circle cx="431.9" cy="333.1" r="4.0"/><circle cx="475.3" cy="399.5" r="4.8"/><circle cx="482.7" cy="302.2" r="5.7"/><circle cx="451.1" cy="265.1" r="5.2"/><circle cx="487.6" cy="341.2" r="4.5"/><circle cx="521.2" cy="310.2" r="5.5"/><circle cx="466.3" cy="313.9" r="6.2"/><circle cx="467.7" cy="325.0" r="4.3"/><circle cx="408.7" cy="386.5" r="6.4"/><circle cx="403.7" cy="381.4" r="4.8"/><circle cx="491.7" cy="356.3" r="5.3"/><circle cx="426.0" cy="355.3" r="4.3"/><circle cx="390.8" cy="402.9" r="3.3"/><circle cx="431.3" cy="354.1" r="3.8"/><circle cx="398.9" cy="390.6" r="5.0"/><circle cx="361.3" cy="370.3" r="3.7"/><circle cx="406.2" cy="304.7" r="6.5"/><circle cx="437.6" cy="415.7" r="4.1"/><circle cx="353.3" cy="316.5" r="5.9"/><circle cx="494.0" cy="279.2" r="5.6"/><circle cx="415.4" cy="399.1" r="5.2"/><circle cx="407.3" cy="393.3" r="6.5"/><circle cx="361.3" cy="363.5" r="5.4"/><circle cx="378.7" cy="316.5" r="6.1"/><circle cx="463.6" cy="374.7" r="4.4"/><circle cx="458.4" cy="348.0" r="3.3"/><circle cx="475.4" cy="268.9" r="5.4"/><circle cx="518.0" cy="315.7" r="6.6"/><circle cx="361.9" cy="342.3" r="4.1"/><circle cx="366.9" cy="365.7" r="4.3"/><circle cx="462.9" cy="389.7" r="4.5"/><circle cx="448.3" cy="370.3" r="4.7"/><circle cx="420.4" cy="348.0" r="3.6"/><circle cx="373.7" cy="388.9" r="4.8"/><circle cx="471.8" cy="333.3" r="6.4"/><circle cx="498.6" cy="266.3" r="5.0"/><circle cx="393.6" cy="365.0" r="4.0"/><circle cx="410.1" cy="278.7" r="4.5"/><circle cx="413.2" cy="315.1" r="3.5"/><circle cx="397.1" cy="276.0" r="5.1"/><circle cx="360.6" cy="313.1" r="3.6"/><circle cx="492.1" cy="357.4" r="4.7"/><circle cx="440.8" cy="350.3" r="5.7"/><circle cx="361.0" cy="373.8" r="3.7"/><circle cx="509.4" cy="327.3" r="5.9"/><circle cx="458.3" cy="299.7" r="4.7"/><circle cx="426.3" cy="298.8" r="3.6"/><circle cx="468.3" cy="350.8" r="6.3"/><circle cx="386.3" cy="331.8" r="6.4"/><circle cx="409.8" cy="333.6" r="5.9"/><circle cx="367.9" cy="363.8" r="5.5"/><circle cx="483.1" cy="292.0" r="5.6"/><circle cx="390.1" cy="304.5" r="4.7"/><circle cx="362.7" cy="365.3" r="5.1"/><circle cx="366.7" cy="329.2" r="4.9"/><circle cx="436.5" cy="271.9" r="5.3"/><circle cx="433.2" cy="388.7" r="4.6"/><circle cx="493.8" cy="377.0" r="4.4"/><circle cx="470.9" cy="361.5" r="5.8"/><circle cx="366.8" cy="351.3" r="5.4"/><circle cx="400.5" cy="417.0" r="4.9"/><circle cx="467.3" cy="382.0" r="6.2"/><circle cx="492.6" cy="271.1" r="3.8"/><circle cx="498.9" cy="339.2" r="3.6"/><circle cx="444.4" cy="339.0" r="3.4"/><circle cx="471.5" cy="268.9" r="3.9"/><circle cx="392.6" cy="279.9" r="5.4"/><circle cx="445.1" cy="380.1" r="4.1"/><circle cx="456.0" cy="342.1" r="3.6"/><circle cx="410.1" cy="421.7" r="4.5"/><circle cx="372.0" cy="398.2" r="3.9"/><circle cx="501.5" cy="307.1" r="3.7"/><circle cx="471.9" cy="399.3" r="5.4"/><circle cx="424.2" cy="408.3" r="4.4"/><circle cx="389.0" cy="326.4" r="6.4"/><circle cx="390.3" cy="303.9" r="5.1"/><circle cx="420.8" cy="422.5" r="4.5"/><circle cx="473.8" cy="294.8" r="6.1"/><circle cx="386.4" cy="388.8" r="5.4"/><circle cx="472.9" cy="318.2" r="5.9"/><circle cx="444.3" cy="384.7" r="5.2"/><circle cx="428.2" cy="260.2" r="6.6"/><circle cx="401.0" cy="361.8" r="6.2"/><circle cx="421.2" cy="279.0" r="5.8"/><circle cx="362.2" cy="352.7" r="4.2"/><circle cx="377.4" cy="318.5" r="5.2"/><circle cx="472.1" cy="328.2" r="3.3"/><circle cx="423.6" cy="413.0" r="6.0"/><circle cx="359.6" cy="311.0" r="4.9"/><circle cx="469.9" cy="314.7" r="6.1"/><circle cx="428.4" cy="359.0" r="6.7"/><circle cx="428.3" cy="368.7" r="4.9"/><circle cx="469.4" cy="399.0" r="4.3"/><circle cx="440.7" cy="386.3" r="6.2"/><circle cx="484.4" cy="320.8" r="3.6"/><circle cx="354.6" cy="319.1" r="6.5"/><circle cx="495.5" cy="315.9" r="3.8"/><circle cx="403.7" cy="388.3" r="6.1"/><circle cx="386.4" cy="411.3" r="6.0"/><circle cx="418.7" cy="266.4" r="5.0"/><circle cx="436.6" cy="365.3" r="5.6"/><circle cx="454.3" cy="362.0" r="3.8"/><circle cx="434.7" cy="295.3" r="5.5"/><circle cx="436.9" cy="419.4" r="4.1"/><circle cx="511.8" cy="320.9" r="5.4"/><circle cx="429.7" cy="377.1" r="3.9"/><circle cx="458.4" cy="337.3" r="6.7"/><circle cx="410.0" cy="389.3" r="5.5"/><circle cx="418.4" cy="290.4" r="5.8"/><circle cx="421.8" cy="323.4" r="6.5"/><circle cx="435.6" cy="276.8" r="3.4"/><circle cx="483.1" cy="345.9" r="3.4"/><circle cx="365.6" cy="389.7" r="6.2"/><circle cx="472.2" cy="369.8" r="5.5"/><circle cx="454.0" cy="273.9" r="4.1"/><circle cx="440.1" cy="257.3" r="5.4"/><circle cx="401.4" cy="273.8" r="4.6"/><circle cx="434.1" cy="257.7" r="6.0"/><circle cx="443.9" cy="297.3" r="6.2"/><circle cx="419.4" cy="327.1" r="6.0"/><circle cx="470.7" cy="314.4" r="3.6"/><circle cx="437.6" cy="275.0" r="4.4"/><circle cx="423.9" cy="314.5" r="4.6"/><circle cx="429.7" cy="284.7" r="6.5"/><circle cx="449.9" cy="263.8" r="4.2"/><circle cx="416.9" cy="385.4" r="5.9"/><circle cx="451.4" cy="383.1" r="4.3"/><circle cx="462.5" cy="267.6" r="4.0"/><circle cx="407.3" cy="321.5" r="4.2"/><circle cx="434.9" cy="294.6" r="4.4"/><circle cx="468.7" cy="348.1" r="4.6"/><circle cx="374.9" cy="351.2" r="3.8"/><circle cx="497.3" cy="309.3" r="6.6"/><circle cx="454.7" cy="276.0" r="5.0"/><circle cx="504.3" cy="354.0" r="5.4"/><circle cx="463.0" cy="291.2" r="5.2"/><circle cx="497.1" cy="370.8" r="6.3"/><circle cx="362.5" cy="328.1" r="3.4"/><circle cx="357.2" cy="344.9" r="6.5"/><circle cx="375.7" cy="386.9" r="6.4"/><circle cx="457.5" cy="325.1" r="5.2"/><circle cx="445.1" cy="334.8" r="5.5"/><circle cx="444.7" cy="384.9" r="6.3"/><circle cx="472.7" cy="285.6" r="5.6"/><circle cx="481.4" cy="385.0" r="5.1"/><circle cx="476.2" cy="318.6" r="6.5"/><circle cx="349.1" cy="348.4" r="3.3"/><circle cx="475.2" cy="389.7" r="6.8"/><circle cx="462.1" cy="272.9" r="5.6"/><circle cx="424.5" cy="348.4" r="4.4"/><circle cx="505.9" cy="288.2" r="6.1"/><circle cx="477.1" cy="334.1" r="4.2"/><circle cx="383.2" cy="402.2" r="3.7"/><circle cx="468.5" cy="389.5" r="3.5"/><circle cx="450.8" cy="266.5" r="4.5"/><circle cx="497.6" cy="366.3" r="5.4"/><circle cx="391.8" cy="351.9" r="3.5"/><circle cx="503.0" cy="275.6" r="6.3"/><circle cx="393.3" cy="348.2" r="5.8"/><circle cx="478.9" cy="293.4" r="3.7"/><circle cx="363.3" cy="315.5" r="5.8"/><circle cx="464.3" cy="288.8" r="6.0"/><circle cx="472.4" cy="379.0" r="5.4"/><circle cx="478.5" cy="358.1" r="4.6"/><circle cx="431.0" cy="392.9" r="4.2"/><circle cx="379.9" cy="365.1" r="3.4"/><circle cx="422.5" cy="319.2" r="3.6"/><circle cx="398.1" cy="321.5" r="3.3"/><circle cx="372.8" cy="336.1" r="3.8"/><circle cx="480.1" cy="383.1" r="6.3"/><circle cx="413.7" cy="266.1" r="4.6"/><circle cx="389.8" cy="401.7" r="5.1"/><circle cx="391.1" cy="388.9" r="3.3"/><circle cx="428.3" cy="398.9" r="6.3"/><circle cx="472.6" cy="403.3" r="4.1"/><circle cx="428.3" cy="265.5" r="5.0"/><circle cx="415.5" cy="394.5" r="6.8"/><circle cx="483.7" cy="274.6" r="4.1"/><circle cx="409.4" cy="286.9" r="3.6"/><circle cx="435.0" cy="371.5" r="4.2"/><circle cx="358.2" cy="352.7" r="4.1"/><circle cx="431.1" cy="403.1" r="5.9"/><circle cx="416.4" cy="419.8" r="5.8"/><circle cx="484.7" cy="310.6" r="6.6"/><circle cx="427.7" cy="361.5" r="6.3"/><circle cx="445.4" cy="261.2" r="4.4"/><circle cx="508.9" cy="320.9" r="6.2"/><circle cx="418.1" cy="413.2" r="4.7"/><circle cx="402.4" cy="320.1" r="3.7"/><circle cx="382.8" cy="349.6" r="3.4"/><circle cx="423.7" cy="276.4" r="5.2"/><circle cx="363.9" cy="375.3" r="3.4"/><circle cx="417.3" cy="342.3" r="6.5"/><circle cx="392.2" cy="292.6" r="5.6"/><circle cx="426.5" cy="419.9" r="6.5"/><circle cx="491.8" cy="280.7" r="3.7"/><circle cx="408.2" cy="371.3" r="5.5"/><circle cx="364.4" cy="359.3" r="5.8"/><circle cx="452.2" cy="366.8" r="4.1"/><circle cx="383.2" cy="349.1" r="6.7"/><circle cx="396.3" cy="366.7" r="6.7"/><circle cx="517.0" cy="303.0" r="3.4"/><circle cx="398.9" cy="272.5" r="5.6"/><circle cx="462.0" cy="388.4" r="4.3"/><circle cx="386.1" cy="316.3" r="5.0"/><circle cx="461.6" cy="323.4" r="4.9"/><circle cx="457.5" cy="338.4" r="5.3"/><circle cx="453.5" cy="290.2" r="4.9"/><circle cx="400.2" cy="346.6" r="4.3"/><circle cx="502.7" cy="354.6" r="6.5"/><circle cx="423.5" cy="272.5" r="6.0"/><circle cx="376.2" cy="349.1" r="6.7"/><circle cx="482.7" cy="296.4" r="6.1"/><circle cx="353.0" cy="356.6" r="4.9"/><circle cx="486.2" cy="327.0" r="4.9"/><circle cx="441.3" cy="317.0" r="4.4"/><circle cx="493.5" cy="329.1" r="3.7"/><circle cx="453.4" cy="356.9" r="4.5"/><circle cx="438.6" cy="258.8" r="3.7"/><circle cx="484.4" cy="328.8" r="5.6"/><circle cx="447.8" cy="376.6" r="6.4"/><circle cx="423.2" cy="378.0" r="4.1"/><circle cx="483.0" cy="343.7" r="4.4"/><circle cx="475.4" cy="270.7" r="4.1"/><circle cx="452.3" cy="385.3" r="5.7"/><circle cx="461.4" cy="285.3" r="4.2"/><circle cx="396.2" cy="383.6" r="4.0"/><circle cx="525.0" cy="302.2" r="6.8"/><circle cx="481.7" cy="364.2" r="6.6"/><circle cx="377.9" cy="397.6" r="5.9"/><circle cx="489.8" cy="376.0" r="5.1"/><circle cx="460.0" cy="304.0" r="5.3"/><circle cx="420.0" cy="394.6" r="4.5"/><circle cx="386.7" cy="382.7" r="3.4"/><circle cx="478.3" cy="310.8" r="5.6"/><circle cx="486.9" cy="284.7" r="3.9"/><circle cx="374.5" cy="321.2" r="4.2"/><circle cx="423.9" cy="351.5" r="6.7"/><circle cx="395.4" cy="293.0" r="5.0"/><circle cx="463.4" cy="292.7" r="5.5"/><circle cx="466.8" cy="316.1" r="6.4"/><circle cx="410.4" cy="275.9" r="6.6"/><circle cx="455.6" cy="267.6" r="3.8"/><circle cx="365.4" cy="396.6" r="4.2"/><circle cx="417.2" cy="269.2" r="5.4"/><circle cx="408.6" cy="323.7" r="5.8"/><circle cx="419.8" cy="376.6" r="5.9"/><circle cx="422.2" cy="312.4" r="6.2"/><circle cx="467.6" cy="342.9" r="3.3"/><circle cx="383.0" cy="398.1" r="5.0"/><circle cx="470.8" cy="300.1" r="5.2"/><circle cx="394.7" cy="387.7" r="4.4"/><circle cx="452.7" cy="364.6" r="3.8"/><circle cx="410.2" cy="397.8" r="4.4"/><circle cx="468.8" cy="368.8" r="6.6"/><circle cx="450.9" cy="321.4" r="5.7"/><circle cx="453.6" cy="275.5" r="6.2"/><circle cx="451.2" cy="408.9" r="5.9"/><circle cx="487.2" cy="360.7" r="4.7"/><circle cx="446.0" cy="305.2" r="4.1"/><circle cx="496.5" cy="322.8" r="5.1"/><circle cx="472.3" cy="371.4" r="4.7"/><circle cx="495.0" cy="323.5" r="5.7"/><circle cx="371.7" cy="389.6" r="4.2"/><circle cx="484.9" cy="358.1" r="5.5"/><circle cx="467.5" cy="303.3" r="3.8"/><circle cx="428.4" cy="312.0" r="6.6"/><circle cx="498.3" cy="307.6" r="5.8"/><circle cx="419.5" cy="319.1" r="6.7"/><circle cx="504.3" cy="357.4" r="3.8"/><circle cx="454.9" cy="348.6" r="5.1"/><circle cx="391.9" cy="411.2" r="4.1"/><circle cx="355.8" cy="313.3" r="5.0"/><circle cx="382.8" cy="351.3" r="6.5"/><circle cx="406.6" cy="285.7" r="3.5"/><circle cx="419.0" cy="389.0" r="6.4"/><circle cx="394.8" cy="273.9" r="4.7"/><circle cx="491.7" cy="379.9" r="4.6"/><circle cx="426.8" cy="398.3" r="3.6"/><circle cx="368.7" cy="372.1" r="4.6"/><circle cx="384.9" cy="348.5" r="6.3"/><circle cx="466.1" cy="297.6" r="4.4"/><circle cx="424.9" cy="287.0" r="6.7"/><circle cx="433.7" cy="419.8" r="5.3"/><circle cx="418.9" cy="331.4" r="3.4"/><circle cx="435.2" cy="263.9" r="4.4"/><circle cx="517.4" cy="303.5" r="5.5"/><circle cx="416.8" cy="418.6" r="5.5"/><circle cx="417.0" cy="287.7" r="5.1"/><circle cx="453.0" cy="376.4" r="4.0"/><circle cx="396.0" cy="349.1" r="6.6"/><circle cx="431.3" cy="324.2" r="4.8"/><circle cx="438.2" cy="414.0" r="4.9"/><circle cx="394.9" cy="323.1" r="4.9"/><circle cx="405.5" cy="365.4" r="6.8"/><circle cx="411.2" cy="347.6" r="5.6"/><circle cx="419.8" cy="296.2" r="3.7"/><circle cx="439.5" cy="422.5" r="4.2"/><circle cx="526.5" cy="301.8" r="4.9"/><circle cx="471.5" cy="300.7" r="6.0"/><circle cx="395.1" cy="405.8" r="6.5"/><circle cx="425.5" cy="420.8" r="5.3"/><circle cx="381.2" cy="338.2" r="6.3"/><circle cx="433.4" cy="280.7" r="4.5"/></g>
<g fill="url(#sL)"><circle cx="259" cy="278.8" r="4.2"/><circle cx="265" cy="278.2" r="4.5"/><circle cx="270.8" cy="280" r="4.2"/><circle cx="273.2" cy="283.6" r="3.2"/></g>
<circle cx="430.2" cy="404.6" r="4.3" fill="#f4f6fa"/>
<path d="M158.90 333.20 C160.47 333.12 164.50 333.23 168.30 332.70 C172.10 332.17 178.58 330.67 181.70 330.00 C184.82 329.33 184.78 328.58 187.00 328.70 C189.22 328.82 191.45 330.27 195.00 330.70 C198.55 331.13 203.85 331.53 208.30 331.30 C212.75 331.07 217.70 329.85 221.70 329.30 C225.70 328.75 228.70 328.38 232.30 328.00 C235.90 327.62 239.52 327.20 243.30 327.00 C247.08 326.80 251.10 326.83 255.00 326.80 C258.90 326.77 262.53 326.55 266.70 326.80 C270.87 327.05 275.95 327.68 280.00 328.30 C284.05 328.92 287.12 329.68 291.00 330.50 C294.88 331.32 299.63 332.20 303.30 333.20 C306.97 334.20 310.22 335.28 313.00 336.50 C315.78 337.72 317.58 339.08 320.00 340.50 C322.42 341.92 325.00 344.12 327.50 345.00 C330.00 345.88 332.50 346.12 335.00 345.75 C337.50 345.38 340.38 344.12 342.50 342.75 C344.62 341.38 346.50 339.25 347.75 337.50 C349.00 335.75 349.25 333.38 350.00 332.25 C350.75 331.12 351.38 330.62 352.25 330.75 C353.12 330.88 354.12 331.88 355.25 333.00 C356.38 334.12 357.62 336.12 359.00 337.50 C360.38 338.88 362.00 340.75 363.50 341.25 C365.00 341.75 366.75 341.38 368.00 340.50 C369.25 339.62 370.12 337.75 371.00 336.00 C371.88 334.25 372.38 331.38 373.25 330.00 C374.12 328.62 375.12 328.00 376.25 327.75 C377.38 327.50 378.62 327.88 380.00 328.50 C381.38 329.12 382.75 330.62 384.50 331.50 C386.25 332.38 388.50 333.50 390.50 333.75 C392.50 334.00 394.50 333.50 396.50 333.00 C398.50 332.50 400.88 331.38 402.50 330.75 C404.12 330.12 405.62 329.50 406.25 329.25" fill="none" stroke="#c01800" stroke-width="7.0" stroke-linecap="round" stroke-linejoin="round"/>
<path d="M158.90 333.20 C160.47 333.12 164.50 333.23 168.30 332.70 C172.10 332.17 178.58 330.67 181.70 330.00 C184.82 329.33 184.78 328.58 187.00 328.70 C189.22 328.82 191.45 330.27 195.00 330.70 C198.55 331.13 203.85 331.53 208.30 331.30 C212.75 331.07 217.70 329.85 221.70 329.30 C225.70 328.75 228.70 328.38 232.30 328.00 C235.90 327.62 239.52 327.20 243.30 327.00 C247.08 326.80 251.10 326.83 255.00 326.80 C258.90 326.77 262.53 326.55 266.70 326.80 C270.87 327.05 275.95 327.68 280.00 328.30 C284.05 328.92 287.12 329.68 291.00 330.50 C294.88 331.32 299.63 332.20 303.30 333.20 C306.97 334.20 310.22 335.28 313.00 336.50 C315.78 337.72 317.58 339.08 320.00 340.50 C322.42 341.92 325.00 344.12 327.50 345.00 C330.00 345.88 332.50 346.12 335.00 345.75 C337.50 345.38 340.38 344.12 342.50 342.75 C344.62 341.38 346.50 339.25 347.75 337.50 C349.00 335.75 349.25 333.38 350.00 332.25 C350.75 331.12 351.38 330.62 352.25 330.75 C353.12 330.88 354.12 331.88 355.25 333.00 C356.38 334.12 357.62 336.12 359.00 337.50 C360.38 338.88 362.00 340.75 363.50 341.25 C365.00 341.75 366.75 341.38 368.00 340.50 C369.25 339.62 370.12 337.75 371.00 336.00 C371.88 334.25 372.38 331.38 373.25 330.00 C374.12 328.62 375.12 328.00 376.25 327.75 C377.38 327.50 378.62 327.88 380.00 328.50 C381.38 329.12 382.75 330.62 384.50 331.50 C386.25 332.38 388.50 333.50 390.50 333.75 C392.50 334.00 394.50 333.50 396.50 333.00 C398.50 332.50 400.88 331.38 402.50 330.75 C404.12 330.12 405.62 329.50 406.25 329.25" fill="none" stroke="#f02a04" stroke-width="5.5" stroke-linecap="round" stroke-linejoin="round"/>
<path d="M158.90 333.20 C160.47 333.12 164.50 333.23 168.30 332.70 C172.10 332.17 178.58 330.67 181.70 330.00 C184.82 329.33 184.78 328.58 187.00 328.70 C189.22 328.82 191.45 330.27 195.00 330.70 C198.55 331.13 203.85 331.53 208.30 331.30 C212.75 331.07 217.70 329.85 221.70 329.30 C225.70 328.75 228.70 328.38 232.30 328.00 C235.90 327.62 239.52 327.20 243.30 327.00 C247.08 326.80 251.10 326.83 255.00 326.80 C258.90 326.77 262.53 326.55 266.70 326.80 C270.87 327.05 275.95 327.68 280.00 328.30 C284.05 328.92 287.12 329.68 291.00 330.50 C294.88 331.32 299.63 332.20 303.30 333.20 C306.97 334.20 310.22 335.28 313.00 336.50 C315.78 337.72 317.58 339.08 320.00 340.50 C322.42 341.92 325.00 344.12 327.50 345.00 C330.00 345.88 332.50 346.12 335.00 345.75 C337.50 345.38 340.38 344.12 342.50 342.75 C344.62 341.38 346.50 339.25 347.75 337.50 C349.00 335.75 349.25 333.38 350.00 332.25 C350.75 331.12 351.38 330.62 352.25 330.75 C353.12 330.88 354.12 331.88 355.25 333.00 C356.38 334.12 357.62 336.12 359.00 337.50 C360.38 338.88 362.00 340.75 363.50 341.25 C365.00 341.75 366.75 341.38 368.00 340.50 C369.25 339.62 370.12 337.75 371.00 336.00 C371.88 334.25 372.38 331.38 373.25 330.00 C374.12 328.62 375.12 328.00 376.25 327.75 C377.38 327.50 378.62 327.88 380.00 328.50 C381.38 329.12 382.75 330.62 384.50 331.50 C386.25 332.38 388.50 333.50 390.50 333.75 C392.50 334.00 394.50 333.50 396.50 333.00 C398.50 332.50 400.88 331.38 402.50 330.75 C404.12 330.12 405.62 329.50 406.25 329.25" fill="none" stroke="#ff6a1c" stroke-width="1.6" stroke-linecap="round" transform="translate(0,-0.6)" opacity="0.85"/>
<g filter="url(#fBlur8)"><text x="108.88" y="235.00" font-size="13.95" textLength="80.82" lengthAdjust="spacingAndGlyphs" fill="#ff3818" stroke="#ff3818" stroke-width="5.0" stroke-linejoin="round">Peptide MTB</text></g><text x="108.88" y="235.00" font-size="13.95" textLength="80.82" lengthAdjust="spacingAndGlyphs" fill="#1c0c08" stroke="#1c0c08" stroke-width="0.4">Peptide MTB</text>
<g filter="url(#fBlur8)"><text x="245.21" y="241.20" font-size="13.08" textLength="65.07" lengthAdjust="spacingAndGlyphs" fill="#14d6c6" stroke="#14d6c6" stroke-width="5.0" stroke-linejoin="round">α-tubuline</text></g><text x="245.21" y="241.20" font-size="13.08" textLength="65.07" lengthAdjust="spacingAndGlyphs" fill="#06201e" stroke="#06201e" stroke-width="0.4">α-tubuline</text>
<g filter="url(#fBlur8)"><text x="17.68" y="285.20" font-size="13.08" textLength="64.12" lengthAdjust="spacingAndGlyphs" fill="#4f8ae8" stroke="#4f8ae8" stroke-width="5.0" stroke-linejoin="round">β-tubuline</text></g><text x="17.68" y="285.20" font-size="13.08" textLength="64.12" lengthAdjust="spacingAndGlyphs" fill="#0a1226" stroke="#0a1226" stroke-width="0.4">β-tubuline</text>
<text x="327.52" y="227.80" font-size="16.42" textLength="214.42" lengthAdjust="spacingAndGlyphs" fill="#161616" stroke="#161616" stroke-width="0.25">Pathogenic mutations in FTLD</text>
</svg></body></html>
